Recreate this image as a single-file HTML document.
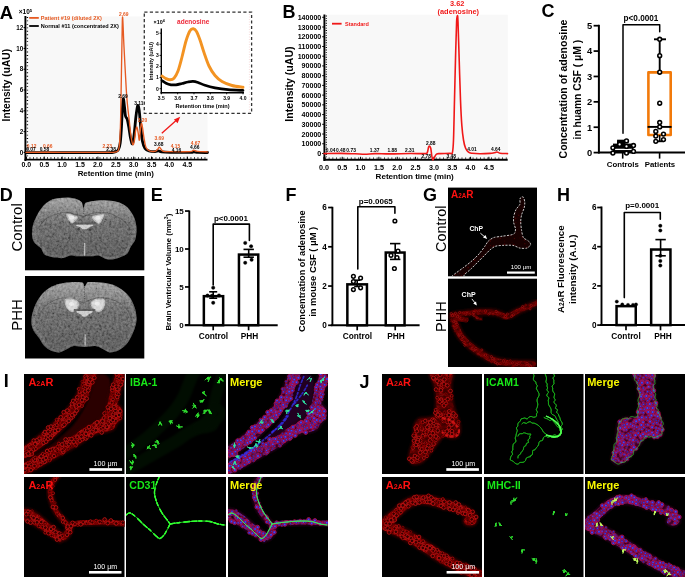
<!DOCTYPE html>
<html><head><meta charset="utf-8"><title>Figure</title>
<style>
html,body{margin:0;padding:0;background:#fff;}
body{width:685px;height:577px;overflow:hidden;}
svg{display:block;font-family:"Liberation Sans", sans-serif;will-change:transform;}
</style></head><body>
<svg width="685" height="577" viewBox="0 0 685 577">
<defs><filter id="soft" x="-5%" y="-5%" width="110%" height="110%"><feGaussianBlur stdDeviation="0.45"/></filter>
<filter id="noise" x="0" y="0" width="100%" height="100%"><feTurbulence type="fractalNoise" baseFrequency="0.42" numOctaves="3" seed="3"/><feColorMatrix type="matrix" values="1.2 0 0 0 -0.1  1.2 0 0 0 -0.1  1.2 0 0 0 -0.1  0 0 0 0 1"/></filter>
<linearGradient id="brainGrad" x1="0" y1="0" x2="0" y2="1"><stop offset="0" stop-color="#b0b0b0" stop-opacity="0.7"/><stop offset="0.22" stop-color="#959595" stop-opacity="0.45"/><stop offset="0.45" stop-color="#707070" stop-opacity="0.05"/><stop offset="0.75" stop-color="#303030" stop-opacity="0.15"/><stop offset="1" stop-color="#303030" stop-opacity="0.25"/></linearGradient>
<pattern id="pR" width="12" height="12" patternUnits="userSpaceOnUse" patternTransform="rotate(20)"><rect width="12" height="12" fill="#5a0000"/><circle cx="5.43" cy="6.72" r="1.46" fill="#3a0000" stroke="#c80a0a" stroke-width="0.75"/><circle cx="5.59" cy="6.09" r="1.29" fill="#3a0000" stroke="#c80a0a" stroke-width="0.75"/><circle cx="2.22" cy="6.14" r="1.31" fill="#3a0000" stroke="#c80a0a" stroke-width="0.75"/><circle cx="14.22" cy="6.14" r="1.31" fill="#3a0000" stroke="#c80a0a" stroke-width="0.75"/><circle cx="9.52" cy="1.13" r="1.15" fill="#3a0000" stroke="#c80a0a" stroke-width="0.75"/><circle cx="9.52" cy="13.13" r="1.15" fill="#3a0000" stroke="#c80a0a" stroke-width="0.75"/><circle cx="1.09" cy="-2.28" r="1.35" fill="#3a0000" stroke="#c80a0a" stroke-width="0.75"/><circle cx="1.09" cy="9.72" r="1.35" fill="#3a0000" stroke="#c80a0a" stroke-width="0.75"/><circle cx="13.09" cy="-2.28" r="1.35" fill="#3a0000" stroke="#c80a0a" stroke-width="0.75"/><circle cx="13.09" cy="9.72" r="1.35" fill="#3a0000" stroke="#c80a0a" stroke-width="0.75"/><circle cx="0.5" cy="-0.21" r="1.48" fill="#3a0000" stroke="#c80a0a" stroke-width="0.75"/><circle cx="0.5" cy="11.79" r="1.48" fill="#3a0000" stroke="#c80a0a" stroke-width="0.75"/><circle cx="12.5" cy="-0.21" r="1.48" fill="#3a0000" stroke="#c80a0a" stroke-width="0.75"/><circle cx="12.5" cy="11.79" r="1.48" fill="#3a0000" stroke="#c80a0a" stroke-width="0.75"/><circle cx="7.85" cy="7.39" r="1.08" fill="#3a0000" stroke="#c80a0a" stroke-width="0.75"/><circle cx="0.18" cy="6.34" r="1.03" fill="#3a0000" stroke="#c80a0a" stroke-width="0.75"/><circle cx="12.18" cy="6.34" r="1.03" fill="#3a0000" stroke="#c80a0a" stroke-width="0.75"/><circle cx="2.28" cy="2.9" r="1.02" fill="#3a0000" stroke="#c80a0a" stroke-width="0.75"/><circle cx="5.57" cy="5.29" r="1.42" fill="#3a0000" stroke="#c80a0a" stroke-width="0.75"/><circle cx="6.23" cy="7.68" r="1.25" fill="#3a0000" stroke="#c80a0a" stroke-width="0.75"/><circle cx="7.95" cy="5.49" r="1.14" fill="#3a0000" stroke="#c80a0a" stroke-width="0.75"/><circle cx="-0.03" cy="-0.05" r="1.42" fill="#3a0000" stroke="#c80a0a" stroke-width="0.75"/><circle cx="-0.03" cy="11.95" r="1.42" fill="#3a0000" stroke="#c80a0a" stroke-width="0.75"/><circle cx="11.97" cy="-0.05" r="1.42" fill="#3a0000" stroke="#c80a0a" stroke-width="0.75"/><circle cx="11.97" cy="11.95" r="1.42" fill="#3a0000" stroke="#c80a0a" stroke-width="0.75"/><circle cx="8.49" cy="3.78" r="1.11" fill="#3a0000" stroke="#c80a0a" stroke-width="0.75"/></pattern>
<pattern id="pR2" width="9" height="9" patternUnits="userSpaceOnUse" patternTransform="rotate(35)"><rect width="9" height="9" fill="#400000"/><circle cx="4.27" cy="5.92" r="0.97" fill="#280000" stroke="#a00606" stroke-width="0.55"/><circle cx="1.28" cy="0.1" r="0.85" fill="#280000" stroke="#a00606" stroke-width="0.55"/><circle cx="1.28" cy="9.1" r="0.85" fill="#280000" stroke="#a00606" stroke-width="0.55"/><circle cx="10.28" cy="0.1" r="0.85" fill="#280000" stroke="#a00606" stroke-width="0.55"/><circle cx="10.28" cy="9.1" r="0.85" fill="#280000" stroke="#a00606" stroke-width="0.55"/><circle cx="2.47" cy="-1.71" r="0.98" fill="#280000" stroke="#a00606" stroke-width="0.55"/><circle cx="2.47" cy="7.29" r="0.98" fill="#280000" stroke="#a00606" stroke-width="0.55"/><circle cx="5.41" cy="5.02" r="0.96" fill="#280000" stroke="#a00606" stroke-width="0.55"/><circle cx="1.31" cy="3.96" r="0.76" fill="#280000" stroke="#a00606" stroke-width="0.55"/><circle cx="10.31" cy="3.96" r="0.76" fill="#280000" stroke="#a00606" stroke-width="0.55"/><circle cx="-0.85" cy="0.53" r="1.03" fill="#280000" stroke="#a00606" stroke-width="0.55"/><circle cx="-0.85" cy="9.53" r="1.03" fill="#280000" stroke="#a00606" stroke-width="0.55"/><circle cx="8.15" cy="0.53" r="1.03" fill="#280000" stroke="#a00606" stroke-width="0.55"/><circle cx="8.15" cy="9.53" r="1.03" fill="#280000" stroke="#a00606" stroke-width="0.55"/><circle cx="0.67" cy="6.18" r="0.83" fill="#280000" stroke="#a00606" stroke-width="0.55"/><circle cx="9.67" cy="6.18" r="0.83" fill="#280000" stroke="#a00606" stroke-width="0.55"/><circle cx="3.64" cy="-1.42" r="0.71" fill="#280000" stroke="#a00606" stroke-width="0.55"/><circle cx="3.64" cy="7.58" r="0.71" fill="#280000" stroke="#a00606" stroke-width="0.55"/><circle cx="0.55" cy="-0.76" r="0.9" fill="#280000" stroke="#a00606" stroke-width="0.55"/><circle cx="0.55" cy="8.24" r="0.9" fill="#280000" stroke="#a00606" stroke-width="0.55"/><circle cx="9.55" cy="-0.76" r="0.9" fill="#280000" stroke="#a00606" stroke-width="0.55"/><circle cx="9.55" cy="8.24" r="0.9" fill="#280000" stroke="#a00606" stroke-width="0.55"/><circle cx="0.82" cy="-0.12" r="1.08" fill="#280000" stroke="#a00606" stroke-width="0.55"/><circle cx="0.82" cy="8.88" r="1.08" fill="#280000" stroke="#a00606" stroke-width="0.55"/><circle cx="9.82" cy="-0.12" r="1.08" fill="#280000" stroke="#a00606" stroke-width="0.55"/><circle cx="9.82" cy="8.88" r="1.08" fill="#280000" stroke="#a00606" stroke-width="0.55"/><circle cx="1.01" cy="3.81" r="0.75" fill="#280000" stroke="#a00606" stroke-width="0.55"/><circle cx="10.01" cy="3.81" r="0.75" fill="#280000" stroke="#a00606" stroke-width="0.55"/><circle cx="2.81" cy="5.59" r="0.77" fill="#280000" stroke="#a00606" stroke-width="0.55"/><circle cx="6.27" cy="0.46" r="0.77" fill="#280000" stroke="#a00606" stroke-width="0.55"/><circle cx="6.27" cy="9.46" r="0.77" fill="#280000" stroke="#a00606" stroke-width="0.55"/><circle cx="-1.66" cy="3.6" r="0.87" fill="#280000" stroke="#a00606" stroke-width="0.55"/><circle cx="7.34" cy="3.6" r="0.87" fill="#280000" stroke="#a00606" stroke-width="0.55"/></pattern>
<pattern id="pM" width="12" height="12" patternUnits="userSpaceOnUse" patternTransform="rotate(20)"><rect width="12" height="12" fill="#3a0028"/><circle cx="3.11" cy="8.22" r="1.44" fill="#401070" stroke="#b8103a" stroke-width="0.7"/><circle cx="3.11" cy="8.22" r="0.79" fill="#3a3aff"/><circle cx="-1.81" cy="2.23" r="1.22" fill="#401070" stroke="#b8103a" stroke-width="0.7"/><circle cx="-1.81" cy="2.23" r="0.67" fill="#3a3aff"/><circle cx="10.19" cy="2.23" r="1.22" fill="#401070" stroke="#b8103a" stroke-width="0.7"/><circle cx="10.19" cy="2.23" r="0.67" fill="#3a3aff"/><circle cx="1.77" cy="2.7" r="1.47" fill="#401070" stroke="#b8103a" stroke-width="0.7"/><circle cx="1.77" cy="2.7" r="0.81" fill="#3a3aff"/><circle cx="13.77" cy="2.7" r="1.47" fill="#401070" stroke="#b8103a" stroke-width="0.7"/><circle cx="13.77" cy="2.7" r="0.81" fill="#3a3aff"/><circle cx="1.56" cy="6.38" r="1.21" fill="#401070" stroke="#b8103a" stroke-width="0.7"/><circle cx="1.56" cy="6.38" r="0.66" fill="#3a3aff"/><circle cx="13.56" cy="6.38" r="1.21" fill="#401070" stroke="#b8103a" stroke-width="0.7"/><circle cx="13.56" cy="6.38" r="0.66" fill="#3a3aff"/><circle cx="3.54" cy="5.18" r="1.52" fill="#401070" stroke="#b8103a" stroke-width="0.7"/><circle cx="3.54" cy="5.18" r="0.84" fill="#3a3aff"/><circle cx="7.3" cy="0.17" r="1.24" fill="#401070" stroke="#b8103a" stroke-width="0.7"/><circle cx="7.3" cy="0.17" r="0.68" fill="#3a3aff"/><circle cx="7.3" cy="12.17" r="1.24" fill="#401070" stroke="#b8103a" stroke-width="0.7"/><circle cx="7.3" cy="12.17" r="0.68" fill="#3a3aff"/><circle cx="1.76" cy="-1.54" r="1.5" fill="#401070" stroke="#b8103a" stroke-width="0.7"/><circle cx="1.76" cy="-1.54" r="0.83" fill="#3a3aff"/><circle cx="1.76" cy="10.46" r="1.5" fill="#401070" stroke="#b8103a" stroke-width="0.7"/><circle cx="1.76" cy="10.46" r="0.83" fill="#3a3aff"/><circle cx="13.76" cy="-1.54" r="1.5" fill="#401070" stroke="#b8103a" stroke-width="0.7"/><circle cx="13.76" cy="-1.54" r="0.83" fill="#3a3aff"/><circle cx="13.76" cy="10.46" r="1.5" fill="#401070" stroke="#b8103a" stroke-width="0.7"/><circle cx="13.76" cy="10.46" r="0.83" fill="#3a3aff"/><circle cx="-2.33" cy="-2.08" r="1.47" fill="#401070" stroke="#b8103a" stroke-width="0.7"/><circle cx="-2.33" cy="-2.08" r="0.81" fill="#3a3aff"/><circle cx="-2.33" cy="9.92" r="1.47" fill="#401070" stroke="#b8103a" stroke-width="0.7"/><circle cx="-2.33" cy="9.92" r="0.81" fill="#3a3aff"/><circle cx="9.67" cy="-2.08" r="1.47" fill="#401070" stroke="#b8103a" stroke-width="0.7"/><circle cx="9.67" cy="-2.08" r="0.81" fill="#3a3aff"/><circle cx="9.67" cy="9.92" r="1.47" fill="#401070" stroke="#b8103a" stroke-width="0.7"/><circle cx="9.67" cy="9.92" r="0.81" fill="#3a3aff"/><circle cx="-0.61" cy="9.53" r="1.23" fill="#401070" stroke="#b8103a" stroke-width="0.7"/><circle cx="-0.61" cy="9.53" r="0.68" fill="#3a3aff"/><circle cx="11.39" cy="9.53" r="1.23" fill="#401070" stroke="#b8103a" stroke-width="0.7"/><circle cx="11.39" cy="9.53" r="0.68" fill="#3a3aff"/><circle cx="-1.8" cy="5.84" r="1.48" fill="#401070" stroke="#b8103a" stroke-width="0.7"/><circle cx="-1.8" cy="5.84" r="0.81" fill="#3a3aff"/><circle cx="10.2" cy="5.84" r="1.48" fill="#401070" stroke="#b8103a" stroke-width="0.7"/><circle cx="10.2" cy="5.84" r="0.81" fill="#3a3aff"/><circle cx="6.77" cy="5.15" r="1.28" fill="#401070" stroke="#b8103a" stroke-width="0.7"/><circle cx="6.77" cy="5.15" r="0.71" fill="#3a3aff"/><circle cx="5.16" cy="3.77" r="1.16" fill="#401070" stroke="#b8103a" stroke-width="0.7"/><circle cx="5.16" cy="3.77" r="0.64" fill="#3a3aff"/><circle cx="-2.16" cy="-2.42" r="1.59" fill="#401070" stroke="#b8103a" stroke-width="0.7"/><circle cx="-2.16" cy="-2.42" r="0.88" fill="#3a3aff"/><circle cx="-2.16" cy="9.58" r="1.59" fill="#401070" stroke="#b8103a" stroke-width="0.7"/><circle cx="-2.16" cy="9.58" r="0.88" fill="#3a3aff"/><circle cx="9.84" cy="-2.42" r="1.59" fill="#401070" stroke="#b8103a" stroke-width="0.7"/><circle cx="9.84" cy="-2.42" r="0.88" fill="#3a3aff"/><circle cx="9.84" cy="9.58" r="1.59" fill="#401070" stroke="#b8103a" stroke-width="0.7"/><circle cx="9.84" cy="9.58" r="0.88" fill="#3a3aff"/></pattern>
<filter id="mottle" x="-5%" y="-5%" width="110%" height="110%"><feTurbulence type="fractalNoise" baseFrequency="0.18" numOctaves="2" seed="7" result="n"/><feColorMatrix in="n" type="matrix" values="0 0 0 0 1  0 0 0 0 1  0 0 0 0 1  1.6 0 0 0 -0.2" result="na"/><feComposite in="SourceGraphic" in2="na" operator="arithmetic" k1="0.9" k2="0.45" k3="0" k4="0"/><feGaussianBlur stdDeviation="0.35"/></filter>
<filter id="blur05" x="-10%" y="-10%" width="120%" height="120%"><feGaussianBlur stdDeviation="0.5"/></filter>
<filter id="blur035" x="-5%" y="-5%" width="110%" height="110%"><feGaussianBlur stdDeviation="0.3"/></filter>
<filter id="blur1" x="-20%" y="-20%" width="140%" height="140%"><feGaussianBlur stdDeviation="1.2"/></filter>
<filter id="glow" x="-20%" y="-20%" width="140%" height="140%"><feGaussianBlur stdDeviation="0.6" result="b"/><feMerge><feMergeNode in="b"/><feMergeNode in="SourceGraphic"/></feMerge></filter>
<g id="cr1"><circle r="1.45" fill="#300000" stroke="#b00c0c" stroke-width="0.8"/></g>
<g id="cr2"><circle r="1.1" fill="#280000" stroke="#960808" stroke-width="0.7"/></g>
<g id="cr3"><circle r="1.8" fill="#340000" stroke="#c01010" stroke-width="0.85"/></g>
<g id="cs1"><circle r="0.9" fill="#3a0000" stroke="#c01010" stroke-width="0.55"/></g>
<g id="cs2"><circle r="0.7" fill="#300000" stroke="#a00c0c" stroke-width="0.5"/></g>
<g id="cs3"><circle r="1.1" fill="#3a0000" stroke="#d01414" stroke-width="0.6"/></g>
<g id="cm1"><circle r="1.55" fill="#341080" stroke="#a80c3c" stroke-width="0.8"/><circle r="0.85" fill="#3c3ce0"/></g>
<g id="cm2"><circle r="1.2" fill="#2a0c70" stroke="#900a38" stroke-width="0.7"/><circle r="0.65" fill="#3434d0"/></g>
<g id="cm3"><circle r="1.9" fill="#3c1490" stroke="#b81044" stroke-width="0.85"/><circle r="1.0" fill="#4646f0"/></g>
<clipPath id="cG1"><rect x="448" y="187.6" width="89" height="88.7"/></clipPath>
<clipPath id="cG2"><rect x="448" y="278.7" width="89" height="88.3"/></clipPath>
<clipPath id="cI00"><rect x="24" y="374" width="100.5" height="100"/></clipPath>
<clipPath id="cI01"><rect x="126" y="374" width="100" height="100"/></clipPath>
<clipPath id="cI02"><rect x="228" y="374" width="100" height="100"/></clipPath>
<clipPath id="cI10"><rect x="24" y="477" width="100.5" height="100"/></clipPath>
<clipPath id="cI11"><rect x="126" y="477" width="100" height="100"/></clipPath>
<clipPath id="cI12"><rect x="228" y="477" width="100" height="100"/></clipPath>
<clipPath id="cJ00"><rect x="382" y="374" width="100" height="100"/></clipPath>
<clipPath id="cJ01"><rect x="484" y="374" width="99.5" height="100"/></clipPath>
<clipPath id="cJ02"><rect x="585" y="374" width="100" height="100"/></clipPath>
<clipPath id="cJ10"><rect x="382" y="477" width="100" height="100"/></clipPath>
<clipPath id="cJ11"><rect x="484" y="477" width="99.5" height="100"/></clipPath>
<clipPath id="cJ12"><rect x="585" y="477" width="100" height="100"/></clipPath>
<clipPath id="bc1"><path d="M83.7 208 C84.28 208.09 84.13 203.85 85.6 202.8 C87.07 201.75 90.98 201.39 93.5 201 C96.02 200.61 99.48 200.19 102.4 200.2 C105.33 200.21 110.06 200.56 113 201.1 C115.94 201.64 119.59 202.59 122 203.8 C124.41 205.02 127.24 207.05 129.1 209.2 C130.96 211.34 133.28 215.17 134.4 218.1 C135.53 221.03 136.47 225.5 136.6 228.7 C136.73 231.89 136.16 236.72 135.3 239.4 C134.45 242.09 132.1 244.45 130.9 246.6 C129.7 248.75 128.91 252.11 127.3 253.7 C125.69 255.29 122.34 256.34 120.2 257.2 C118.06 258.06 115.14 259.13 113 259.4 C110.86 259.67 108.03 259.58 105.9 259 C103.77 258.42 100.93 255.91 98.8 255.5 C96.67 255.09 93.83 256.18 91.7 256.3 C89.57 256.42 86.74 256.3 84.6 256.3 C82.45 256.3 79.55 256.42 77.4 256.3 C75.26 256.18 72.43 255.23 70.3 255.5 C68.17 255.77 65.87 257.85 63.2 258.1 C60.53 258.36 55.3 257.72 52.5 257.2 C49.7 256.68 46.24 255.94 44.5 254.6 C42.76 253.26 42.37 250.04 40.9 248.3 C39.43 246.56 36.04 244.86 34.7 243 C33.37 241.14 32.27 238.57 32 235.9 C31.73 233.23 32.09 228.41 32.9 225.2 C33.71 221.99 35.8 217.44 37.4 214.5 C39 211.56 41.61 207.75 43.6 205.6 C45.59 203.45 48.3 201.32 50.7 200.2 C53.1 199.07 56.93 198.49 59.6 198.1 C62.27 197.71 65.83 197.41 68.5 197.6 C71.17 197.79 75.42 198.71 77.4 199.4 C79.38 200.09 80.76 200.91 81.7 202.2 C82.64 203.49 83.12 207.91 83.7 208Z"/></clipPath>
<clipPath id="bc2"><path d="M84.6 286.5 C85.32 286.5 86.41 283.18 87.2 282.5 C88 281.82 87.89 282 89.9 282 C91.91 282 97.13 282.1 100.6 282.5 C104.06 282.9 109.53 283.44 113 284.7 C116.47 285.96 121.02 288.77 123.7 290.9 C126.39 293.03 129.16 296.09 130.9 298.9 C132.64 301.7 134.45 306.39 135.3 309.6 C136.16 312.81 136.73 317.36 136.6 320.3 C136.47 323.24 135.25 326.66 134.4 329.2 C133.55 331.74 132.1 334.94 130.9 337.2 C129.7 339.46 128.28 342.29 126.4 344.3 C124.53 346.31 120.94 349.39 118.4 350.6 C115.87 351.81 111.9 352.67 109.5 352.4 C107.1 352.13 104.55 349.75 102.4 348.8 C100.26 347.86 97.87 346.37 95.2 346.1 C92.53 345.83 87.79 347 84.6 347 C81.41 347 76.45 345.83 73.9 346.1 C71.35 346.37 69.74 347.86 67.6 348.8 C65.45 349.75 62.13 352.13 59.6 352.4 C57.07 352.67 53.1 351.68 50.7 350.6 C48.3 349.52 45.34 347.07 43.6 345.2 C41.86 343.32 40.57 340.23 39.1 338.1 C37.63 335.97 34.94 333.13 33.8 331 C32.66 328.87 31.77 326.3 31.5 323.9 C31.23 321.5 31.38 317.94 32 315 C32.62 312.06 34.27 307.24 35.6 304.3 C36.94 301.36 38.91 297.81 40.9 295.4 C42.89 292.98 46.09 289.94 48.9 288.2 C51.7 286.46 55.85 284.73 59.6 283.8 C63.35 282.87 70.48 282.19 73.9 282 C77.32 281.81 80.8 281.82 82.4 282.5 C84.01 283.18 83.88 286.5 84.6 286.5Z"/></clipPath></defs>
<rect x="26.5" y="16.5" width="181" height="141" fill="#f8f8f8"/>
<text x="-0.3" y="18.8" font-size="18.4" fill="#000" text-anchor="start" font-weight="bold">A</text>
<text x="18.8" y="13.9" font-size="6.5" fill="#000" text-anchor="start" font-weight="bold">×10<tspan font-size="4.2" dy="-2.2">5</tspan></text>
<line x1="25.4" y1="16" x2="25.4" y2="161" stroke="#000" stroke-width="1.9"/>
<line x1="27.4" y1="17" x2="27.4" y2="158" stroke="#000" stroke-width="1.4" stroke-dasharray="0.9 2.56"/>
<line x1="23.6" y1="152.4" x2="26" y2="152.4" stroke="#000" stroke-width="1.1"/>
<text x="23.2" y="154.65" font-size="6.3" fill="#000" text-anchor="end" font-weight="bold">0</text>
<line x1="23.6" y1="131.6" x2="26" y2="131.6" stroke="#000" stroke-width="1.1"/>
<text x="23.2" y="133.85" font-size="6.3" fill="#000" text-anchor="end" font-weight="bold">2</text>
<line x1="23.6" y1="110.8" x2="26" y2="110.8" stroke="#000" stroke-width="1.1"/>
<text x="23.2" y="113.05" font-size="6.3" fill="#000" text-anchor="end" font-weight="bold">4</text>
<line x1="23.6" y1="90" x2="26" y2="90" stroke="#000" stroke-width="1.1"/>
<text x="23.2" y="92.25" font-size="6.3" fill="#000" text-anchor="end" font-weight="bold">6</text>
<line x1="23.6" y1="69.2" x2="26" y2="69.2" stroke="#000" stroke-width="1.1"/>
<text x="23.2" y="71.45" font-size="6.3" fill="#000" text-anchor="end" font-weight="bold">8</text>
<line x1="23.6" y1="48.4" x2="26" y2="48.4" stroke="#000" stroke-width="1.1"/>
<text x="23.2" y="50.65" font-size="6.3" fill="#000" text-anchor="end" font-weight="bold">10</text>
<line x1="23.6" y1="27.6" x2="26" y2="27.6" stroke="#000" stroke-width="1.1"/>
<text x="23.2" y="29.85" font-size="6.3" fill="#000" text-anchor="end" font-weight="bold">12</text>
<text x="10.2" y="85.2" font-size="10.2" fill="#000" text-anchor="middle" font-weight="bold" transform="rotate(-90 10.2 85.2)">Intensity (uAU)</text>
<line x1="24.5" y1="159.6" x2="207.5" y2="159.6" stroke="#000" stroke-width="1.9"/>
<line x1="26" y1="157.9" x2="207.5" y2="157.9" stroke="#000" stroke-width="1.5" stroke-dasharray="0.9 2.6"/>
<line x1="26.4" y1="156.6" x2="26.4" y2="159" stroke="#000" stroke-width="1"/>
<text x="26.4" y="167.3" font-size="7" fill="#000" text-anchor="middle" font-weight="bold">0.0</text>
<line x1="44.27" y1="156.6" x2="44.27" y2="159" stroke="#000" stroke-width="1"/>
<text x="44.27" y="167.3" font-size="7" fill="#000" text-anchor="middle" font-weight="bold">0.5</text>
<line x1="62.15" y1="156.6" x2="62.15" y2="159" stroke="#000" stroke-width="1"/>
<text x="62.15" y="167.3" font-size="7" fill="#000" text-anchor="middle" font-weight="bold">1.0</text>
<line x1="80.03" y1="156.6" x2="80.03" y2="159" stroke="#000" stroke-width="1"/>
<text x="80.03" y="167.3" font-size="7" fill="#000" text-anchor="middle" font-weight="bold">1.5</text>
<line x1="97.9" y1="156.6" x2="97.9" y2="159" stroke="#000" stroke-width="1"/>
<text x="97.9" y="167.3" font-size="7" fill="#000" text-anchor="middle" font-weight="bold">2.0</text>
<line x1="115.78" y1="156.6" x2="115.78" y2="159" stroke="#000" stroke-width="1"/>
<text x="115.78" y="167.3" font-size="7" fill="#000" text-anchor="middle" font-weight="bold">2.5</text>
<line x1="133.65" y1="156.6" x2="133.65" y2="159" stroke="#000" stroke-width="1"/>
<text x="133.65" y="167.3" font-size="7" fill="#000" text-anchor="middle" font-weight="bold">3.0</text>
<line x1="151.53" y1="156.6" x2="151.53" y2="159" stroke="#000" stroke-width="1"/>
<text x="151.53" y="167.3" font-size="7" fill="#000" text-anchor="middle" font-weight="bold">3.5</text>
<line x1="169.4" y1="156.6" x2="169.4" y2="159" stroke="#000" stroke-width="1"/>
<text x="169.4" y="167.3" font-size="7" fill="#000" text-anchor="middle" font-weight="bold">4.0</text>
<line x1="187.28" y1="156.6" x2="187.28" y2="159" stroke="#000" stroke-width="1"/>
<text x="187.28" y="167.3" font-size="7" fill="#000" text-anchor="middle" font-weight="bold">4.5</text>
<text x="115.8" y="176.3" font-size="7.9" fill="#000" text-anchor="middle" font-weight="bold">Retention time (min)</text>
<line x1="29.2" y1="17.9" x2="38.8" y2="17.9" stroke="#e65a22" stroke-width="1.8"/>
<text x="40.8" y="19.8" font-size="5.55" fill="#e65a22" text-anchor="start" font-weight="bold">Patient #19 (diluted 2X)</text>
<line x1="29.2" y1="26" x2="38.8" y2="26" stroke="#000" stroke-width="1.8"/>
<text x="40.8" y="27.9" font-size="5.55" fill="#000" text-anchor="start" font-weight="bold">Normal #11 (concentrated 2X)</text>
<path d="M26 152.6 C31.67 152.6 47.67 152.58 60 152.6 C72.33 152.62 91.33 152.72 100 152.7 C108.67 152.68 109.33 152.7 112 152.5 C114.67 152.3 114.92 152 116 151.5 C117.08 151 117.8 150.92 118.5 149.5 C119.2 148.08 119.73 146.25 120.2 143 C120.67 139.75 120.95 135.5 121.3 130 C121.65 124.5 121.97 115.2 122.3 110 C122.63 104.8 122.93 99.3 123.3 98.8 C123.67 98.3 124.13 104.13 124.5 107 C124.87 109.87 125.03 113.92 125.5 116 C125.97 118.08 126.75 117.67 127.3 119.5 C127.85 121.33 128.27 123.92 128.8 127 C129.33 130.08 129.88 135.2 130.5 138 C131.12 140.8 131.87 144.63 132.5 143.8 C133.13 142.97 133.72 137.63 134.3 133 C134.88 128.37 135.43 120.57 136 116 C136.57 111.43 137.17 106.52 137.7 105.6 C138.23 104.68 138.68 106.77 139.2 110.5 C139.72 114.23 140.25 122.83 140.8 128 C141.35 133.17 141.8 138.08 142.5 141.5 C143.2 144.92 143.92 146.92 145 148.5 C146.08 150.08 147.33 150.48 149 151 C150.67 151.52 153.43 151.62 155 151.6 C156.57 151.58 157.32 150.87 158.4 150.9 C159.48 150.93 159.57 151.57 161.5 151.8 C163.43 152.03 165.25 152.2 170 152.3 C174.75 152.4 186 152.48 190 152.4 C194 152.32 192.67 151.8 194 151.8 C195.33 151.8 195.75 152.28 198 152.4 C200.25 152.52 205.92 152.48 207.5 152.5" stroke="#000" stroke-width="2.8" fill="none" stroke-linejoin="round" stroke-linecap="round"/>
<path d="M26 152.3 C31.67 152.3 47.67 152.28 60 152.3 C72.33 152.32 91.17 152.4 100 152.4 C108.83 152.4 110.25 152.4 113 152.3 C115.75 152.2 115.58 152.18 116.5 151.8 C117.42 151.42 117.98 151.47 118.5 150 C119.02 148.53 119.25 148 119.6 143 C119.95 138 120.32 130.5 120.6 120 C120.88 109.5 121.07 93.33 121.3 80 C121.53 66.67 121.78 50.5 122 40 C122.22 29.5 122.28 16.17 122.6 17 C122.92 17.83 123.28 32.83 123.9 45 C124.52 57.17 125.68 79.83 126.3 90 C126.92 100.17 127.12 101 127.6 106 C128.08 111 128.68 115.33 129.2 120 C129.72 124.67 130.1 129.9 130.7 134 C131.3 138.1 132.17 143.6 132.8 144.6 C133.43 145.6 134.03 142.27 134.5 140 C134.97 137.73 135.2 133.17 135.6 131 C136 128.83 136.47 126.67 136.9 127 C137.33 127.33 137.8 130.8 138.2 133 C138.6 135.2 138.95 140.53 139.3 140.2 C139.65 139.87 139.95 133.8 140.3 131 C140.65 128.2 141.02 123.9 141.4 123.4 C141.78 122.9 142.17 125.57 142.6 128 C143.03 130.43 143.43 134.75 144 138 C144.57 141.25 145.08 145.37 146 147.5 C146.92 149.63 148 150.17 149.5 150.8 C151 151.43 153.67 151.52 155 151.3 C156.33 151.08 156.77 150.18 157.5 149.5 C158.23 148.82 158.77 147.18 159.4 147.2 C160.03 147.22 160.62 148.92 161.3 149.6 C161.98 150.28 162.05 150.97 163.5 151.3 C164.95 151.63 165.58 151.55 170 151.6 C174.42 151.65 186.08 151.83 190 151.6 C193.92 151.37 192.5 150.27 193.5 150.2 C194.5 150.13 194.92 150.95 196 151.2 C197.08 151.45 198.08 151.6 200 151.7 C201.92 151.8 206.25 151.78 207.5 151.8" stroke="#e65a22" stroke-width="1.35" fill="none" stroke-linejoin="round" stroke-linecap="round"/>
<text x="31.6" y="147.6" font-size="4.9" fill="#e65a22" text-anchor="middle" font-weight="bold">0.12</text>
<text x="47.8" y="147.6" font-size="4.9" fill="#e65a22" text-anchor="middle" font-weight="bold">0.66</text>
<text x="107.3" y="147.6" font-size="4.9" fill="#e65a22" text-anchor="middle" font-weight="bold">2.23</text>
<text x="123.8" y="15.8" font-size="4.9" fill="#e65a22" text-anchor="middle" font-weight="bold">2.69</text>
<text x="142.5" y="122.1" font-size="4.9" fill="#e65a22" text-anchor="middle" font-weight="bold">3.20</text>
<text x="159.3" y="139.9" font-size="4.9" fill="#e65a22" text-anchor="middle" font-weight="bold">3.69</text>
<text x="175.4" y="147.9" font-size="4.9" fill="#e65a22" text-anchor="middle" font-weight="bold">4.15</text>
<text x="195.5" y="145.3" font-size="4.9" fill="#e65a22" text-anchor="middle" font-weight="bold">4.67</text>
<text x="31" y="151.4" font-size="4.9" fill="#000" text-anchor="middle" font-weight="bold">0.07</text>
<text x="44.4" y="151.4" font-size="4.9" fill="#000" text-anchor="middle" font-weight="bold">0.58</text>
<text x="111.1" y="151.4" font-size="4.9" fill="#000" text-anchor="middle" font-weight="bold">2.38</text>
<text x="123" y="97.6" font-size="4.9" fill="#000" text-anchor="middle" font-weight="bold">2.69</text>
<text x="138.8" y="104.9" font-size="4.9" fill="#000" text-anchor="middle" font-weight="bold">3.11</text>
<text x="158.8" y="145.7" font-size="4.9" fill="#000" text-anchor="middle" font-weight="bold">3.68</text>
<text x="176.4" y="151.5" font-size="4.9" fill="#000" text-anchor="middle" font-weight="bold">4.16</text>
<text x="194.8" y="149.3" font-size="4.9" fill="#000" text-anchor="middle" font-weight="bold">4.66</text>
<line x1="161.8" y1="133.2" x2="177.5" y2="119.3" stroke="#f01818" stroke-width="1.3"/>
<path d="M180.2 116.8 L173.9 119.6 L177.6 123.3 Z" fill="#f01818"/>
<rect x="144.3" y="12.2" width="107.3" height="101.2" fill="#fff"/>
<rect x="144.3" y="12.2" width="107.3" height="101.2" fill="none" stroke="#333" stroke-width="1.3" stroke-dasharray="3.2 2.3"/>
<line x1="161.3" y1="28.5" x2="161.3" y2="93.4" stroke="#000" stroke-width="1.4"/>
<line x1="160.6" y1="92.7" x2="244" y2="92.7" stroke="#000" stroke-width="1.4"/>
<line x1="159.6" y1="88.7" x2="161.3" y2="88.7" stroke="#000" stroke-width="0.9"/>
<text x="158.7" y="90.5" font-size="5" fill="#000" text-anchor="end" font-weight="bold">0</text>
<line x1="159.6" y1="77.6" x2="161.3" y2="77.6" stroke="#000" stroke-width="0.9"/>
<text x="158.7" y="79.4" font-size="5" fill="#000" text-anchor="end" font-weight="bold">1</text>
<line x1="159.6" y1="66.5" x2="161.3" y2="66.5" stroke="#000" stroke-width="0.9"/>
<text x="158.7" y="68.3" font-size="5" fill="#000" text-anchor="end" font-weight="bold">2</text>
<line x1="159.6" y1="55.4" x2="161.3" y2="55.4" stroke="#000" stroke-width="0.9"/>
<text x="158.7" y="57.2" font-size="5" fill="#000" text-anchor="end" font-weight="bold">3</text>
<line x1="159.6" y1="44.3" x2="161.3" y2="44.3" stroke="#000" stroke-width="0.9"/>
<text x="158.7" y="46.1" font-size="5" fill="#000" text-anchor="end" font-weight="bold">4</text>
<line x1="159.6" y1="33.2" x2="161.3" y2="33.2" stroke="#000" stroke-width="0.9"/>
<text x="158.7" y="35" font-size="5" fill="#000" text-anchor="end" font-weight="bold">5</text>
<line x1="161.3" y1="92.7" x2="161.3" y2="94.3" stroke="#000" stroke-width="0.9"/>
<text x="161.3" y="99.6" font-size="5" fill="#000" text-anchor="middle" font-weight="bold">3.5</text>
<line x1="177.64" y1="92.7" x2="177.64" y2="94.3" stroke="#000" stroke-width="0.9"/>
<text x="177.64" y="99.6" font-size="5" fill="#000" text-anchor="middle" font-weight="bold">3.6</text>
<line x1="193.98" y1="92.7" x2="193.98" y2="94.3" stroke="#000" stroke-width="0.9"/>
<text x="193.98" y="99.6" font-size="5" fill="#000" text-anchor="middle" font-weight="bold">3.7</text>
<line x1="210.32" y1="92.7" x2="210.32" y2="94.3" stroke="#000" stroke-width="0.9"/>
<text x="210.32" y="99.6" font-size="5" fill="#000" text-anchor="middle" font-weight="bold">3.8</text>
<line x1="226.66" y1="92.7" x2="226.66" y2="94.3" stroke="#000" stroke-width="0.9"/>
<text x="226.66" y="99.6" font-size="5" fill="#000" text-anchor="middle" font-weight="bold">3.9</text>
<line x1="243" y1="92.7" x2="243" y2="94.3" stroke="#000" stroke-width="0.9"/>
<text x="243" y="99.6" font-size="5" fill="#000" text-anchor="middle" font-weight="bold">4.0</text>
<text x="153.6" y="24.2" font-size="5.4" fill="#000" text-anchor="start" font-weight="bold">×10<tspan font-size="3.6" dy="-1.8">4</tspan></text>
<text x="193.2" y="24" font-size="6.5" fill="#ee2a3a" text-anchor="middle" font-weight="bold">adenosine</text>
<text x="152.5" y="61" font-size="5.4" fill="#000" text-anchor="middle" font-weight="bold" transform="rotate(-90 152.5 61)">Intensity (uAU)</text>
<text x="202.5" y="108.2" font-size="5.6" fill="#000" text-anchor="middle" font-weight="bold">Retention time (min)</text>
<path d="M162 80.6 C162.67 81.03 164.5 82.5 166 83.2 C167.5 83.9 169.33 84.53 171 84.8 C172.67 85.07 174.17 85.02 176 84.8 C177.83 84.58 180 83.97 182 83.5 C184 83.03 186.17 82.35 188 82 C189.83 81.65 191.33 81.32 193 81.4 C194.67 81.48 196 81.85 198 82.5 C200 83.15 202.17 84.42 205 85.3 C207.83 86.18 211.17 87.08 215 87.8 C218.83 88.52 223.33 89.17 228 89.6 C232.67 90.03 240.5 90.27 243 90.4" stroke="#000" stroke-width="2.7" fill="none" stroke-linejoin="round" stroke-linecap="round"/>
<path d="M162 76 C162.67 76.43 164.67 77.97 166 78.6 C167.33 79.23 168.67 79.87 170 79.8 C171.33 79.73 172.67 79.67 174 78.2 C175.33 76.73 176.67 74.53 178 71 C179.33 67.47 180.67 62 182 57 C183.33 52 184.67 45.37 186 41 C187.33 36.63 188.78 32.83 190 30.8 C191.22 28.77 192.22 28.68 193.3 28.8 C194.38 28.92 195.38 29.63 196.5 31.5 C197.62 33.37 198.75 36.5 200 40 C201.25 43.5 202.5 48.17 204 52.5 C205.5 56.83 207.17 62.17 209 66 C210.83 69.83 212.83 72.92 215 75.5 C217.17 78.08 219.17 79.83 222 81.5 C224.83 83.17 228.5 84.53 232 85.5 C235.5 86.47 241.17 87 243 87.3" stroke="#f39322" stroke-width="2.9" fill="none" stroke-linejoin="round" stroke-linecap="round"/>
<line x1="249.4" y1="14" x2="249.4" y2="112" stroke="#f3c8c8" stroke-width="0.6" stroke-dasharray="1 1.5"/>
<rect x="325.5" y="14.7" width="182.3" height="143" fill="#f8f8f8"/>
<text x="282.6" y="18" font-size="18" fill="#000" text-anchor="start" font-weight="bold">B</text>
<line x1="324.4" y1="14.5" x2="324.4" y2="161" stroke="#000" stroke-width="1.9"/>
<line x1="326.3" y1="15.5" x2="326.3" y2="158" stroke="#000" stroke-width="1.3" stroke-dasharray="0.9 1.53"/>
<line x1="322.2" y1="153.5" x2="324.5" y2="153.5" stroke="#000" stroke-width="1"/>
<text x="321.3" y="156" font-size="7.1" fill="#000" text-anchor="end" font-weight="bold">0</text>
<line x1="322.2" y1="143.77" x2="324.5" y2="143.77" stroke="#000" stroke-width="1"/>
<text x="321.3" y="146.27" font-size="7.1" fill="#000" text-anchor="end" font-weight="bold">10000</text>
<line x1="322.2" y1="134.04" x2="324.5" y2="134.04" stroke="#000" stroke-width="1"/>
<text x="321.3" y="136.54" font-size="7.1" fill="#000" text-anchor="end" font-weight="bold">20000</text>
<line x1="322.2" y1="124.31" x2="324.5" y2="124.31" stroke="#000" stroke-width="1"/>
<text x="321.3" y="126.81" font-size="7.1" fill="#000" text-anchor="end" font-weight="bold">30000</text>
<line x1="322.2" y1="114.58" x2="324.5" y2="114.58" stroke="#000" stroke-width="1"/>
<text x="321.3" y="117.08" font-size="7.1" fill="#000" text-anchor="end" font-weight="bold">40000</text>
<line x1="322.2" y1="104.85" x2="324.5" y2="104.85" stroke="#000" stroke-width="1"/>
<text x="321.3" y="107.35" font-size="7.1" fill="#000" text-anchor="end" font-weight="bold">50000</text>
<line x1="322.2" y1="95.12" x2="324.5" y2="95.12" stroke="#000" stroke-width="1"/>
<text x="321.3" y="97.62" font-size="7.1" fill="#000" text-anchor="end" font-weight="bold">60000</text>
<line x1="322.2" y1="85.39" x2="324.5" y2="85.39" stroke="#000" stroke-width="1"/>
<text x="321.3" y="87.89" font-size="7.1" fill="#000" text-anchor="end" font-weight="bold">70000</text>
<line x1="322.2" y1="75.66" x2="324.5" y2="75.66" stroke="#000" stroke-width="1"/>
<text x="321.3" y="78.16" font-size="7.1" fill="#000" text-anchor="end" font-weight="bold">80000</text>
<line x1="322.2" y1="65.93" x2="324.5" y2="65.93" stroke="#000" stroke-width="1"/>
<text x="321.3" y="68.43" font-size="7.1" fill="#000" text-anchor="end" font-weight="bold">90000</text>
<line x1="322.2" y1="56.2" x2="324.5" y2="56.2" stroke="#000" stroke-width="1"/>
<text x="321.3" y="58.7" font-size="7.1" fill="#000" text-anchor="end" font-weight="bold">100000</text>
<line x1="322.2" y1="46.47" x2="324.5" y2="46.47" stroke="#000" stroke-width="1"/>
<text x="321.3" y="48.97" font-size="7.1" fill="#000" text-anchor="end" font-weight="bold">110000</text>
<line x1="322.2" y1="36.74" x2="324.5" y2="36.74" stroke="#000" stroke-width="1"/>
<text x="321.3" y="39.24" font-size="7.1" fill="#000" text-anchor="end" font-weight="bold">120000</text>
<line x1="322.2" y1="27.01" x2="324.5" y2="27.01" stroke="#000" stroke-width="1"/>
<text x="321.3" y="29.51" font-size="7.1" fill="#000" text-anchor="end" font-weight="bold">130000</text>
<line x1="322.2" y1="17.28" x2="324.5" y2="17.28" stroke="#000" stroke-width="1"/>
<text x="321.3" y="19.78" font-size="7.1" fill="#000" text-anchor="end" font-weight="bold">140000</text>
<text x="293.1" y="84" font-size="10.6" fill="#000" text-anchor="middle" font-weight="bold" transform="rotate(-90 293.1 84)">Intensity (uAU)</text>
<line x1="323.5" y1="159.8" x2="507.7" y2="159.8" stroke="#000" stroke-width="1.9"/>
<line x1="325" y1="158.1" x2="507.7" y2="158.1" stroke="#000" stroke-width="1.4" stroke-dasharray="0.9 2.79"/>
<line x1="323.9" y1="156.8" x2="323.9" y2="159" stroke="#000" stroke-width="1"/>
<text x="323.9" y="169.5" font-size="7.2" fill="#000" text-anchor="middle" font-weight="bold">0.0</text>
<line x1="342.23" y1="156.8" x2="342.23" y2="159" stroke="#000" stroke-width="1"/>
<text x="342.23" y="169.5" font-size="7.2" fill="#000" text-anchor="middle" font-weight="bold">0.5</text>
<line x1="360.57" y1="156.8" x2="360.57" y2="159" stroke="#000" stroke-width="1"/>
<text x="360.57" y="169.5" font-size="7.2" fill="#000" text-anchor="middle" font-weight="bold">1.0</text>
<line x1="378.9" y1="156.8" x2="378.9" y2="159" stroke="#000" stroke-width="1"/>
<text x="378.9" y="169.5" font-size="7.2" fill="#000" text-anchor="middle" font-weight="bold">1.5</text>
<line x1="397.24" y1="156.8" x2="397.24" y2="159" stroke="#000" stroke-width="1"/>
<text x="397.24" y="169.5" font-size="7.2" fill="#000" text-anchor="middle" font-weight="bold">2.0</text>
<line x1="415.57" y1="156.8" x2="415.57" y2="159" stroke="#000" stroke-width="1"/>
<text x="415.57" y="169.5" font-size="7.2" fill="#000" text-anchor="middle" font-weight="bold">2.5</text>
<line x1="433.91" y1="156.8" x2="433.91" y2="159" stroke="#000" stroke-width="1"/>
<text x="433.91" y="169.5" font-size="7.2" fill="#000" text-anchor="middle" font-weight="bold">3.0</text>
<line x1="452.25" y1="156.8" x2="452.25" y2="159" stroke="#000" stroke-width="1"/>
<text x="452.25" y="169.5" font-size="7.2" fill="#000" text-anchor="middle" font-weight="bold">3.5</text>
<line x1="470.58" y1="156.8" x2="470.58" y2="159" stroke="#000" stroke-width="1"/>
<text x="470.58" y="169.5" font-size="7.2" fill="#000" text-anchor="middle" font-weight="bold">4.0</text>
<line x1="488.91" y1="156.8" x2="488.91" y2="159" stroke="#000" stroke-width="1"/>
<text x="488.91" y="169.5" font-size="7.2" fill="#000" text-anchor="middle" font-weight="bold">4.5</text>
<text x="414.7" y="179.1" font-size="8.1" fill="#000" text-anchor="middle" font-weight="bold">Retention time (min)</text>
<line x1="332" y1="23.7" x2="341.6" y2="23.7" stroke="#f01818" stroke-width="1.8"/>
<text x="345" y="25.7" font-size="5.5" fill="#f01818" text-anchor="start" font-weight="bold">Standard</text>
<text x="457.2" y="6" font-size="7.4" fill="#f01818" text-anchor="middle" font-weight="bold">3.62</text>
<text x="458.3" y="13.9" font-size="7.4" fill="#f01818" text-anchor="middle" font-weight="bold">(adenosine)</text>
<path d="M324 153.6 C326.67 153.57 334.83 153.37 340 153.4 C345.17 153.43 350.83 153.67 355 153.8 C359.17 153.93 361.67 154.23 365 154.2 C368.33 154.17 370.83 153.65 375 153.6 C379.17 153.55 384.17 153.92 390 153.9 C395.83 153.88 404.17 153.55 410 153.5 C415.83 153.45 422.12 153.77 425 153.6 C427.88 153.43 426.7 153.6 427.3 152.5 C427.9 151.4 428.22 148.05 428.6 147 C428.98 145.95 429.23 145.95 429.6 146.2 C429.97 146.45 430.43 146.87 430.8 148.5 C431.17 150.13 431.47 154.12 431.8 156 C432.13 157.88 432.4 159.55 432.8 159.8 C433.2 160.05 433.58 158.43 434.2 157.5 C434.82 156.57 435.53 154.85 436.5 154.2 C437.47 153.55 437.75 153.73 440 153.6 C442.25 153.47 447.93 153.57 450 153.4 C452.07 153.23 451.82 154.83 452.4 152.6 C452.98 150.37 453.15 148.77 453.5 140 C453.85 131.23 454.15 114.17 454.5 100 C454.85 85.83 455.25 68 455.6 55 C455.95 42 456.32 28.58 456.6 22 C456.88 15.42 457.07 15.5 457.3 15.5 C457.53 15.5 457.68 14.58 458 22 C458.32 29.42 458.78 47 459.2 60 C459.62 73 460.07 89.17 460.5 100 C460.93 110.83 461.3 118.33 461.8 125 C462.3 131.67 462.88 136.17 463.5 140 C464.12 143.83 464.67 145.97 465.5 148 C466.33 150.03 467.42 151.32 468.5 152.2 C469.58 153.08 470.08 153.03 472 153.3 C473.92 153.57 477 153.78 480 153.8 C483 153.82 487.67 153.57 490 153.4 C492.33 153.23 492.83 153.03 494 152.8 C495.17 152.57 496 151.93 497 152 C498 152.07 498.25 152.93 500 153.2 C501.75 153.47 506.25 153.53 507.5 153.6" stroke="#f01818" stroke-width="1.6" fill="none" stroke-linejoin="round" stroke-linecap="round"/>
<text x="330.6" y="151.5" font-size="4.9" fill="#000" text-anchor="middle" font-weight="bold">0.04</text>
<text x="340.7" y="151.5" font-size="4.9" fill="#000" text-anchor="middle" font-weight="bold">0.48</text>
<text x="351.1" y="151.5" font-size="4.9" fill="#000" text-anchor="middle" font-weight="bold">0.73</text>
<text x="374.6" y="151.5" font-size="4.9" fill="#000" text-anchor="middle" font-weight="bold">1.37</text>
<text x="392.2" y="151.5" font-size="4.9" fill="#000" text-anchor="middle" font-weight="bold">1.88</text>
<text x="409.8" y="151.5" font-size="4.9" fill="#000" text-anchor="middle" font-weight="bold">2.31</text>
<text x="430.7" y="144.5" font-size="4.9" fill="#000" text-anchor="middle" font-weight="bold">2.88</text>
<text x="426.2" y="158.4" font-size="4.9" fill="#000" text-anchor="middle" font-weight="bold">2.78</text>
<text x="451.2" y="158.4" font-size="4.9" fill="#000" text-anchor="middle" font-weight="bold">3.48</text>
<text x="472" y="151.1" font-size="4.9" fill="#000" text-anchor="middle" font-weight="bold">4.01</text>
<text x="495.7" y="151.1" font-size="4.9" fill="#000" text-anchor="middle" font-weight="bold">4.64</text>
<text x="541.4" y="16.6" font-size="18" fill="#000" text-anchor="start" font-weight="bold">C</text>
<line x1="598.9" y1="24.8" x2="598.9" y2="153.5" stroke="#000" stroke-width="2"/>
<line x1="598.5" y1="152.6" x2="685" y2="152.6" stroke="#000" stroke-width="2"/>
<line x1="593.6" y1="152.6" x2="599" y2="152.6" stroke="#000" stroke-width="1.75"/>
<text x="592.3" y="156" font-size="9.4" fill="#000" text-anchor="end" font-weight="bold">0</text>
<line x1="593.6" y1="127.22" x2="599" y2="127.22" stroke="#000" stroke-width="1.75"/>
<text x="592.3" y="130.62" font-size="9.4" fill="#000" text-anchor="end" font-weight="bold">1</text>
<line x1="593.6" y1="101.84" x2="599" y2="101.84" stroke="#000" stroke-width="1.75"/>
<text x="592.3" y="105.24" font-size="9.4" fill="#000" text-anchor="end" font-weight="bold">2</text>
<line x1="593.6" y1="76.46" x2="599" y2="76.46" stroke="#000" stroke-width="1.75"/>
<text x="592.3" y="79.86" font-size="9.4" fill="#000" text-anchor="end" font-weight="bold">3</text>
<line x1="593.6" y1="51.08" x2="599" y2="51.08" stroke="#000" stroke-width="1.75"/>
<text x="592.3" y="54.48" font-size="9.4" fill="#000" text-anchor="end" font-weight="bold">4</text>
<line x1="593.6" y1="25.7" x2="599" y2="25.7" stroke="#000" stroke-width="1.75"/>
<text x="592.3" y="29.1" font-size="9.4" fill="#000" text-anchor="end" font-weight="bold">5</text>
<text x="566.6" y="89" font-size="10.5" fill="#000" text-anchor="middle" font-weight="bold" transform="rotate(-90 566.6 89)">Concentration of adenosine</text>
<text x="580.6" y="89.6" font-size="10.3" fill="#000" text-anchor="middle" font-weight="bold" transform="rotate(-90 580.6 89.6)">in huamn CSF ( μM )</text>
<line x1="622.7" y1="152.6" x2="622.7" y2="158.6" stroke="#000" stroke-width="1.6"/>
<line x1="659.6" y1="152.6" x2="659.6" y2="158.6" stroke="#000" stroke-width="1.6"/>
<text x="622.8" y="167" font-size="7.8" fill="#000" text-anchor="middle" font-weight="bold">Controls</text>
<text x="660" y="167" font-size="7.8" fill="#000" text-anchor="middle" font-weight="bold">Patients</text>
<path d="M623 133.2 L623 24.8 L659.7 24.8 L659.7 31.8" stroke="#000" stroke-width="1.5" fill="none" stroke-linejoin="round" stroke-linecap="round"/>
<text x="641" y="20.9" font-size="8.2" fill="#000" text-anchor="middle" font-weight="bold">p&lt;0.0001</text>
<rect x="648.4" y="72.4" width="22.3" height="62.6" fill="#fff" stroke="#f27a0a" stroke-width="2.6" stroke-linejoin="round"/>
<line x1="659.7" y1="39.3" x2="659.7" y2="72.4" stroke="#000" stroke-width="1.9"/>
<line x1="654" y1="39.3" x2="666" y2="39.3" stroke="#000" stroke-width="1.9"/>
<line x1="647.6" y1="126.9" x2="671.6" y2="126.9" stroke="#000" stroke-width="1.9"/>
<line x1="655.8" y1="141.3" x2="663.5" y2="141.3" stroke="#000" stroke-width="1.8"/>
<line x1="659.7" y1="135" x2="659.7" y2="141.3" stroke="#000" stroke-width="1.6"/>
<circle cx="659.7" cy="39.3" r="1.9" fill="#fff" stroke="#000" stroke-width="1.55"/>
<circle cx="659.7" cy="55.7" r="1.9" fill="#fff" stroke="#000" stroke-width="1.55"/>
<circle cx="659.7" cy="72.2" r="1.9" fill="#fff" stroke="#000" stroke-width="1.55"/>
<circle cx="659.7" cy="103.2" r="1.9" fill="#fff" stroke="#000" stroke-width="1.55"/>
<circle cx="659.7" cy="122.5" r="1.9" fill="#fff" stroke="#000" stroke-width="1.55"/>
<circle cx="659.7" cy="126.9" r="1.9" fill="#fff" stroke="#000" stroke-width="1.55"/>
<circle cx="655.8" cy="131.4" r="1.9" fill="#fff" stroke="#000" stroke-width="1.55"/>
<circle cx="663.5" cy="134.1" r="1.9" fill="#fff" stroke="#000" stroke-width="1.55"/>
<circle cx="655.8" cy="136.1" r="1.9" fill="#fff" stroke="#000" stroke-width="1.55"/>
<circle cx="663.5" cy="139.6" r="1.9" fill="#fff" stroke="#000" stroke-width="1.55"/>
<circle cx="655.8" cy="141.3" r="1.9" fill="#fff" stroke="#000" stroke-width="1.55"/>
<rect x="613" y="143.6" width="20.5" height="8.4" fill="#000"/>
<rect x="617" y="140.5" width="8.5" height="4" fill="#000"/>
<line x1="617.1" y1="140.7" x2="625" y2="140.7" stroke="#000" stroke-width="2"/>
<line x1="621" y1="140.7" x2="621" y2="144.6" stroke="#000" stroke-width="2"/>
<line x1="615" y1="149.4" x2="632" y2="149.4" stroke="#fff" stroke-width="1.3"/>
<circle cx="626.5" cy="140.9" r="1.9" fill="#fff" stroke="#000" stroke-width="1.55"/>
<circle cx="619.6" cy="144.4" r="1.9" fill="#fff" stroke="#000" stroke-width="1.55"/>
<circle cx="633.5" cy="145.5" r="1.9" fill="#fff" stroke="#000" stroke-width="1.55"/>
<circle cx="612.9" cy="147.8" r="1.9" fill="#fff" stroke="#000" stroke-width="1.55"/>
<circle cx="626.5" cy="146.4" r="1.9" fill="#fff" stroke="#000" stroke-width="1.55"/>
<circle cx="633.5" cy="151.4" r="1.9" fill="#fff" stroke="#000" stroke-width="1.55"/>
<circle cx="612.9" cy="153" r="1.9" fill="#fff" stroke="#000" stroke-width="1.55"/>
<circle cx="626.5" cy="153" r="1.9" fill="#fff" stroke="#000" stroke-width="1.55"/>
<text x="423.1" y="201" font-size="18" fill="#000" text-anchor="start" font-weight="bold">G</text>
<text x="446.3" y="228.8" font-size="14.4" fill="#000" text-anchor="middle" font-weight="normal" transform="rotate(-90 446.3 228.8)">Control</text>
<text x="446.3" y="316.5" font-size="14.6" fill="#000" text-anchor="middle" font-weight="normal" transform="rotate(-90 446.3 316.5)">PHH</text>
<rect x="448" y="187.6" width="89" height="88.7" fill="#000"/>
<rect x="448" y="278.7" width="89" height="88.3" fill="#000"/>
<text x="451" y="198.4" font-size="10" fill="#ff1010" font-weight="bold">A<tspan font-size="6.3">2A</tspan>R</text>
<g clip-path="url(#cG1)">
<path d="M452.5 276.5 C451.33 276.21 452.69 275.53 454.2 274.3 C455.71 273.07 461.35 269.17 463.8 267.3 C466.25 265.43 470.49 262.17 472.6 260.3 C474.71 258.43 477.97 255.17 479.6 253.3 C481.23 251.43 483.64 247.93 484.8 246.3 C485.96 244.67 487.13 242.26 488.3 241.1 C489.47 239.94 491.73 238.25 493.6 237.6 C495.47 236.95 499.97 236.56 502.3 236.2 C504.63 235.84 509.46 235.3 511.1 234.9 C512.74 234.5 514.01 234.01 514.6 233.2 C515.19 232.39 515.62 230.2 515.5 228.8 C515.38 227.4 513.94 224.34 513.7 222.7 C513.46 221.06 513.39 218.26 513.7 216.5 C514.01 214.74 515.17 211.13 516 209.5 C516.83 207.87 519.38 205.7 519.9 204.3 C520.42 202.9 519.67 199.97 519.9 199 C520.13 198.03 521.11 197.21 521.6 197 C522.09 196.79 523.17 196.67 523.6 197.4 C524.03 198.13 524.72 201.11 524.8 202.5 C524.88 203.89 524.63 206.16 524.2 207.8 C523.77 209.44 522.07 212.93 521.6 214.8 C521.13 216.67 520.7 219.71 520.7 221.8 C520.7 223.89 521.24 228.39 521.6 230.5 C521.96 232.61 522.47 236.19 523.4 237.6 C524.33 239.01 527.64 240.17 528.6 241.1 C529.56 242.03 530.83 243.67 530.6 244.6 C530.37 245.53 528.33 247.63 526.9 248.1 C525.47 248.57 521.77 248.46 519.9 248.1 C518.03 247.74 515.25 245.76 512.9 245.4 C510.55 245.04 504.65 245.28 502.3 245.4 C499.95 245.52 496.93 245.71 495.3 246.3 C493.67 246.89 491.5 248.63 490.1 249.8 C488.7 250.97 486.44 253.46 484.8 255.1 C483.16 256.74 479.67 260.23 477.8 262.1 C475.93 263.97 472.55 267.47 470.8 269.1 C469.05 270.73 465.74 273.31 464.7 274.3 C463.66 275.29 464.63 276.21 463 276.5 C461.37 276.79 453.67 276.79 452.5 276.5Z" fill="#160000"/>
<g opacity="0.35">
<circle cx="515.93" cy="222.4" r="0.52" fill="#9a0a0a"/>
<circle cx="490.1" cy="241.19" r="0.71" fill="#9a0a0a"/>
<circle cx="461.43" cy="275.84" r="0.85" fill="#9a0a0a"/>
<circle cx="512.06" cy="242.62" r="0.43" fill="#9a0a0a"/>
<circle cx="522.7" cy="206.99" r="0.53" fill="#9a0a0a"/>
<circle cx="473.42" cy="263.98" r="0.45" fill="#9a0a0a"/>
<circle cx="522.26" cy="237.34" r="0.74" fill="#9a0a0a"/>
<circle cx="520.64" cy="222.2" r="0.86" fill="#9a0a0a"/>
<circle cx="514.49" cy="238.48" r="0.65" fill="#9a0a0a"/>
<circle cx="482.28" cy="256.47" r="0.68" fill="#9a0a0a"/>
<circle cx="524.88" cy="243.7" r="0.68" fill="#9a0a0a"/>
<circle cx="517.85" cy="217.95" r="0.48" fill="#9a0a0a"/>
<circle cx="493.25" cy="246.54" r="0.88" fill="#9a0a0a"/>
<circle cx="526.93" cy="247.29" r="0.81" fill="#9a0a0a"/>
<circle cx="490.53" cy="239.86" r="0.78" fill="#9a0a0a"/>
<circle cx="504.75" cy="241.09" r="0.5" fill="#9a0a0a"/>
<circle cx="514.79" cy="213.27" r="0.58" fill="#9a0a0a"/>
<circle cx="493.7" cy="245.96" r="0.75" fill="#9a0a0a"/>
<circle cx="504.56" cy="244.42" r="0.83" fill="#9a0a0a"/>
<circle cx="490.63" cy="245.49" r="0.61" fill="#9a0a0a"/>
<circle cx="510.05" cy="235.41" r="0.54" fill="#9a0a0a"/>
<circle cx="515.49" cy="218.47" r="0.87" fill="#9a0a0a"/>
<circle cx="474.71" cy="260.23" r="0.88" fill="#9a0a0a"/>
<circle cx="455.53" cy="274.38" r="0.68" fill="#9a0a0a"/>
<circle cx="513.88" cy="244.64" r="0.82" fill="#9a0a0a"/>
<circle cx="459.67" cy="273.38" r="0.63" fill="#9a0a0a"/>
<circle cx="485.02" cy="254.66" r="0.49" fill="#9a0a0a"/>
<circle cx="524.36" cy="240.02" r="0.74" fill="#9a0a0a"/>
<circle cx="500.28" cy="238.28" r="0.79" fill="#9a0a0a"/>
<circle cx="464.26" cy="273.5" r="0.63" fill="#9a0a0a"/>
<circle cx="468.22" cy="267.5" r="0.85" fill="#9a0a0a"/>
<circle cx="518.8" cy="215.2" r="0.72" fill="#9a0a0a"/>
<circle cx="519.47" cy="237.89" r="0.41" fill="#9a0a0a"/>
</g>
<path d="M452.5 276.5 C451.33 276.21 452.69 275.53 454.2 274.3 C455.71 273.07 461.35 269.17 463.8 267.3 C466.25 265.43 470.49 262.17 472.6 260.3 C474.71 258.43 477.97 255.17 479.6 253.3 C481.23 251.43 483.64 247.93 484.8 246.3 C485.96 244.67 487.13 242.26 488.3 241.1 C489.47 239.94 491.73 238.25 493.6 237.6 C495.47 236.95 499.97 236.56 502.3 236.2 C504.63 235.84 509.46 235.3 511.1 234.9 C512.74 234.5 514.01 234.01 514.6 233.2 C515.19 232.39 515.62 230.2 515.5 228.8 C515.38 227.4 513.94 224.34 513.7 222.7 C513.46 221.06 513.39 218.26 513.7 216.5 C514.01 214.74 515.17 211.13 516 209.5 C516.83 207.87 519.38 205.7 519.9 204.3 C520.42 202.9 519.67 199.97 519.9 199 C520.13 198.03 521.11 197.21 521.6 197 C522.09 196.79 523.17 196.67 523.6 197.4 C524.03 198.13 524.72 201.11 524.8 202.5 C524.88 203.89 524.63 206.16 524.2 207.8 C523.77 209.44 522.07 212.93 521.6 214.8 C521.13 216.67 520.7 219.71 520.7 221.8 C520.7 223.89 521.24 228.39 521.6 230.5 C521.96 232.61 522.47 236.19 523.4 237.6 C524.33 239.01 527.64 240.17 528.6 241.1 C529.56 242.03 530.83 243.67 530.6 244.6 C530.37 245.53 528.33 247.63 526.9 248.1 C525.47 248.57 521.77 248.46 519.9 248.1 C518.03 247.74 515.25 245.76 512.9 245.4 C510.55 245.04 504.65 245.28 502.3 245.4 C499.95 245.52 496.93 245.71 495.3 246.3 C493.67 246.89 491.5 248.63 490.1 249.8 C488.7 250.97 486.44 253.46 484.8 255.1 C483.16 256.74 479.67 260.23 477.8 262.1 C475.93 263.97 472.55 267.47 470.8 269.1 C469.05 270.73 465.74 273.31 464.7 274.3 C463.66 275.29 464.63 276.21 463 276.5 C461.37 276.79 453.67 276.79 452.5 276.5Z" fill="none" stroke="#ececec" stroke-width="0.85" stroke-dasharray="2.1 1.3"/>
</g>
<text x="476.2" y="230.9" font-size="6.8" fill="#fff" text-anchor="middle" font-weight="bold">ChP</text>
<line x1="480.4" y1="233.2" x2="485.6" y2="237.6" stroke="#fff" stroke-width="0.9"/>
<path d="M487.2 239 L483.0 237.4 L485.4 234.9 Z" fill="#fff"/>
<rect x="507" y="271.5" width="27.8" height="2.2" fill="#fff"/>
<text x="521" y="269.1" font-size="6.1" fill="#fff" text-anchor="middle" font-weight="normal">100 μm</text>
<g clip-path="url(#cG2)">
<path d="M452.5 316 C453.42 315.75 455.92 314.9 458 314.5 C460.08 314.1 462.67 313.92 465 313.6 C467.33 313.28 469.5 312.87 472 312.6 C474.5 312.33 477.33 312.1 480 312 C482.67 311.9 485.5 311.9 488 312 C490.5 312.1 492.83 312.18 495 312.6 C497.17 313.02 499.17 313.77 501 314.5 C502.83 315.23 504.33 316.92 506 317 C507.67 317.08 509.17 315.92 511 315 C512.83 314.08 514.83 312.58 517 311.5 C519.17 310.42 521.67 309.5 524 308.5 C526.33 307.5 528.67 306.5 531 305.5 C533.33 304.5 536.83 303 538 302.5" fill="none" stroke="#2a0000" stroke-width="7.8" stroke-linecap="round" filter="url(#blur1)"/>
<path d="M453.5 316 C453.75 317.17 454.08 320.17 455 323 C455.92 325.83 457.33 330 459 333 C460.67 336 462.67 338.5 465 341 C467.33 343.5 470.17 345.83 473 348 C475.83 350.17 478.83 352.08 482 354 C485.17 355.92 488.5 358.08 492 359.5 C495.5 360.92 499.17 361.83 503 362.5 C506.83 363.17 511 363.28 515 363.5 C519 363.72 524 363.72 527 363.8 C530 363.88 532 363.97 533 364" fill="none" stroke="#2a0000" stroke-width="9" stroke-linecap="round" filter="url(#blur1)"/>
<path d="M455 318 C455.83 318.17 458.17 318.67 460 319 C461.83 319.33 465 319.83 466 320" fill="none" stroke="#2a0000" stroke-width="8" stroke-linecap="round" filter="url(#blur1)"/>
<path d="M474 313 C474.5 313.83 475.83 317 477 318 C478.17 319 480.33 318.83 481 319" fill="none" stroke="#2a0000" stroke-width="5.2" stroke-linecap="round" filter="url(#blur1)"/>
<g filter="url(#blur05)">
<path d="M452.5 316 C453.42 315.75 455.92 314.9 458 314.5 C460.08 314.1 462.67 313.92 465 313.6 C467.33 313.28 469.5 312.87 472 312.6 C474.5 312.33 477.33 312.1 480 312 C482.67 311.9 485.5 311.9 488 312 C490.5 312.1 492.83 312.18 495 312.6 C497.17 313.02 499.17 313.77 501 314.5 C502.83 315.23 504.33 316.92 506 317 C507.67 317.08 509.17 315.92 511 315 C512.83 314.08 514.83 312.58 517 311.5 C519.17 310.42 521.67 309.5 524 308.5 C526.33 307.5 528.67 306.5 531 305.5 C533.33 304.5 536.83 303 538 302.5" fill="none" stroke="url(#pR2)" stroke-width="4.8" stroke-linecap="round" stroke-linejoin="round"/>
<path d="M453.5 316 C453.75 317.17 454.08 320.17 455 323 C455.92 325.83 457.33 330 459 333 C460.67 336 462.67 338.5 465 341 C467.33 343.5 470.17 345.83 473 348 C475.83 350.17 478.83 352.08 482 354 C485.17 355.92 488.5 358.08 492 359.5 C495.5 360.92 499.17 361.83 503 362.5 C506.83 363.17 511 363.28 515 363.5 C519 363.72 524 363.72 527 363.8 C530 363.88 532 363.97 533 364" fill="none" stroke="url(#pR2)" stroke-width="6" stroke-linecap="round" stroke-linejoin="round"/>
<path d="M455 318 C455.83 318.17 458.17 318.67 460 319 C461.83 319.33 465 319.83 466 320" fill="none" stroke="url(#pR2)" stroke-width="5" stroke-linecap="round" stroke-linejoin="round"/>
<path d="M474 313 C474.5 313.83 475.83 317 477 318 C478.17 319 480.33 318.83 481 319" fill="none" stroke="url(#pR2)" stroke-width="2.2" stroke-linecap="round" stroke-linejoin="round"/>
</g></g>
<g opacity="0.75">
<g clip-path="url(#cG2)" filter="url(#blur035)">
<use href="#cs3" x="451.26" y="313.57"/>
<use href="#cs3" x="455.39" y="313.19"/>
<use href="#cs3" x="457.59" y="316.11"/>
<use href="#cs3" x="459.63" y="312.48"/>
<use href="#cs1" x="463.41" y="312.83"/>
<use href="#cs1" x="465.8" y="314.63"/>
<use href="#cs1" x="467" y="313.19"/>
<use href="#cs1" x="469.68" y="314.26"/>
<use href="#cs1" x="472.7" y="314.54"/>
<use href="#cs1" x="475.01" y="310.52"/>
<use href="#cs1" x="478.01" y="313.57"/>
<use href="#cs2" x="479.89" y="310.39"/>
<use href="#cs2" x="482.22" y="311.94"/>
<use href="#cs3" x="485.45" y="310.98"/>
<use href="#cs1" x="488.6" y="314.37"/>
<use href="#cs3" x="489.9" y="313.07"/>
<use href="#cs1" x="493.03" y="314.16"/>
<use href="#cs3" x="496.12" y="311.36"/>
<use href="#cs2" x="497.61" y="315.3"/>
<use href="#cs2" x="501.47" y="314.66"/>
<use href="#cs1" x="503.87" y="314.32"/>
<use href="#cs3" x="505.5" y="316.63"/>
<use href="#cs3" x="507.33" y="314.04"/>
<use href="#cs3" x="511.63" y="316.32"/>
<use href="#cs3" x="513.34" y="314.83"/>
<use href="#cs2" x="515.12" y="313.19"/>
<use href="#cs1" x="516.68" y="310.21"/>
<use href="#cs2" x="519.29" y="310.19"/>
<use href="#cs2" x="520.53" y="308.47"/>
<use href="#cs3" x="522.66" y="306.47"/>
<use href="#cs1" x="525.66" y="305.05"/>
<use href="#cs3" x="530.1" y="308.77"/>
<use href="#cs3" x="531.23" y="305.34"/>
<use href="#cs2" x="533.19" y="304.41"/>
<use href="#cs2" x="535.82" y="302.38"/>
<use href="#cs2" x="456.16" y="315.92"/>
<use href="#cs3" x="452.51" y="315.7"/>
<use href="#cs2" x="456.12" y="317.28"/>
<use href="#cs2" x="451.28" y="319.44"/>
<use href="#cs3" x="453.84" y="321.17"/>
<use href="#cs2" x="451.18" y="321.17"/>
<use href="#cs2" x="455.87" y="322.96"/>
<use href="#cs3" x="455.87" y="322.26"/>
<use href="#cs3" x="457.22" y="324.58"/>
<use href="#cs1" x="452.82" y="326.07"/>
<use href="#cs2" x="455.17" y="329.48"/>
<use href="#cs1" x="454.22" y="328.46"/>
<use href="#cs1" x="459.85" y="330.03"/>
<use href="#cs2" x="454.96" y="331.21"/>
<use href="#cs2" x="460.62" y="332.41"/>
<use href="#cs1" x="457.86" y="334"/>
<use href="#cs1" x="458.9" y="335.96"/>
<use href="#cs3" x="460.01" y="334.85"/>
<use href="#cs2" x="461.73" y="336.92"/>
<use href="#cs3" x="462.74" y="336.59"/>
<use href="#cs3" x="462.07" y="339.67"/>
<use href="#cs2" x="465.07" y="337.35"/>
<use href="#cs3" x="463.99" y="342.6"/>
<use href="#cs2" x="466.33" y="339.01"/>
<use href="#cs1" x="467.7" y="340.83"/>
<use href="#cs3" x="464.84" y="345.29"/>
<use href="#cs2" x="469.65" y="343.37"/>
<use href="#cs1" x="470.32" y="343.74"/>
<use href="#cs2" x="469.94" y="348.42"/>
<use href="#cs2" x="472.84" y="345"/>
<use href="#cs2" x="474.59" y="346.44"/>
<use href="#cs1" x="472.13" y="348.14"/>
<use href="#cs3" x="475.18" y="349.68"/>
<use href="#cs3" x="475.95" y="348.48"/>
<use href="#cs2" x="477.27" y="352.46"/>
<use href="#cs2" x="477.83" y="351.1"/>
<use href="#cs3" x="481.82" y="349.97"/>
<use href="#cs1" x="477.92" y="354.16"/>
<use href="#cs2" x="482.4" y="353.49"/>
<use href="#cs2" x="481.19" y="356.27"/>
<use href="#cs2" x="483.95" y="353.83"/>
<use href="#cs1" x="483.84" y="356.13"/>
<use href="#cs2" x="485.09" y="357.56"/>
<use href="#cs3" x="485.52" y="355.19"/>
<use href="#cs2" x="486.89" y="358.68"/>
<use href="#cs2" x="487.35" y="357.37"/>
<use href="#cs2" x="488.68" y="359.54"/>
<use href="#cs3" x="491.43" y="356.58"/>
<use href="#cs1" x="491.48" y="361.87"/>
<use href="#cs3" x="492.44" y="358.59"/>
<use href="#cs3" x="494" y="359.93"/>
<use href="#cs1" x="493.9" y="358.89"/>
<use href="#cs3" x="495.53" y="362.52"/>
<use href="#cs2" x="496.49" y="361.96"/>
<use href="#cs3" x="497.34" y="364.02"/>
<use href="#cs1" x="497.77" y="363.31"/>
<use href="#cs3" x="500.03" y="363.77"/>
<use href="#cs2" x="500.74" y="363.39"/>
<use href="#cs3" x="503.5" y="360.86"/>
<use href="#cs1" x="503.71" y="361.89"/>
<use href="#cs1" x="505.92" y="364.38"/>
<use href="#cs2" x="504.85" y="359.38"/>
<use href="#cs2" x="507.35" y="363.09"/>
<use href="#cs1" x="507.18" y="361.37"/>
<use href="#cs1" x="510.26" y="360.52"/>
<use href="#cs2" x="509.88" y="364.06"/>
<use href="#cs1" x="512.94" y="366.47"/>
<use href="#cs3" x="512.29" y="362.85"/>
<use href="#cs2" x="515.45" y="363.37"/>
<use href="#cs2" x="515.58" y="364.27"/>
<use href="#cs1" x="517.58" y="364.41"/>
<use href="#cs3" x="516.83" y="364.27"/>
<use href="#cs1" x="520.41" y="364.29"/>
<use href="#cs2" x="519.55" y="363.02"/>
<use href="#cs2" x="522.87" y="364.52"/>
<use href="#cs2" x="522.9" y="365.4"/>
<use href="#cs2" x="524.86" y="362.32"/>
<use href="#cs2" x="525.36" y="363.41"/>
<use href="#cs2" x="527.04" y="364.15"/>
<use href="#cs3" x="527.03" y="363.65"/>
<use href="#cs3" x="530.36" y="366.02"/>
<use href="#cs3" x="529.19" y="365.09"/>
<use href="#cs2" x="455.27" y="316.38"/>
<use href="#cs3" x="457.64" y="316.87"/>
<use href="#cs1" x="459.71" y="317.73"/>
<use href="#cs2" x="463.56" y="317.83"/>
<use href="#cs3" x="473.91" y="312.46"/>
<use href="#cs1" x="474.06" y="315.74"/>
<use href="#cs3" x="477.11" y="317.84"/>
</g>
</g>
<text x="468.6" y="296.6" font-size="7" fill="#fff" text-anchor="middle" font-weight="bold">ChP</text>
<line x1="471.9" y1="298.9" x2="475.4" y2="303.4" stroke="#fff" stroke-width="0.9"/>
<path d="M476.9 305.5 L473.2 303.6 L476.0 301.6 Z" fill="#fff"/>
<text x="3.85" y="386.9" font-size="18" fill="#000" text-anchor="start" font-weight="bold">I</text>
<rect x="24" y="374" width="100.5" height="100" fill="#000"/>
<rect x="126" y="374" width="100" height="100" fill="#000"/>
<rect x="228" y="374" width="100" height="100" fill="#000"/>
<rect x="24" y="477" width="100.5" height="100" fill="#000"/>
<rect x="126" y="477" width="100" height="100" fill="#000"/>
<rect x="228" y="477" width="100" height="100" fill="#000"/>
<g clip-path="url(#cI00)"><path d="M24 460 C26.33 457.83 33.33 455.67 38 453 C42.67 450.33 47.67 447.17 52 444 C56.33 440.83 60.33 437.33 64 434 C67.67 430.67 71 427.67 74 424 C77 420.33 79.67 416 82 412 C84.33 408 86.33 404 88 400 C89.67 396 90.83 392 92 388 C93.17 384 93 378.33 95 376 C97 373.67 101.5 373.33 104 374 C106.5 374.67 109 377 110 380 C111 383 110.33 388 110 392 C109.67 396 109 400.33 108 404 C107 407.67 106 410.67 104 414 C102 417.33 99.33 421.17 96 424 C92.67 426.83 88.33 428.33 84 431 C79.67 433.67 75 437 70 440 C65 443 59.33 446 54 449 C48.67 452 43 455.17 38 458 C33 460.83 26.33 465.67 24 466 C21.67 466.33 21.67 462.17 24 460Z" fill="#2a0000" filter="url(#blur1)"/></g>
<g clip-path="url(#cI02)"><path d="M228 460 C230.33 457.83 237.33 455.67 242 453 C246.67 450.33 251.67 447.17 256 444 C260.33 440.83 264.33 437.33 268 434 C271.67 430.67 275 427.67 278 424 C281 420.33 283.67 416 286 412 C288.33 408 290.33 404 292 400 C293.67 396 294.83 392 296 388 C297.17 384 297 378.33 299 376 C301 373.67 305.5 373.33 308 374 C310.5 374.67 313 377 314 380 C315 383 314.33 388 314 392 C313.67 396 313 400.33 312 404 C311 407.67 310 410.67 308 414 C306 417.33 303.33 421.17 300 424 C296.67 426.83 292.33 428.33 288 431 C283.67 433.67 279 437 274 440 C269 443 263.33 446 258 449 C252.67 452 247 455.17 242 458 C237 460.83 230.33 465.67 228 466 C225.67 466.33 225.67 462.17 228 460Z" fill="#200020" filter="url(#blur1)"/></g>
<g clip-path="url(#cI00)">
<path d="M22 454 C24 452.67 30 448.83 34 446 C38 443.17 42 440.33 46 437 C50 433.67 54.33 429.5 58 426 C61.67 422.5 65 419.33 68 416 C71 412.67 73.67 409.33 76 406 C78.33 402.67 80.33 399.33 82 396 C83.67 392.67 84.67 389.33 86 386 C87.33 382.67 89 378.33 90 376 C91 373.67 91.67 372.67 92 372" fill="none" stroke="#300000" stroke-width="13.5" stroke-linecap="round" stroke-linejoin="round" filter="url(#blur1)"/>
<path d="M22 470 C24.33 468.83 31.33 465.5 36 463 C40.67 460.5 45.33 457.67 50 455 C54.67 452.33 59.67 449.5 64 447 C68.33 444.5 72.33 442.33 76 440 C79.67 437.67 82.67 435 86 433 C89.33 431 93 429 96 428 C99 427 101.67 427.5 104 427 C106.33 426.5 109 425.33 110 425" fill="none" stroke="#300000" stroke-width="13.5" stroke-linecap="round" stroke-linejoin="round" filter="url(#blur1)"/>
<path d="M96 428 C97.33 427 101.67 424.33 104 422 C106.33 419.67 108.67 416.67 110 414 C111.33 411.33 111.33 409 112 406 C112.67 403 113.17 399.33 114 396 C114.83 392.67 116 389.33 117 386 C118 382.67 119.17 378.33 120 376 C120.83 373.67 121.67 372.67 122 372" fill="none" stroke="#300000" stroke-width="12.5" stroke-linecap="round" stroke-linejoin="round" filter="url(#blur1)"/>
<path d="M110 425 C111 424.17 114.33 421.83 116 420 C117.67 418.17 119.83 416 120 414 C120.17 412 118.33 409.33 117 408 C115.67 406.67 112.83 406.33 112 406" fill="none" stroke="#300000" stroke-width="9" stroke-linecap="round" stroke-linejoin="round" filter="url(#blur1)"/>
<g filter="url(#mottle)">
<path d="M22 454 C24 452.67 30 448.83 34 446 C38 443.17 42 440.33 46 437 C50 433.67 54.33 429.5 58 426 C61.67 422.5 65 419.33 68 416 C71 412.67 73.67 409.33 76 406 C78.33 402.67 80.33 399.33 82 396 C83.67 392.67 84.67 389.33 86 386 C87.33 382.67 89 378.33 90 376 C91 373.67 91.67 372.67 92 372" fill="none" stroke="url(#pR)" stroke-width="10.5" stroke-linecap="round" stroke-linejoin="round"/>
<path d="M22 470 C24.33 468.83 31.33 465.5 36 463 C40.67 460.5 45.33 457.67 50 455 C54.67 452.33 59.67 449.5 64 447 C68.33 444.5 72.33 442.33 76 440 C79.67 437.67 82.67 435 86 433 C89.33 431 93 429 96 428 C99 427 101.67 427.5 104 427 C106.33 426.5 109 425.33 110 425" fill="none" stroke="url(#pR)" stroke-width="10.5" stroke-linecap="round" stroke-linejoin="round"/>
<path d="M96 428 C97.33 427 101.67 424.33 104 422 C106.33 419.67 108.67 416.67 110 414 C111.33 411.33 111.33 409 112 406 C112.67 403 113.17 399.33 114 396 C114.83 392.67 116 389.33 117 386 C118 382.67 119.17 378.33 120 376 C120.83 373.67 121.67 372.67 122 372" fill="none" stroke="url(#pR)" stroke-width="9.5" stroke-linecap="round" stroke-linejoin="round"/>
<path d="M110 425 C111 424.17 114.33 421.83 116 420 C117.67 418.17 119.83 416 120 414 C120.17 412 118.33 409.33 117 408 C115.67 406.67 112.83 406.33 112 406" fill="none" stroke="url(#pR)" stroke-width="6" stroke-linecap="round" stroke-linejoin="round"/>
</g>
</g>
<g clip-path="url(#cI00)" filter="url(#blur035)">
<use href="#cr2" x="20.43" y="451.23"/>
<use href="#cr2" x="20.19" y="450.62"/>
<use href="#cr2" x="23.03" y="455.77"/>
<use href="#cr2" x="22.03" y="452.62"/>
<use href="#cr1" x="23.52" y="450.5"/>
<use href="#cr3" x="25.99" y="455.15"/>
<use href="#cr2" x="22.15" y="448.41"/>
<use href="#cr2" x="25.76" y="454.8"/>
<use href="#cr2" x="26.86" y="451.54"/>
<use href="#cr3" x="30.12" y="454.62"/>
<use href="#cr3" x="28.62" y="454.7"/>
<use href="#cr3" x="28.29" y="453.68"/>
<use href="#cr3" x="31.96" y="454.08"/>
<use href="#cr3" x="31.39" y="451.77"/>
<use href="#cr2" x="31.96" y="454.04"/>
<use href="#cr2" x="28.97" y="449.57"/>
<use href="#cr3" x="30.58" y="446.93"/>
<use href="#cr3" x="33.59" y="449.35"/>
<use href="#cr2" x="32.09" y="447.71"/>
<use href="#cr2" x="31.22" y="446.42"/>
<use href="#cr2" x="36.05" y="447.86"/>
<use href="#cr1" x="34.4" y="446.8"/>
<use href="#cr1" x="35.77" y="448.85"/>
<use href="#cr2" x="33.15" y="445.75"/>
<use href="#cr3" x="35.77" y="443.93"/>
<use href="#cr3" x="33.74" y="440.56"/>
<use href="#cr1" x="35.89" y="444.75"/>
<use href="#cr3" x="35.22" y="444.17"/>
<use href="#cr2" x="39.85" y="442.72"/>
<use href="#cr3" x="37.46" y="441.75"/>
<use href="#cr3" x="37.9" y="441.47"/>
<use href="#cr3" x="36.9" y="440.27"/>
<use href="#cr3" x="43.58" y="442.7"/>
<use href="#cr2" x="39.08" y="436.92"/>
<use href="#cr2" x="39" y="438.7"/>
<use href="#cr1" x="39.35" y="438.45"/>
<use href="#cr3" x="44.82" y="439.79"/>
<use href="#cr2" x="42.44" y="436.54"/>
<use href="#cr2" x="43.09" y="437.1"/>
<use href="#cr3" x="46.14" y="441.69"/>
<use href="#cr2" x="46.28" y="436.03"/>
<use href="#cr3" x="43.84" y="433.72"/>
<use href="#cr3" x="45.93" y="437.58"/>
<use href="#cr3" x="48.14" y="438.86"/>
<use href="#cr3" x="44.95" y="432.02"/>
<use href="#cr1" x="48.22" y="435.86"/>
<use href="#cr2" x="50.35" y="438.65"/>
<use href="#cr3" x="50.64" y="437.85"/>
<use href="#cr1" x="47.46" y="432.02"/>
<use href="#cr2" x="50.19" y="434.68"/>
<use href="#cr3" x="48.26" y="431.55"/>
<use href="#cr1" x="50.13" y="433.81"/>
<use href="#cr1" x="50.19" y="429.12"/>
<use href="#cr3" x="52.65" y="431.26"/>
<use href="#cr2" x="51.72" y="432.09"/>
<use href="#cr3" x="48.1" y="427.49"/>
<use href="#cr3" x="55.75" y="431.4"/>
<use href="#cr3" x="50.94" y="426.62"/>
<use href="#cr1" x="54.67" y="429.98"/>
<use href="#cr3" x="54.94" y="430.88"/>
<use href="#cr2" x="54.38" y="425.77"/>
<use href="#cr3" x="54.81" y="426.48"/>
<use href="#cr3" x="58.33" y="429.98"/>
<use href="#cr1" x="55.73" y="427.49"/>
<use href="#cr1" x="57.9" y="424.55"/>
<use href="#cr2" x="57" y="425.27"/>
<use href="#cr2" x="54.94" y="422.96"/>
<use href="#cr1" x="56.67" y="425.05"/>
<use href="#cr2" x="59.33" y="424.15"/>
<use href="#cr1" x="56.65" y="419.73"/>
<use href="#cr3" x="62.89" y="425.92"/>
<use href="#cr1" x="58.8" y="422.88"/>
<use href="#cr2" x="60.02" y="419.36"/>
<use href="#cr3" x="64.34" y="424.78"/>
<use href="#cr3" x="60.13" y="419.53"/>
<use href="#cr2" x="59.89" y="421.1"/>
<use href="#cr2" x="65.39" y="421.51"/>
<use href="#cr2" x="61.42" y="417.51"/>
<use href="#cr3" x="60.66" y="417.3"/>
<use href="#cr1" x="66.68" y="422.5"/>
<use href="#cr1" x="66" y="417.9"/>
<use href="#cr1" x="67.72" y="420.78"/>
<use href="#cr2" x="67.36" y="419.83"/>
<use href="#cr3" x="68.73" y="420.96"/>
<use href="#cr3" x="70.91" y="418.32"/>
<use href="#cr1" x="69.41" y="416.08"/>
<use href="#cr3" x="63.66" y="412.17"/>
<use href="#cr1" x="71.38" y="417.65"/>
<use href="#cr1" x="68.75" y="412.12"/>
<use href="#cr3" x="67.17" y="410.61"/>
<use href="#cr1" x="73.16" y="416.89"/>
<use href="#cr3" x="72.35" y="414.98"/>
<use href="#cr1" x="74.91" y="412.6"/>
<use href="#cr2" x="69.72" y="407.9"/>
<use href="#cr3" x="74.83" y="413.38"/>
<use href="#cr1" x="75.19" y="413.54"/>
<use href="#cr3" x="72.41" y="406.46"/>
<use href="#cr2" x="72.37" y="407.13"/>
<use href="#cr3" x="76.61" y="410.59"/>
<use href="#cr2" x="73.45" y="407.94"/>
<use href="#cr3" x="76.34" y="406.62"/>
<use href="#cr3" x="71.98" y="403.53"/>
<use href="#cr2" x="72.24" y="404.5"/>
<use href="#cr2" x="76.05" y="405.69"/>
<use href="#cr3" x="73.11" y="400.84"/>
<use href="#cr1" x="81.97" y="405.99"/>
<use href="#cr1" x="75.14" y="402.05"/>
<use href="#cr3" x="79.16" y="404.83"/>
<use href="#cr1" x="82.4" y="403.49"/>
<use href="#cr2" x="83.22" y="403.51"/>
<use href="#cr2" x="76.36" y="399.77"/>
<use href="#cr1" x="76.87" y="400"/>
<use href="#cr1" x="82.69" y="399.74"/>
<use href="#cr1" x="84.81" y="400.76"/>
<use href="#cr3" x="77.28" y="397.35"/>
<use href="#cr3" x="82.1" y="400.18"/>
<use href="#cr3" x="83.15" y="397.09"/>
<use href="#cr2" x="83.51" y="397.67"/>
<use href="#cr1" x="82.88" y="397.16"/>
<use href="#cr3" x="86.76" y="398.58"/>
<use href="#cr2" x="84.87" y="394.96"/>
<use href="#cr2" x="87.94" y="395.05"/>
<use href="#cr1" x="82.59" y="393.24"/>
<use href="#cr1" x="79.45" y="391.87"/>
<use href="#cr3" x="85.21" y="391.43"/>
<use href="#cr1" x="78.67" y="388.97"/>
<use href="#cr2" x="80.18" y="388.76"/>
<use href="#cr2" x="80.8" y="389.92"/>
<use href="#cr2" x="83.57" y="388.3"/>
<use href="#cr3" x="88.33" y="390.39"/>
<use href="#cr1" x="83.48" y="387.34"/>
<use href="#cr1" x="85.5" y="388.43"/>
<use href="#cr1" x="89.18" y="387.69"/>
<use href="#cr3" x="87.19" y="386.59"/>
<use href="#cr2" x="82.46" y="384.7"/>
<use href="#cr2" x="85.67" y="386.17"/>
<use href="#cr2" x="82.04" y="381.47"/>
<use href="#cr3" x="87.13" y="384.02"/>
<use href="#cr1" x="87.16" y="383.27"/>
<use href="#cr3" x="88.35" y="383.94"/>
<use href="#cr2" x="92.25" y="382.51"/>
<use href="#cr3" x="89.01" y="382.09"/>
<use href="#cr3" x="92.44" y="382.37"/>
<use href="#cr3" x="89.16" y="381.7"/>
<use href="#cr3" x="87.8" y="377.92"/>
<use href="#cr3" x="90.2" y="379.47"/>
<use href="#cr3" x="85.57" y="376.41"/>
<use href="#cr1" x="86.19" y="378.04"/>
<use href="#cr1" x="91.96" y="377.08"/>
<use href="#cr2" x="93.02" y="377.42"/>
<use href="#cr3" x="94.35" y="377.8"/>
<use href="#cr2" x="89.86" y="376.74"/>
<use href="#cr1" x="20.47" y="466.53"/>
<use href="#cr3" x="23.03" y="472.07"/>
<use href="#cr1" x="21.19" y="469.8"/>
<use href="#cr3" x="22.74" y="472.09"/>
<use href="#cr2" x="23.46" y="466.58"/>
<use href="#cr3" x="22.57" y="467.19"/>
<use href="#cr1" x="25.03" y="470.42"/>
<use href="#cr3" x="23.02" y="466.06"/>
<use href="#cr3" x="25.76" y="465.08"/>
<use href="#cr3" x="26.17" y="466.34"/>
<use href="#cr3" x="25.42" y="466.81"/>
<use href="#cr3" x="25.72" y="465.83"/>
<use href="#cr1" x="29.23" y="466.28"/>
<use href="#cr1" x="29.84" y="469.38"/>
<use href="#cr3" x="30.87" y="470.12"/>
<use href="#cr1" x="28.06" y="463.13"/>
<use href="#cr2" x="29.06" y="462.28"/>
<use href="#cr1" x="30.28" y="462.93"/>
<use href="#cr2" x="32.05" y="466.76"/>
<use href="#cr1" x="31.18" y="464.38"/>
<use href="#cr1" x="31.73" y="460.61"/>
<use href="#cr3" x="34.52" y="465.93"/>
<use href="#cr2" x="36.03" y="468.27"/>
<use href="#cr2" x="32.18" y="459.93"/>
<use href="#cr1" x="34.53" y="460.97"/>
<use href="#cr2" x="34.28" y="460.67"/>
<use href="#cr3" x="34.84" y="460.1"/>
<use href="#cr1" x="33.52" y="458.78"/>
<use href="#cr2" x="40.45" y="464.09"/>
<use href="#cr1" x="39.81" y="464.35"/>
<use href="#cr1" x="40.73" y="464.57"/>
<use href="#cr1" x="35.24" y="457.51"/>
<use href="#cr3" x="40.61" y="460.25"/>
<use href="#cr1" x="43.09" y="462.69"/>
<use href="#cr1" x="40.2" y="461.25"/>
<use href="#cr1" x="39.82" y="459.72"/>
<use href="#cr3" x="44.57" y="461.78"/>
<use href="#cr2" x="42.45" y="458.15"/>
<use href="#cr3" x="43.33" y="459.59"/>
<use href="#cr3" x="41.19" y="456.36"/>
<use href="#cr2" x="44.75" y="457.63"/>
<use href="#cr3" x="45.87" y="458.07"/>
<use href="#cr1" x="42.72" y="453.92"/>
<use href="#cr1" x="44.8" y="454.84"/>
<use href="#cr1" x="50.08" y="458.85"/>
<use href="#cr1" x="49.84" y="460.09"/>
<use href="#cr2" x="49.46" y="460.8"/>
<use href="#cr2" x="49.16" y="458.25"/>
<use href="#cr2" x="47.56" y="450.01"/>
<use href="#cr3" x="47.1" y="451.04"/>
<use href="#cr2" x="49.13" y="452.44"/>
<use href="#cr2" x="52.17" y="457.48"/>
<use href="#cr2" x="54.12" y="456.31"/>
<use href="#cr2" x="52.21" y="454.38"/>
<use href="#cr3" x="50.52" y="449.98"/>
<use href="#cr3" x="54.01" y="455.99"/>
<use href="#cr3" x="52.99" y="448.84"/>
<use href="#cr1" x="52.67" y="449.24"/>
<use href="#cr2" x="53.6" y="450.81"/>
<use href="#cr2" x="56.55" y="454.91"/>
<use href="#cr3" x="55.69" y="449.75"/>
<use href="#cr3" x="57.05" y="450.45"/>
<use href="#cr2" x="55.82" y="448.72"/>
<use href="#cr2" x="57.55" y="451.5"/>
<use href="#cr1" x="61.66" y="453.22"/>
<use href="#cr2" x="57.47" y="446.46"/>
<use href="#cr2" x="61.14" y="452.65"/>
<use href="#cr2" x="62.36" y="453.93"/>
<use href="#cr1" x="62.25" y="448.06"/>
<use href="#cr1" x="58.81" y="443.59"/>
<use href="#cr3" x="63.28" y="451.9"/>
<use href="#cr3" x="62.79" y="450.19"/>
<use href="#cr3" x="62.13" y="444.49"/>
<use href="#cr1" x="64.6" y="448.21"/>
<use href="#cr1" x="64.24" y="448.88"/>
<use href="#cr2" x="65.12" y="447.8"/>
<use href="#cr1" x="64.44" y="443.05"/>
<use href="#cr1" x="66.29" y="444.99"/>
<use href="#cr2" x="68.34" y="448.81"/>
<use href="#cr2" x="65.12" y="444.81"/>
<use href="#cr3" x="68.85" y="444.18"/>
<use href="#cr2" x="70.5" y="446.15"/>
<use href="#cr3" x="66.93" y="440.04"/>
<use href="#cr3" x="65.58" y="439.4"/>
<use href="#cr3" x="70.67" y="441.36"/>
<use href="#cr3" x="69.91" y="441.53"/>
<use href="#cr2" x="70.92" y="441.66"/>
<use href="#cr1" x="69.16" y="438.88"/>
<use href="#cr3" x="71.51" y="439.04"/>
<use href="#cr3" x="73.74" y="441.84"/>
<use href="#cr1" x="75.96" y="445.62"/>
<use href="#cr2" x="75.25" y="444.48"/>
<use href="#cr2" x="77.38" y="441.6"/>
<use href="#cr2" x="75.12" y="439.39"/>
<use href="#cr2" x="74.67" y="437.48"/>
<use href="#cr2" x="78.3" y="442.74"/>
<use href="#cr3" x="77.06" y="436.55"/>
<use href="#cr1" x="76.87" y="436.97"/>
<use href="#cr3" x="79.78" y="440.86"/>
<use href="#cr1" x="77.35" y="437.14"/>
<use href="#cr2" x="78.61" y="433.78"/>
<use href="#cr1" x="82.01" y="439.1"/>
<use href="#cr1" x="82.36" y="439.56"/>
<use href="#cr3" x="81.35" y="436.68"/>
<use href="#cr2" x="85.69" y="438.87"/>
<use href="#cr3" x="85.9" y="438.42"/>
<use href="#cr1" x="82.14" y="433.32"/>
<use href="#cr2" x="85.51" y="436.55"/>
<use href="#cr2" x="84.15" y="429.76"/>
<use href="#cr1" x="87.29" y="437.37"/>
<use href="#cr1" x="84.53" y="430.03"/>
<use href="#cr3" x="85.96" y="433.82"/>
<use href="#cr3" x="87.5" y="430.4"/>
<use href="#cr2" x="90.9" y="435.83"/>
<use href="#cr2" x="87.05" y="428.39"/>
<use href="#cr3" x="91.25" y="435.38"/>
<use href="#cr1" x="91.27" y="432.32"/>
<use href="#cr2" x="89.36" y="428.28"/>
<use href="#cr3" x="88.96" y="427.05"/>
<use href="#cr3" x="92.2" y="431.48"/>
<use href="#cr2" x="94.26" y="428.97"/>
<use href="#cr2" x="94.04" y="430.63"/>
<use href="#cr1" x="93.55" y="429.66"/>
<use href="#cr1" x="94.75" y="431.42"/>
<use href="#cr3" x="95.15" y="423.7"/>
<use href="#cr3" x="97.12" y="430.26"/>
<use href="#cr1" x="95.72" y="427.34"/>
<use href="#cr3" x="95.82" y="430.28"/>
<use href="#cr3" x="97.56" y="422.36"/>
<use href="#cr2" x="98.38" y="425.15"/>
<use href="#cr3" x="98.88" y="426.39"/>
<use href="#cr3" x="98.69" y="424.4"/>
<use href="#cr3" x="101.71" y="432.55"/>
<use href="#cr1" x="100.57" y="425.83"/>
<use href="#cr1" x="101.44" y="425.03"/>
<use href="#cr2" x="100.48" y="426.54"/>
<use href="#cr1" x="103.02" y="424.46"/>
<use href="#cr3" x="103.28" y="422.59"/>
<use href="#cr2" x="104.05" y="428.67"/>
<use href="#cr1" x="102.99" y="422.83"/>
<use href="#cr1" x="107" y="424.76"/>
<use href="#cr3" x="107.95" y="426.91"/>
<use href="#cr2" x="107.62" y="426.72"/>
<use href="#cr3" x="106.95" y="426.99"/>
<use href="#cr1" x="94.29" y="426.66"/>
<use href="#cr3" x="93.69" y="425.43"/>
<use href="#cr2" x="93.33" y="425.06"/>
<use href="#cr2" x="98.36" y="425.16"/>
<use href="#cr3" x="96.97" y="422.51"/>
<use href="#cr1" x="100.98" y="428.91"/>
<use href="#cr1" x="101.92" y="424.32"/>
<use href="#cr1" x="103.12" y="427.75"/>
<use href="#cr2" x="101.72" y="424.31"/>
<use href="#cr2" x="106.41" y="424.77"/>
<use href="#cr1" x="106.38" y="424.66"/>
<use href="#cr3" x="102.52" y="421.17"/>
<use href="#cr3" x="109.5" y="421.13"/>
<use href="#cr1" x="103.6" y="417.95"/>
<use href="#cr2" x="106.14" y="419.26"/>
<use href="#cr2" x="106.09" y="415.24"/>
<use href="#cr3" x="104.56" y="413.38"/>
<use href="#cr3" x="110" y="418.32"/>
<use href="#cr2" x="106.69" y="412.94"/>
<use href="#cr2" x="112.72" y="415.4"/>
<use href="#cr3" x="113.3" y="414.29"/>
<use href="#cr1" x="108.37" y="410.51"/>
<use href="#cr2" x="106.4" y="410.78"/>
<use href="#cr1" x="113.92" y="412.46"/>
<use href="#cr2" x="112.28" y="408.71"/>
<use href="#cr3" x="111.11" y="408.75"/>
<use href="#cr3" x="107.8" y="407.23"/>
<use href="#cr2" x="109.17" y="405.37"/>
<use href="#cr2" x="113.79" y="406.61"/>
<use href="#cr1" x="115.51" y="407.27"/>
<use href="#cr2" x="111.27" y="402.07"/>
<use href="#cr2" x="114.58" y="402.9"/>
<use href="#cr1" x="111.69" y="402.68"/>
<use href="#cr2" x="112.54" y="398.6"/>
<use href="#cr2" x="117.85" y="399.57"/>
<use href="#cr1" x="113.02" y="399.42"/>
<use href="#cr2" x="113.43" y="395.89"/>
<use href="#cr1" x="117.25" y="397.18"/>
<use href="#cr3" x="117.3" y="397.05"/>
<use href="#cr3" x="117.08" y="393.62"/>
<use href="#cr2" x="112.96" y="393.69"/>
<use href="#cr1" x="118.72" y="394.36"/>
<use href="#cr1" x="111.7" y="389.94"/>
<use href="#cr2" x="112.68" y="390.14"/>
<use href="#cr1" x="112.36" y="390.3"/>
<use href="#cr3" x="118.38" y="389.29"/>
<use href="#cr3" x="112.24" y="387.29"/>
<use href="#cr3" x="117.38" y="388.99"/>
<use href="#cr1" x="119.14" y="386.89"/>
<use href="#cr3" x="113.21" y="384.64"/>
<use href="#cr3" x="116.38" y="386.55"/>
<use href="#cr3" x="121.16" y="384.61"/>
<use href="#cr3" x="120.59" y="384.65"/>
<use href="#cr2" x="116.26" y="383.7"/>
<use href="#cr1" x="122.01" y="381.82"/>
<use href="#cr2" x="121.25" y="382.14"/>
<use href="#cr2" x="122.01" y="381.77"/>
<use href="#cr1" x="117.19" y="377.34"/>
<use href="#cr3" x="122.99" y="379.07"/>
<use href="#cr1" x="119.11" y="378.49"/>
<use href="#cr1" x="120.75" y="376.16"/>
<use href="#cr3" x="117.15" y="373.67"/>
<use href="#cr3" x="116.63" y="373.93"/>
<use href="#cr3" x="108.76" y="423.61"/>
<use href="#cr2" x="107.95" y="422.85"/>
<use href="#cr3" x="111.21" y="421.8"/>
<use href="#cr2" x="112.86" y="425.23"/>
<use href="#cr2" x="113.64" y="421.65"/>
<use href="#cr3" x="112.82" y="419.99"/>
<use href="#cr2" x="116.65" y="420.72"/>
<use href="#cr1" x="115.87" y="420.84"/>
<use href="#cr1" x="120.29" y="418.25"/>
<use href="#cr3" x="115.96" y="415.85"/>
<use href="#cr3" x="118.44" y="414.18"/>
<use href="#cr3" x="119.17" y="415.03"/>
<use href="#cr1" x="116.88" y="411.59"/>
<use href="#cr3" x="120.16" y="411.19"/>
<use href="#cr2" x="116.7" y="408.86"/>
<use href="#cr3" x="115.44" y="410.85"/>
<use href="#cr3" x="115.07" y="407.73"/>
<use href="#cr1" x="113.96" y="406.8"/>
</g>
<g clip-path="url(#cI01)" opacity="0.12">
<path d="M124 454 C126 452.67 132 448.83 136 446 C140 443.17 144 440.33 148 437 C152 433.67 156.33 429.5 160 426 C163.67 422.5 167 419.33 170 416 C173 412.67 175.67 409.33 178 406 C180.33 402.67 182.33 399.33 184 396 C185.67 392.67 186.67 389.33 188 386 C189.33 382.67 191 378.33 192 376 C193 373.67 193.67 372.67 194 372" fill="none" stroke="#0a6a0a" stroke-width="12.5" stroke-linecap="round" filter="url(#blur1)"/>
<path d="M124 470 C126.33 468.83 133.33 465.5 138 463 C142.67 460.5 147.33 457.67 152 455 C156.67 452.33 161.67 449.5 166 447 C170.33 444.5 174.33 442.33 178 440 C181.67 437.67 184.67 435 188 433 C191.33 431 195 429 198 428 C201 427 203.67 427.5 206 427 C208.33 426.5 211 425.33 212 425" fill="none" stroke="#0a6a0a" stroke-width="12.5" stroke-linecap="round" filter="url(#blur1)"/>
<path d="M198 428 C199.33 427 203.67 424.33 206 422 C208.33 419.67 210.67 416.67 212 414 C213.33 411.33 213.33 409 214 406 C214.67 403 215.17 399.33 216 396 C216.83 392.67 218 389.33 219 386 C220 382.67 221.17 378.33 222 376 C222.83 373.67 223.67 372.67 224 372" fill="none" stroke="#0a6a0a" stroke-width="11.5" stroke-linecap="round" filter="url(#blur1)"/>
<path d="M212 425 C213 424.17 216.33 421.83 218 420 C219.67 418.17 221.83 416 222 414 C222.17 412 220.33 409.33 219 408 C217.67 406.67 214.83 406.33 214 406" fill="none" stroke="#0a6a0a" stroke-width="8" stroke-linecap="round" filter="url(#blur1)"/>
</g>
<g clip-path="url(#cI01)" filter="url(#glow)" opacity="1">
<path d="M209.52 378.37 C209.31 378.89 208.46 380.96 208.25 381.48" fill="none" stroke="#2fe02f" stroke-width="0.9" stroke-linecap="round" stroke-linejoin="round"/>
<path d="M207.89 377.11 C207.46 377.57 205.72 379.42 205.28 379.88" fill="none" stroke="#2fe02f" stroke-width="0.9" stroke-linecap="round" stroke-linejoin="round"/>
<path d="M210.74 377.16 C210.23 377.26 208.18 377.62 207.67 377.72" fill="none" stroke="#2fe02f" stroke-width="0.9" stroke-linecap="round" stroke-linejoin="round"/>
<path d="M219.03 380.57 C219.06 380.92 219.2 382.32 219.23 382.68" fill="none" stroke="#2fe02f" stroke-width="0.9" stroke-linecap="round" stroke-linejoin="round"/>
<path d="M217.32 382.61 C217.66 382.62 219.02 382.68 219.36 382.69" fill="none" stroke="#2fe02f" stroke-width="0.9" stroke-linecap="round" stroke-linejoin="round"/>
<path d="M220.6 379.68 C220.36 379.89 219.42 380.74 219.19 380.95" fill="none" stroke="#2fe02f" stroke-width="0.9" stroke-linecap="round" stroke-linejoin="round"/>
<path d="M219.83 379.27 C219.72 379.55 219.29 380.68 219.18 380.96" fill="none" stroke="#2fe02f" stroke-width="0.9" stroke-linecap="round" stroke-linejoin="round"/>
<path d="M221.64 379.49 C221.91 379.7 222.98 380.53 223.25 380.74" fill="none" stroke="#2fe02f" stroke-width="0.9" stroke-linecap="round" stroke-linejoin="round"/>
<path d="M219.92 377.99 C220.32 378.51 221.92 380.56 222.32 381.07" fill="none" stroke="#2fe02f" stroke-width="0.9" stroke-linecap="round" stroke-linejoin="round"/>
<path d="M203.03 393.24 C203.54 393.63 205.6 395.17 206.11 395.56" fill="none" stroke="#2fe02f" stroke-width="0.9" stroke-linecap="round" stroke-linejoin="round"/>
<path d="M204.65 391.63 C204.29 391.75 202.88 392.24 202.52 392.37" fill="none" stroke="#2fe02f" stroke-width="0.9" stroke-linecap="round" stroke-linejoin="round"/>
<path d="M202.66 392.94 C202.91 393.06 203.9 393.55 204.15 393.68" fill="none" stroke="#2fe02f" stroke-width="0.9" stroke-linecap="round" stroke-linejoin="round"/>
<path d="M199.92 400.91 C200.45 400.92 202.58 400.94 203.11 400.95" fill="none" stroke="#2fe02f" stroke-width="0.9" stroke-linecap="round" stroke-linejoin="round"/>
<path d="M202.58 400.71 C202.21 400.96 200.69 401.93 200.31 402.17" fill="none" stroke="#2fe02f" stroke-width="0.9" stroke-linecap="round" stroke-linejoin="round"/>
<path d="M203.92 399.41 C203.75 399.63 203.1 400.51 202.93 400.73" fill="none" stroke="#2fe02f" stroke-width="0.9" stroke-linecap="round" stroke-linejoin="round"/>
<path d="M195.33 405.59 C194.91 406.01 193.2 407.72 192.78 408.14" fill="none" stroke="#2fe02f" stroke-width="0.9" stroke-linecap="round" stroke-linejoin="round"/>
<path d="M193.43 403.3 C193.63 403.74 194.43 405.54 194.63 405.99" fill="none" stroke="#2fe02f" stroke-width="0.9" stroke-linecap="round" stroke-linejoin="round"/>
<path d="M192.95 405.72 C193.5 406.07 195.68 407.46 196.23 407.81" fill="none" stroke="#2fe02f" stroke-width="0.9" stroke-linecap="round" stroke-linejoin="round"/>
<path d="M207.41 410.14 C206.79 410.28 204.28 410.85 203.65 410.99" fill="none" stroke="#2fe02f" stroke-width="0.9" stroke-linecap="round" stroke-linejoin="round"/>
<path d="M204.96 410.03 C204.91 410.6 204.74 412.89 204.69 413.46" fill="none" stroke="#2fe02f" stroke-width="0.9" stroke-linecap="round" stroke-linejoin="round"/>
<path d="M206.08 411.25 C205.59 411.61 203.63 413.06 203.14 413.42" fill="none" stroke="#2fe02f" stroke-width="0.9" stroke-linecap="round" stroke-linejoin="round"/>
<path d="M209.2 412.92 C209.58 413.03 211.08 413.48 211.46 413.59" fill="none" stroke="#2fe02f" stroke-width="0.9" stroke-linecap="round" stroke-linejoin="round"/>
<path d="M209.22 409.77 C209.52 410.32 210.75 412.55 211.05 413.11" fill="none" stroke="#2fe02f" stroke-width="0.9" stroke-linecap="round" stroke-linejoin="round"/>
<path d="M208.21 410.13 C208.38 410.4 209.09 411.49 209.26 411.76" fill="none" stroke="#2fe02f" stroke-width="0.9" stroke-linecap="round" stroke-linejoin="round"/>
<path d="M198.1 412.99 C197.73 413.54 196.24 415.75 195.87 416.3" fill="none" stroke="#2fe02f" stroke-width="0.9" stroke-linecap="round" stroke-linejoin="round"/>
<path d="M199.13 415.15 C198.66 415.17 196.77 415.25 196.3 415.27" fill="none" stroke="#2fe02f" stroke-width="0.9" stroke-linecap="round" stroke-linejoin="round"/>
<path d="M198.39 414.06 C198.21 414.63 197.52 416.9 197.35 417.47" fill="none" stroke="#2fe02f" stroke-width="0.9" stroke-linecap="round" stroke-linejoin="round"/>
<path d="M182.73 410.65 C183.35 410.76 185.84 411.2 186.46 411.31" fill="none" stroke="#2fe02f" stroke-width="0.9" stroke-linecap="round" stroke-linejoin="round"/>
<path d="M187.49 411.91 C187.23 412.05 186.16 412.65 185.9 412.79" fill="none" stroke="#2fe02f" stroke-width="0.9" stroke-linecap="round" stroke-linejoin="round"/>
<path d="M185.51 409.21 C185.28 409.74 184.36 411.86 184.13 412.4" fill="none" stroke="#2fe02f" stroke-width="0.9" stroke-linecap="round" stroke-linejoin="round"/>
<path d="M176.77 426.04 C177.31 426.32 179.46 427.4 180 427.68" fill="none" stroke="#2fe02f" stroke-width="0.9" stroke-linecap="round" stroke-linejoin="round"/>
<path d="M182.24 426.86 C181.64 426.86 179.22 426.86 178.61 426.86" fill="none" stroke="#2fe02f" stroke-width="0.9" stroke-linecap="round" stroke-linejoin="round"/>
<path d="M178.88 424.71 C178.9 425.27 178.98 427.48 179 428.03" fill="none" stroke="#2fe02f" stroke-width="0.9" stroke-linecap="round" stroke-linejoin="round"/>
<path d="M170.05 422.07 C170.15 422.37 170.52 423.56 170.61 423.86" fill="none" stroke="#2fe02f" stroke-width="0.9" stroke-linecap="round" stroke-linejoin="round"/>
<path d="M172.22 420.82 C171.71 420.89 169.68 421.14 169.18 421.21" fill="none" stroke="#2fe02f" stroke-width="0.9" stroke-linecap="round" stroke-linejoin="round"/>
<path d="M170.5 422.3 C170.85 422.4 172.24 422.8 172.59 422.9" fill="none" stroke="#2fe02f" stroke-width="0.9" stroke-linecap="round" stroke-linejoin="round"/>
<path d="M160.09 422.01 C160.34 422.54 161.31 424.63 161.56 425.15" fill="none" stroke="#2fe02f" stroke-width="0.9" stroke-linecap="round" stroke-linejoin="round"/>
<path d="M160.43 422.13 C160.15 422.63 159.03 424.6 158.75 425.09" fill="none" stroke="#2fe02f" stroke-width="0.9" stroke-linecap="round" stroke-linejoin="round"/>
<path d="M159.95 422.52 C160.23 422.87 161.38 424.27 161.67 424.62" fill="none" stroke="#2fe02f" stroke-width="0.9" stroke-linecap="round" stroke-linejoin="round"/>
<path d="M156.68 440.2 C157.07 440.71 158.63 442.77 159.01 443.28" fill="none" stroke="#2fe02f" stroke-width="0.9" stroke-linecap="round" stroke-linejoin="round"/>
<path d="M155.22 441.96 C155.7 441.98 157.61 442.05 158.08 442.07" fill="none" stroke="#2fe02f" stroke-width="0.9" stroke-linecap="round" stroke-linejoin="round"/>
<path d="M157.64 440.63 C157.71 441.22 157.98 443.57 158.05 444.15" fill="none" stroke="#2fe02f" stroke-width="0.9" stroke-linecap="round" stroke-linejoin="round"/>
<path d="M154.5 444.9 C154.74 445.36 155.69 447.21 155.93 447.67" fill="none" stroke="#2fe02f" stroke-width="0.9" stroke-linecap="round" stroke-linejoin="round"/>
<path d="M154.79 444.26 C155.06 444.79 156.16 446.94 156.43 447.47" fill="none" stroke="#2fe02f" stroke-width="0.9" stroke-linecap="round" stroke-linejoin="round"/>
<path d="M156.49 445.24 C155.85 445.29 153.26 445.49 152.61 445.53" fill="none" stroke="#2fe02f" stroke-width="0.9" stroke-linecap="round" stroke-linejoin="round"/>
<path d="M147.56 447.04 C148.07 447.33 150.15 448.53 150.67 448.83" fill="none" stroke="#2fe02f" stroke-width="0.9" stroke-linecap="round" stroke-linejoin="round"/>
<path d="M149.42 445.66 C149.11 446.11 147.87 447.92 147.56 448.38" fill="none" stroke="#2fe02f" stroke-width="0.9" stroke-linecap="round" stroke-linejoin="round"/>
<path d="M149.44 446.82 C149.06 447.14 147.54 448.39 147.16 448.7" fill="none" stroke="#2fe02f" stroke-width="0.9" stroke-linecap="round" stroke-linejoin="round"/>
<path d="M133.66 444.37 C133.44 444.9 132.58 447.02 132.36 447.55" fill="none" stroke="#2fe02f" stroke-width="0.9" stroke-linecap="round" stroke-linejoin="round"/>
<path d="M131.48 445.67 C131.79 445.7 133.05 445.81 133.37 445.83" fill="none" stroke="#2fe02f" stroke-width="0.9" stroke-linecap="round" stroke-linejoin="round"/>
<path d="M131.75 442.9 C132.16 443.24 133.82 444.61 134.23 444.95" fill="none" stroke="#2fe02f" stroke-width="0.9" stroke-linecap="round" stroke-linejoin="round"/>
<path d="M133.97 454.57 C134 454.91 134.12 456.29 134.15 456.63" fill="none" stroke="#2fe02f" stroke-width="0.9" stroke-linecap="round" stroke-linejoin="round"/>
<path d="M133.95 454.49 C134.13 454.76 134.83 455.85 135.01 456.13" fill="none" stroke="#2fe02f" stroke-width="0.9" stroke-linecap="round" stroke-linejoin="round"/>
<path d="M135.6 455.75 C135.65 456.16 135.82 457.78 135.87 458.19" fill="none" stroke="#2fe02f" stroke-width="0.9" stroke-linecap="round" stroke-linejoin="round"/>
<path d="M129.72 460.94 C130.18 461.36 132.02 463.07 132.48 463.49" fill="none" stroke="#2fe02f" stroke-width="0.9" stroke-linecap="round" stroke-linejoin="round"/>
<path d="M130.64 462.53 C130.91 462.85 131.98 464.14 132.25 464.46" fill="none" stroke="#2fe02f" stroke-width="0.9" stroke-linecap="round" stroke-linejoin="round"/>
<path d="M132.63 460.55 C132.74 460.8 133.15 461.77 133.25 462.02" fill="none" stroke="#2fe02f" stroke-width="0.9" stroke-linecap="round" stroke-linejoin="round"/>
<path d="M131.11 467.41 C131.05 467.8 130.83 469.35 130.78 469.74" fill="none" stroke="#2fe02f" stroke-width="0.9" stroke-linecap="round" stroke-linejoin="round"/>
<path d="M132.71 466.94 C132.35 467.17 130.92 468.09 130.57 468.31" fill="none" stroke="#2fe02f" stroke-width="0.9" stroke-linecap="round" stroke-linejoin="round"/>
<path d="M130.62 466.54 C130.74 466.82 131.23 467.96 131.36 468.24" fill="none" stroke="#2fe02f" stroke-width="0.9" stroke-linecap="round" stroke-linejoin="round"/>
</g>
<g clip-path="url(#cI01)" filter="url(#glow)">
<circle cx="208" cy="378.6" r="1.08" fill="#2fe02f"/>
<circle cx="219" cy="381.4" r="1.08" fill="#2fe02f"/>
<circle cx="221" cy="379" r="0.9" fill="#2fe02f"/>
<circle cx="204" cy="393" r="0.78" fill="#2fe02f"/>
<circle cx="202" cy="401.5" r="1.05" fill="#2fe02f"/>
<circle cx="195.5" cy="406" r="0.6" fill="#2fe02f"/>
<circle cx="206" cy="411" r="0.65" fill="#2fe02f"/>
<circle cx="210" cy="412" r="0.88" fill="#2fe02f"/>
<circle cx="198" cy="416" r="0.91" fill="#2fe02f"/>
<circle cx="186" cy="411" r="0.67" fill="#2fe02f"/>
<circle cx="179" cy="427" r="0.91" fill="#2fe02f"/>
<circle cx="170.7" cy="421.5" r="1.05" fill="#2fe02f"/>
<circle cx="160" cy="423" r="0.79" fill="#2fe02f"/>
<circle cx="157.4" cy="441.5" r="0.82" fill="#2fe02f"/>
<circle cx="154.5" cy="445.3" r="0.71" fill="#2fe02f"/>
<circle cx="147.8" cy="448" r="0.75" fill="#2fe02f"/>
<circle cx="132.6" cy="445.3" r="1.09" fill="#2fe02f"/>
<circle cx="135.4" cy="456.7" r="0.79" fill="#2fe02f"/>
<circle cx="132.6" cy="462.5" r="1.08" fill="#2fe02f"/>
<circle cx="130.7" cy="467.2" r="1.06" fill="#2fe02f"/>
</g>
<g clip-path="url(#cI02)">
<path d="M226 454 C228 452.67 234 448.83 238 446 C242 443.17 246 440.33 250 437 C254 433.67 258.33 429.5 262 426 C265.67 422.5 269 419.33 272 416 C275 412.67 277.67 409.33 280 406 C282.33 402.67 284.33 399.33 286 396 C287.67 392.67 288.67 389.33 290 386 C291.33 382.67 293 378.33 294 376 C295 373.67 295.67 372.67 296 372" fill="none" stroke="#200018" stroke-width="13.5" stroke-linecap="round" stroke-linejoin="round" filter="url(#blur1)"/>
<path d="M226 470 C228.33 468.83 235.33 465.5 240 463 C244.67 460.5 249.33 457.67 254 455 C258.67 452.33 263.67 449.5 268 447 C272.33 444.5 276.33 442.33 280 440 C283.67 437.67 286.67 435 290 433 C293.33 431 297 429 300 428 C303 427 305.67 427.5 308 427 C310.33 426.5 313 425.33 314 425" fill="none" stroke="#200018" stroke-width="13.5" stroke-linecap="round" stroke-linejoin="round" filter="url(#blur1)"/>
<path d="M300 428 C301.33 427 305.67 424.33 308 422 C310.33 419.67 312.67 416.67 314 414 C315.33 411.33 315.33 409 316 406 C316.67 403 317.17 399.33 318 396 C318.83 392.67 320 389.33 321 386 C322 382.67 323.17 378.33 324 376 C324.83 373.67 325.67 372.67 326 372" fill="none" stroke="#200018" stroke-width="12.5" stroke-linecap="round" stroke-linejoin="round" filter="url(#blur1)"/>
<path d="M314 425 C315 424.17 318.33 421.83 320 420 C321.67 418.17 323.83 416 324 414 C324.17 412 322.33 409.33 321 408 C319.67 406.67 316.83 406.33 316 406" fill="none" stroke="#200018" stroke-width="9" stroke-linecap="round" stroke-linejoin="round" filter="url(#blur1)"/>
<g filter="url(#mottle)">
<path d="M226 454 C228 452.67 234 448.83 238 446 C242 443.17 246 440.33 250 437 C254 433.67 258.33 429.5 262 426 C265.67 422.5 269 419.33 272 416 C275 412.67 277.67 409.33 280 406 C282.33 402.67 284.33 399.33 286 396 C287.67 392.67 288.67 389.33 290 386 C291.33 382.67 293 378.33 294 376 C295 373.67 295.67 372.67 296 372" fill="none" stroke="url(#pM)" stroke-width="10.5" stroke-linecap="round" stroke-linejoin="round"/>
<path d="M226 470 C228.33 468.83 235.33 465.5 240 463 C244.67 460.5 249.33 457.67 254 455 C258.67 452.33 263.67 449.5 268 447 C272.33 444.5 276.33 442.33 280 440 C283.67 437.67 286.67 435 290 433 C293.33 431 297 429 300 428 C303 427 305.67 427.5 308 427 C310.33 426.5 313 425.33 314 425" fill="none" stroke="url(#pM)" stroke-width="10.5" stroke-linecap="round" stroke-linejoin="round"/>
<path d="M300 428 C301.33 427 305.67 424.33 308 422 C310.33 419.67 312.67 416.67 314 414 C315.33 411.33 315.33 409 316 406 C316.67 403 317.17 399.33 318 396 C318.83 392.67 320 389.33 321 386 C322 382.67 323.17 378.33 324 376 C324.83 373.67 325.67 372.67 326 372" fill="none" stroke="url(#pM)" stroke-width="9.5" stroke-linecap="round" stroke-linejoin="round"/>
<path d="M314 425 C315 424.17 318.33 421.83 320 420 C321.67 418.17 323.83 416 324 414 C324.17 412 322.33 409.33 321 408 C319.67 406.67 316.83 406.33 316 406" fill="none" stroke="url(#pM)" stroke-width="6" stroke-linecap="round" stroke-linejoin="round"/>
</g>
</g>
<g clip-path="url(#cI02)" filter="url(#blur035)">
<use href="#cm2" x="224.43" y="451.23"/>
<use href="#cm2" x="224.19" y="450.62"/>
<use href="#cm2" x="227.03" y="455.77"/>
<use href="#cm2" x="226.03" y="452.62"/>
<use href="#cm1" x="227.52" y="450.5"/>
<use href="#cm3" x="229.99" y="455.15"/>
<use href="#cm2" x="226.15" y="448.41"/>
<use href="#cm2" x="229.76" y="454.8"/>
<use href="#cm2" x="230.86" y="451.54"/>
<use href="#cm3" x="234.12" y="454.62"/>
<use href="#cm3" x="232.62" y="454.7"/>
<use href="#cm3" x="232.29" y="453.68"/>
<use href="#cm3" x="235.96" y="454.08"/>
<use href="#cm3" x="235.39" y="451.77"/>
<use href="#cm2" x="235.96" y="454.04"/>
<use href="#cm2" x="232.97" y="449.57"/>
<use href="#cm3" x="234.58" y="446.93"/>
<use href="#cm3" x="237.59" y="449.35"/>
<use href="#cm2" x="236.09" y="447.71"/>
<use href="#cm2" x="235.22" y="446.42"/>
<use href="#cm2" x="240.05" y="447.86"/>
<use href="#cm1" x="238.4" y="446.8"/>
<use href="#cm1" x="239.77" y="448.85"/>
<use href="#cm2" x="237.15" y="445.75"/>
<use href="#cm3" x="239.77" y="443.93"/>
<use href="#cm3" x="237.74" y="440.56"/>
<use href="#cm1" x="239.89" y="444.75"/>
<use href="#cm3" x="239.22" y="444.17"/>
<use href="#cm2" x="243.85" y="442.72"/>
<use href="#cm3" x="241.46" y="441.75"/>
<use href="#cm3" x="241.9" y="441.47"/>
<use href="#cm3" x="240.9" y="440.27"/>
<use href="#cm3" x="247.58" y="442.7"/>
<use href="#cm2" x="243.08" y="436.92"/>
<use href="#cm2" x="243" y="438.7"/>
<use href="#cm1" x="243.35" y="438.45"/>
<use href="#cm3" x="248.82" y="439.79"/>
<use href="#cm2" x="246.44" y="436.54"/>
<use href="#cm2" x="247.09" y="437.1"/>
<use href="#cm3" x="250.14" y="441.69"/>
<use href="#cm2" x="250.28" y="436.03"/>
<use href="#cm3" x="247.84" y="433.72"/>
<use href="#cm3" x="249.93" y="437.58"/>
<use href="#cm3" x="252.14" y="438.86"/>
<use href="#cm3" x="248.95" y="432.02"/>
<use href="#cm1" x="252.22" y="435.86"/>
<use href="#cm2" x="254.35" y="438.65"/>
<use href="#cm3" x="254.64" y="437.85"/>
<use href="#cm1" x="251.46" y="432.02"/>
<use href="#cm2" x="254.19" y="434.68"/>
<use href="#cm3" x="252.26" y="431.55"/>
<use href="#cm1" x="254.13" y="433.81"/>
<use href="#cm1" x="254.19" y="429.12"/>
<use href="#cm3" x="256.65" y="431.26"/>
<use href="#cm2" x="255.72" y="432.09"/>
<use href="#cm3" x="252.1" y="427.49"/>
<use href="#cm3" x="259.75" y="431.4"/>
<use href="#cm3" x="254.94" y="426.62"/>
<use href="#cm1" x="258.67" y="429.98"/>
<use href="#cm3" x="258.94" y="430.88"/>
<use href="#cm2" x="258.38" y="425.77"/>
<use href="#cm3" x="258.81" y="426.48"/>
<use href="#cm3" x="262.33" y="429.98"/>
<use href="#cm1" x="259.73" y="427.49"/>
<use href="#cm1" x="261.9" y="424.55"/>
<use href="#cm2" x="261" y="425.27"/>
<use href="#cm2" x="258.94" y="422.96"/>
<use href="#cm1" x="260.67" y="425.05"/>
<use href="#cm2" x="263.33" y="424.15"/>
<use href="#cm1" x="260.65" y="419.73"/>
<use href="#cm3" x="266.89" y="425.92"/>
<use href="#cm1" x="262.8" y="422.88"/>
<use href="#cm2" x="264.02" y="419.36"/>
<use href="#cm3" x="268.34" y="424.78"/>
<use href="#cm3" x="264.13" y="419.53"/>
<use href="#cm2" x="263.89" y="421.1"/>
<use href="#cm2" x="269.39" y="421.51"/>
<use href="#cm2" x="265.42" y="417.51"/>
<use href="#cm3" x="264.66" y="417.3"/>
<use href="#cm1" x="270.68" y="422.5"/>
<use href="#cm1" x="270" y="417.9"/>
<use href="#cm1" x="271.72" y="420.78"/>
<use href="#cm2" x="271.36" y="419.83"/>
<use href="#cm3" x="272.73" y="420.96"/>
<use href="#cm3" x="274.91" y="418.32"/>
<use href="#cm1" x="273.41" y="416.08"/>
<use href="#cm3" x="267.66" y="412.17"/>
<use href="#cm1" x="275.38" y="417.65"/>
<use href="#cm1" x="272.75" y="412.12"/>
<use href="#cm3" x="271.17" y="410.61"/>
<use href="#cm1" x="277.16" y="416.89"/>
<use href="#cm3" x="276.35" y="414.98"/>
<use href="#cm1" x="278.91" y="412.6"/>
<use href="#cm2" x="273.72" y="407.9"/>
<use href="#cm3" x="278.83" y="413.38"/>
<use href="#cm1" x="279.19" y="413.54"/>
<use href="#cm3" x="276.41" y="406.46"/>
<use href="#cm2" x="276.37" y="407.13"/>
<use href="#cm3" x="280.61" y="410.59"/>
<use href="#cm2" x="277.45" y="407.94"/>
<use href="#cm3" x="280.34" y="406.62"/>
<use href="#cm3" x="275.98" y="403.53"/>
<use href="#cm2" x="276.24" y="404.5"/>
<use href="#cm2" x="280.05" y="405.69"/>
<use href="#cm3" x="277.11" y="400.84"/>
<use href="#cm1" x="285.97" y="405.99"/>
<use href="#cm1" x="279.14" y="402.05"/>
<use href="#cm3" x="283.16" y="404.83"/>
<use href="#cm1" x="286.4" y="403.49"/>
<use href="#cm2" x="287.22" y="403.51"/>
<use href="#cm2" x="280.36" y="399.77"/>
<use href="#cm1" x="280.87" y="400"/>
<use href="#cm1" x="286.69" y="399.74"/>
<use href="#cm1" x="288.81" y="400.76"/>
<use href="#cm3" x="281.28" y="397.35"/>
<use href="#cm3" x="286.1" y="400.18"/>
<use href="#cm3" x="287.15" y="397.09"/>
<use href="#cm2" x="287.51" y="397.67"/>
<use href="#cm1" x="286.88" y="397.16"/>
<use href="#cm3" x="290.76" y="398.58"/>
<use href="#cm2" x="288.87" y="394.96"/>
<use href="#cm2" x="291.94" y="395.05"/>
<use href="#cm1" x="286.59" y="393.24"/>
<use href="#cm1" x="283.45" y="391.87"/>
<use href="#cm3" x="289.21" y="391.43"/>
<use href="#cm1" x="282.67" y="388.97"/>
<use href="#cm2" x="284.18" y="388.76"/>
<use href="#cm2" x="284.8" y="389.92"/>
<use href="#cm2" x="287.57" y="388.3"/>
<use href="#cm3" x="292.33" y="390.39"/>
<use href="#cm1" x="287.48" y="387.34"/>
<use href="#cm1" x="289.5" y="388.43"/>
<use href="#cm1" x="293.18" y="387.69"/>
<use href="#cm3" x="291.19" y="386.59"/>
<use href="#cm2" x="286.46" y="384.7"/>
<use href="#cm2" x="289.67" y="386.17"/>
<use href="#cm2" x="286.04" y="381.47"/>
<use href="#cm3" x="291.13" y="384.02"/>
<use href="#cm1" x="291.16" y="383.27"/>
<use href="#cm3" x="292.35" y="383.94"/>
<use href="#cm2" x="296.25" y="382.51"/>
<use href="#cm3" x="293.01" y="382.09"/>
<use href="#cm3" x="296.44" y="382.37"/>
<use href="#cm3" x="293.16" y="381.7"/>
<use href="#cm3" x="291.8" y="377.92"/>
<use href="#cm3" x="294.2" y="379.47"/>
<use href="#cm3" x="289.57" y="376.41"/>
<use href="#cm1" x="290.19" y="378.04"/>
<use href="#cm1" x="295.96" y="377.08"/>
<use href="#cm2" x="297.02" y="377.42"/>
<use href="#cm3" x="298.35" y="377.8"/>
<use href="#cm2" x="293.86" y="376.74"/>
<use href="#cm1" x="224.47" y="466.53"/>
<use href="#cm3" x="227.03" y="472.07"/>
<use href="#cm1" x="225.19" y="469.8"/>
<use href="#cm3" x="226.74" y="472.09"/>
<use href="#cm2" x="227.46" y="466.58"/>
<use href="#cm3" x="226.57" y="467.19"/>
<use href="#cm1" x="229.03" y="470.42"/>
<use href="#cm3" x="227.02" y="466.06"/>
<use href="#cm3" x="229.76" y="465.08"/>
<use href="#cm3" x="230.17" y="466.34"/>
<use href="#cm3" x="229.42" y="466.81"/>
<use href="#cm3" x="229.72" y="465.83"/>
<use href="#cm1" x="233.23" y="466.28"/>
<use href="#cm1" x="233.84" y="469.38"/>
<use href="#cm3" x="234.87" y="470.12"/>
<use href="#cm1" x="232.06" y="463.13"/>
<use href="#cm2" x="233.06" y="462.28"/>
<use href="#cm1" x="234.28" y="462.93"/>
<use href="#cm2" x="236.05" y="466.76"/>
<use href="#cm1" x="235.18" y="464.38"/>
<use href="#cm1" x="235.73" y="460.61"/>
<use href="#cm3" x="238.52" y="465.93"/>
<use href="#cm2" x="240.03" y="468.27"/>
<use href="#cm2" x="236.18" y="459.93"/>
<use href="#cm1" x="238.53" y="460.97"/>
<use href="#cm2" x="238.28" y="460.67"/>
<use href="#cm3" x="238.84" y="460.1"/>
<use href="#cm1" x="237.52" y="458.78"/>
<use href="#cm2" x="244.45" y="464.09"/>
<use href="#cm1" x="243.81" y="464.35"/>
<use href="#cm1" x="244.73" y="464.57"/>
<use href="#cm1" x="239.24" y="457.51"/>
<use href="#cm3" x="244.61" y="460.25"/>
<use href="#cm1" x="247.09" y="462.69"/>
<use href="#cm1" x="244.2" y="461.25"/>
<use href="#cm1" x="243.82" y="459.72"/>
<use href="#cm3" x="248.57" y="461.78"/>
<use href="#cm2" x="246.45" y="458.15"/>
<use href="#cm3" x="247.33" y="459.59"/>
<use href="#cm3" x="245.19" y="456.36"/>
<use href="#cm2" x="248.75" y="457.63"/>
<use href="#cm3" x="249.87" y="458.07"/>
<use href="#cm1" x="246.72" y="453.92"/>
<use href="#cm1" x="248.8" y="454.84"/>
<use href="#cm1" x="254.08" y="458.85"/>
<use href="#cm1" x="253.84" y="460.09"/>
<use href="#cm2" x="253.46" y="460.8"/>
<use href="#cm2" x="253.16" y="458.25"/>
<use href="#cm2" x="251.56" y="450.01"/>
<use href="#cm3" x="251.1" y="451.04"/>
<use href="#cm2" x="253.13" y="452.44"/>
<use href="#cm2" x="256.17" y="457.48"/>
<use href="#cm2" x="258.12" y="456.31"/>
<use href="#cm2" x="256.21" y="454.38"/>
<use href="#cm3" x="254.52" y="449.98"/>
<use href="#cm3" x="258.01" y="455.99"/>
<use href="#cm3" x="256.99" y="448.84"/>
<use href="#cm1" x="256.67" y="449.24"/>
<use href="#cm2" x="257.6" y="450.81"/>
<use href="#cm2" x="260.55" y="454.91"/>
<use href="#cm3" x="259.69" y="449.75"/>
<use href="#cm3" x="261.05" y="450.45"/>
<use href="#cm2" x="259.82" y="448.72"/>
<use href="#cm2" x="261.55" y="451.5"/>
<use href="#cm1" x="265.66" y="453.22"/>
<use href="#cm2" x="261.47" y="446.46"/>
<use href="#cm2" x="265.14" y="452.65"/>
<use href="#cm2" x="266.36" y="453.93"/>
<use href="#cm1" x="266.25" y="448.06"/>
<use href="#cm1" x="262.81" y="443.59"/>
<use href="#cm3" x="267.28" y="451.9"/>
<use href="#cm3" x="266.79" y="450.19"/>
<use href="#cm3" x="266.13" y="444.49"/>
<use href="#cm1" x="268.6" y="448.21"/>
<use href="#cm1" x="268.24" y="448.88"/>
<use href="#cm2" x="269.12" y="447.8"/>
<use href="#cm1" x="268.44" y="443.05"/>
<use href="#cm1" x="270.29" y="444.99"/>
<use href="#cm2" x="272.34" y="448.81"/>
<use href="#cm2" x="269.12" y="444.81"/>
<use href="#cm3" x="272.85" y="444.18"/>
<use href="#cm2" x="274.5" y="446.15"/>
<use href="#cm3" x="270.93" y="440.04"/>
<use href="#cm3" x="269.58" y="439.4"/>
<use href="#cm3" x="274.67" y="441.36"/>
<use href="#cm3" x="273.91" y="441.53"/>
<use href="#cm2" x="274.92" y="441.66"/>
<use href="#cm1" x="273.16" y="438.88"/>
<use href="#cm3" x="275.51" y="439.04"/>
<use href="#cm3" x="277.74" y="441.84"/>
<use href="#cm1" x="279.96" y="445.62"/>
<use href="#cm2" x="279.25" y="444.48"/>
<use href="#cm2" x="281.38" y="441.6"/>
<use href="#cm2" x="279.12" y="439.39"/>
<use href="#cm2" x="278.67" y="437.48"/>
<use href="#cm2" x="282.3" y="442.74"/>
<use href="#cm3" x="281.06" y="436.55"/>
<use href="#cm1" x="280.87" y="436.97"/>
<use href="#cm3" x="283.78" y="440.86"/>
<use href="#cm1" x="281.35" y="437.14"/>
<use href="#cm2" x="282.61" y="433.78"/>
<use href="#cm1" x="286.01" y="439.1"/>
<use href="#cm1" x="286.36" y="439.56"/>
<use href="#cm3" x="285.35" y="436.68"/>
<use href="#cm2" x="289.69" y="438.87"/>
<use href="#cm3" x="289.9" y="438.42"/>
<use href="#cm1" x="286.14" y="433.32"/>
<use href="#cm2" x="289.51" y="436.55"/>
<use href="#cm2" x="288.15" y="429.76"/>
<use href="#cm1" x="291.29" y="437.37"/>
<use href="#cm1" x="288.53" y="430.03"/>
<use href="#cm3" x="289.96" y="433.82"/>
<use href="#cm3" x="291.5" y="430.4"/>
<use href="#cm2" x="294.9" y="435.83"/>
<use href="#cm2" x="291.05" y="428.39"/>
<use href="#cm3" x="295.25" y="435.38"/>
<use href="#cm1" x="295.27" y="432.32"/>
<use href="#cm2" x="293.36" y="428.28"/>
<use href="#cm3" x="292.96" y="427.05"/>
<use href="#cm3" x="296.2" y="431.48"/>
<use href="#cm2" x="298.26" y="428.97"/>
<use href="#cm2" x="298.04" y="430.63"/>
<use href="#cm1" x="297.55" y="429.66"/>
<use href="#cm1" x="298.75" y="431.42"/>
<use href="#cm3" x="299.15" y="423.7"/>
<use href="#cm3" x="301.12" y="430.26"/>
<use href="#cm1" x="299.72" y="427.34"/>
<use href="#cm3" x="299.82" y="430.28"/>
<use href="#cm3" x="301.56" y="422.36"/>
<use href="#cm2" x="302.38" y="425.15"/>
<use href="#cm3" x="302.88" y="426.39"/>
<use href="#cm3" x="302.69" y="424.4"/>
<use href="#cm3" x="305.71" y="432.55"/>
<use href="#cm1" x="304.57" y="425.83"/>
<use href="#cm1" x="305.44" y="425.03"/>
<use href="#cm2" x="304.48" y="426.54"/>
<use href="#cm1" x="307.02" y="424.46"/>
<use href="#cm3" x="307.28" y="422.59"/>
<use href="#cm2" x="308.05" y="428.67"/>
<use href="#cm1" x="306.99" y="422.83"/>
<use href="#cm1" x="311" y="424.76"/>
<use href="#cm3" x="311.95" y="426.91"/>
<use href="#cm2" x="311.62" y="426.72"/>
<use href="#cm3" x="310.95" y="426.99"/>
<use href="#cm1" x="298.29" y="426.66"/>
<use href="#cm3" x="297.69" y="425.43"/>
<use href="#cm2" x="297.33" y="425.06"/>
<use href="#cm2" x="302.36" y="425.16"/>
<use href="#cm3" x="300.97" y="422.51"/>
<use href="#cm1" x="304.98" y="428.91"/>
<use href="#cm1" x="305.92" y="424.32"/>
<use href="#cm1" x="307.12" y="427.75"/>
<use href="#cm2" x="305.72" y="424.31"/>
<use href="#cm2" x="310.41" y="424.77"/>
<use href="#cm1" x="310.38" y="424.66"/>
<use href="#cm3" x="306.52" y="421.17"/>
<use href="#cm3" x="313.5" y="421.13"/>
<use href="#cm1" x="307.6" y="417.95"/>
<use href="#cm2" x="310.14" y="419.26"/>
<use href="#cm2" x="310.09" y="415.24"/>
<use href="#cm3" x="308.56" y="413.38"/>
<use href="#cm3" x="314" y="418.32"/>
<use href="#cm2" x="310.69" y="412.94"/>
<use href="#cm2" x="316.72" y="415.4"/>
<use href="#cm3" x="317.3" y="414.29"/>
<use href="#cm1" x="312.37" y="410.51"/>
<use href="#cm2" x="310.4" y="410.78"/>
<use href="#cm1" x="317.92" y="412.46"/>
<use href="#cm2" x="316.28" y="408.71"/>
<use href="#cm3" x="315.11" y="408.75"/>
<use href="#cm3" x="311.8" y="407.23"/>
<use href="#cm2" x="313.17" y="405.37"/>
<use href="#cm2" x="317.79" y="406.61"/>
<use href="#cm1" x="319.51" y="407.27"/>
<use href="#cm2" x="315.27" y="402.07"/>
<use href="#cm2" x="318.58" y="402.9"/>
<use href="#cm1" x="315.69" y="402.68"/>
<use href="#cm2" x="316.54" y="398.6"/>
<use href="#cm2" x="321.85" y="399.57"/>
<use href="#cm1" x="317.02" y="399.42"/>
<use href="#cm2" x="317.43" y="395.89"/>
<use href="#cm1" x="321.25" y="397.18"/>
<use href="#cm3" x="321.3" y="397.05"/>
<use href="#cm3" x="321.08" y="393.62"/>
<use href="#cm2" x="316.96" y="393.69"/>
<use href="#cm1" x="322.72" y="394.36"/>
<use href="#cm1" x="315.7" y="389.94"/>
<use href="#cm2" x="316.68" y="390.14"/>
<use href="#cm1" x="316.36" y="390.3"/>
<use href="#cm3" x="322.38" y="389.29"/>
<use href="#cm3" x="316.24" y="387.29"/>
<use href="#cm3" x="321.38" y="388.99"/>
<use href="#cm1" x="323.14" y="386.89"/>
<use href="#cm3" x="317.21" y="384.64"/>
<use href="#cm3" x="320.38" y="386.55"/>
<use href="#cm3" x="325.16" y="384.61"/>
<use href="#cm3" x="324.59" y="384.65"/>
<use href="#cm2" x="320.26" y="383.7"/>
<use href="#cm1" x="326.01" y="381.82"/>
<use href="#cm2" x="325.25" y="382.14"/>
<use href="#cm2" x="326.01" y="381.77"/>
<use href="#cm1" x="321.19" y="377.34"/>
<use href="#cm3" x="326.99" y="379.07"/>
<use href="#cm1" x="323.11" y="378.49"/>
<use href="#cm1" x="324.75" y="376.16"/>
<use href="#cm3" x="321.15" y="373.67"/>
<use href="#cm3" x="320.63" y="373.93"/>
<use href="#cm3" x="312.76" y="423.61"/>
<use href="#cm2" x="311.95" y="422.85"/>
<use href="#cm3" x="315.21" y="421.8"/>
<use href="#cm2" x="316.86" y="425.23"/>
<use href="#cm2" x="317.64" y="421.65"/>
<use href="#cm3" x="316.82" y="419.99"/>
<use href="#cm2" x="320.65" y="420.72"/>
<use href="#cm1" x="319.87" y="420.84"/>
<use href="#cm1" x="324.29" y="418.25"/>
<use href="#cm3" x="319.96" y="415.85"/>
<use href="#cm3" x="322.44" y="414.18"/>
<use href="#cm3" x="323.17" y="415.03"/>
<use href="#cm1" x="320.88" y="411.59"/>
<use href="#cm3" x="324.16" y="411.19"/>
<use href="#cm2" x="320.7" y="408.86"/>
<use href="#cm3" x="319.44" y="410.85"/>
<use href="#cm3" x="319.07" y="407.73"/>
<use href="#cm1" x="317.96" y="406.8"/>
</g>
<g clip-path="url(#cI02)" filter="url(#blur05)">
<path d="M230 462 C232 460.83 238 457.5 242 455 C246 452.5 250 449.83 254 447 C258 444.17 262.33 441 266 438 C269.67 435 273 432 276 429 C279 426 281.67 423.17 284 420 C286.33 416.83 288 413.67 290 410 C292 406.33 294.33 402 296 398 C297.67 394 298.67 389.67 300 386 C301.33 382.33 303.33 377.67 304 376" fill="none" stroke="#3030f0" stroke-width="1.7" stroke-dasharray="2.5 2 1.5 2.5" stroke-linecap="round" opacity="0.75"/>
<path d="M236 460 C238 458.67 244 454.83 248 452 C252 449.17 258 444.5 260 443" fill="none" stroke="#3030f0" stroke-width="1.7" stroke-dasharray="2.5 2 1.5 2.5" stroke-linecap="round" opacity="0.75"/>
<path d="M272 432 C273.67 430.67 279.33 426.67 282 424 C284.67 421.33 287 417.33 288 416" fill="none" stroke="#3030f0" stroke-width="1.7" stroke-dasharray="2.5 2 1.5 2.5" stroke-linecap="round" opacity="0.75"/>
<path d="M294 404 C295.33 402.33 299.67 397.33 302 394 C304.33 390.67 307 385.67 308 384" fill="none" stroke="#3030f0" stroke-width="1.7" stroke-dasharray="2.5 2 1.5 2.5" stroke-linecap="round" opacity="0.75"/>
</g>
<g clip-path="url(#cI02)" filter="url(#glow)" opacity="1">
<path d="M311.52 378.37 C311.31 378.89 310.46 380.96 310.25 381.48" fill="none" stroke="#30e0a0" stroke-width="0.9" stroke-linecap="round" stroke-linejoin="round"/>
<path d="M309.89 377.11 C309.46 377.57 307.72 379.42 307.28 379.88" fill="none" stroke="#30e0a0" stroke-width="0.9" stroke-linecap="round" stroke-linejoin="round"/>
<path d="M323.74 379.96 C323.23 380.06 321.18 380.42 320.67 380.52" fill="none" stroke="#30e0a0" stroke-width="0.9" stroke-linecap="round" stroke-linejoin="round"/>
<path d="M321.03 380.57 C321.06 380.92 321.2 382.32 321.23 382.68" fill="none" stroke="#30e0a0" stroke-width="0.9" stroke-linecap="round" stroke-linejoin="round"/>
<path d="M321.32 380.21 C321.66 380.22 323.02 380.28 323.36 380.29" fill="none" stroke="#30e0a0" stroke-width="0.9" stroke-linecap="round" stroke-linejoin="round"/>
<path d="M324.6 377.28 C324.36 377.49 323.42 378.34 323.19 378.55" fill="none" stroke="#30e0a0" stroke-width="0.9" stroke-linecap="round" stroke-linejoin="round"/>
<path d="M304.83 393.27 C304.72 393.55 304.29 394.68 304.18 394.96" fill="none" stroke="#30e0a0" stroke-width="0.9" stroke-linecap="round" stroke-linejoin="round"/>
<path d="M306.64 393.49 C306.91 393.7 307.98 394.53 308.25 394.74" fill="none" stroke="#30e0a0" stroke-width="0.9" stroke-linecap="round" stroke-linejoin="round"/>
<path d="M302.92 400.49 C303.32 401.01 304.92 403.06 305.32 403.57" fill="none" stroke="#30e0a0" stroke-width="0.9" stroke-linecap="round" stroke-linejoin="round"/>
<path d="M303.03 401.74 C303.54 402.13 305.6 403.67 306.11 404.06" fill="none" stroke="#30e0a0" stroke-width="0.9" stroke-linecap="round" stroke-linejoin="round"/>
<path d="M298.15 404.63 C297.79 404.75 296.38 405.24 296.02 405.37" fill="none" stroke="#30e0a0" stroke-width="0.9" stroke-linecap="round" stroke-linejoin="round"/>
<path d="M296.16 405.94 C296.41 406.06 297.4 406.55 297.65 406.68" fill="none" stroke="#30e0a0" stroke-width="0.9" stroke-linecap="round" stroke-linejoin="round"/>
<path d="M305.92 410.41 C306.45 410.42 308.58 410.44 309.11 410.45" fill="none" stroke="#30e0a0" stroke-width="0.9" stroke-linecap="round" stroke-linejoin="round"/>
<path d="M308.58 410.21 C308.21 410.46 306.69 411.43 306.31 411.67" fill="none" stroke="#30e0a0" stroke-width="0.9" stroke-linecap="round" stroke-linejoin="round"/>
<path d="M313.92 409.91 C313.75 410.13 313.1 411.01 312.93 411.23" fill="none" stroke="#30e0a0" stroke-width="0.9" stroke-linecap="round" stroke-linejoin="round"/>
<path d="M311.83 411.59 C311.41 412.01 309.7 413.72 309.28 414.14" fill="none" stroke="#30e0a0" stroke-width="0.9" stroke-linecap="round" stroke-linejoin="round"/>
<path d="M297.93 413.3 C298.13 413.74 298.93 415.54 299.13 415.99" fill="none" stroke="#30e0a0" stroke-width="0.9" stroke-linecap="round" stroke-linejoin="round"/>
<path d="M297.45 415.72 C298 416.07 300.18 417.46 300.73 417.81" fill="none" stroke="#30e0a0" stroke-width="0.9" stroke-linecap="round" stroke-linejoin="round"/>
<path d="M289.41 410.14 C288.79 410.28 286.28 410.85 285.65 410.99" fill="none" stroke="#30e0a0" stroke-width="0.9" stroke-linecap="round" stroke-linejoin="round"/>
<path d="M286.96 410.03 C286.91 410.6 286.74 412.89 286.69 413.46" fill="none" stroke="#30e0a0" stroke-width="0.9" stroke-linecap="round" stroke-linejoin="round"/>
<path d="M281.08 427.25 C280.59 427.61 278.63 429.06 278.14 429.42" fill="none" stroke="#30e0a0" stroke-width="0.9" stroke-linecap="round" stroke-linejoin="round"/>
<path d="M280.2 427.92 C280.58 428.03 282.08 428.48 282.46 428.59" fill="none" stroke="#30e0a0" stroke-width="0.9" stroke-linecap="round" stroke-linejoin="round"/>
<path d="M271.92 419.27 C272.22 419.82 273.45 422.05 273.75 422.61" fill="none" stroke="#30e0a0" stroke-width="0.9" stroke-linecap="round" stroke-linejoin="round"/>
<path d="M270.91 419.63 C271.08 419.9 271.79 420.99 271.96 421.26" fill="none" stroke="#30e0a0" stroke-width="0.9" stroke-linecap="round" stroke-linejoin="round"/>
<path d="M262.1 419.99 C261.73 420.54 260.24 422.75 259.87 423.3" fill="none" stroke="#30e0a0" stroke-width="0.9" stroke-linecap="round" stroke-linejoin="round"/>
<path d="M263.13 422.15 C262.66 422.17 260.77 422.25 260.3 422.27" fill="none" stroke="#30e0a0" stroke-width="0.9" stroke-linecap="round" stroke-linejoin="round"/>
<path d="M259.79 439.56 C259.61 440.13 258.92 442.4 258.75 442.97" fill="none" stroke="#30e0a0" stroke-width="0.9" stroke-linecap="round" stroke-linejoin="round"/>
<path d="M256.13 441.15 C256.75 441.26 259.24 441.7 259.86 441.81" fill="none" stroke="#30e0a0" stroke-width="0.9" stroke-linecap="round" stroke-linejoin="round"/>
<path d="M257.99 446.21 C257.73 446.35 256.66 446.95 256.4 447.09" fill="none" stroke="#30e0a0" stroke-width="0.9" stroke-linecap="round" stroke-linejoin="round"/>
<path d="M256.01 443.51 C255.78 444.04 254.86 446.16 254.63 446.7" fill="none" stroke="#30e0a0" stroke-width="0.9" stroke-linecap="round" stroke-linejoin="round"/>
<path d="M247.57 447.04 C248.11 447.32 250.26 448.4 250.8 448.68" fill="none" stroke="#30e0a0" stroke-width="0.9" stroke-linecap="round" stroke-linejoin="round"/>
<path d="M253.04 447.86 C252.44 447.86 250.02 447.86 249.41 447.86" fill="none" stroke="#30e0a0" stroke-width="0.9" stroke-linecap="round" stroke-linejoin="round"/>
<path d="M234.48 443.01 C234.5 443.57 234.58 445.78 234.6 446.33" fill="none" stroke="#30e0a0" stroke-width="0.9" stroke-linecap="round" stroke-linejoin="round"/>
<path d="M233.95 445.87 C234.05 446.17 234.42 447.36 234.51 447.66" fill="none" stroke="#30e0a0" stroke-width="0.9" stroke-linecap="round" stroke-linejoin="round"/>
<path d="M238.92 456.02 C238.41 456.09 236.38 456.34 235.88 456.41" fill="none" stroke="#30e0a0" stroke-width="0.9" stroke-linecap="round" stroke-linejoin="round"/>
<path d="M237.2 457.5 C237.55 457.6 238.94 458 239.29 458.1" fill="none" stroke="#30e0a0" stroke-width="0.9" stroke-linecap="round" stroke-linejoin="round"/>
<path d="M234.69 461.51 C234.94 462.04 235.91 464.13 236.16 464.65" fill="none" stroke="#30e0a0" stroke-width="0.9" stroke-linecap="round" stroke-linejoin="round"/>
<path d="M235.03 461.63 C234.75 462.13 233.63 464.1 233.35 464.59" fill="none" stroke="#30e0a0" stroke-width="0.9" stroke-linecap="round" stroke-linejoin="round"/>
<path d="M232.65 466.72 C232.93 467.07 234.08 468.47 234.37 468.82" fill="none" stroke="#30e0a0" stroke-width="0.9" stroke-linecap="round" stroke-linejoin="round"/>
<path d="M231.98 465.9 C232.37 466.41 233.93 468.47 234.31 468.98" fill="none" stroke="#30e0a0" stroke-width="0.9" stroke-linecap="round" stroke-linejoin="round"/>
</g>
<g clip-path="url(#cI02)" filter="url(#glow)">
<circle cx="310" cy="378.6" r="0.61" fill="#30e0a0"/>
<circle cx="321" cy="381.4" r="0.87" fill="#30e0a0"/>
<circle cx="323" cy="379" r="0.73" fill="#30e0a0"/>
<circle cx="306" cy="393" r="0.94" fill="#30e0a0"/>
<circle cx="304" cy="401.5" r="0.83" fill="#30e0a0"/>
<circle cx="297.5" cy="406" r="1.01" fill="#30e0a0"/>
<circle cx="308" cy="411" r="0.92" fill="#30e0a0"/>
<circle cx="312" cy="412" r="1" fill="#30e0a0"/>
<circle cx="300" cy="416" r="0.77" fill="#30e0a0"/>
<circle cx="288" cy="411" r="0.92" fill="#30e0a0"/>
<circle cx="281" cy="427" r="0.97" fill="#30e0a0"/>
<circle cx="272.7" cy="421.5" r="1.01" fill="#30e0a0"/>
<circle cx="262" cy="423" r="0.78" fill="#30e0a0"/>
<circle cx="259.4" cy="441.5" r="1.02" fill="#30e0a0"/>
<circle cx="256.5" cy="445.3" r="1.03" fill="#30e0a0"/>
<circle cx="249.8" cy="448" r="0.94" fill="#30e0a0"/>
<circle cx="234.6" cy="445.3" r="1.09" fill="#30e0a0"/>
<circle cx="237.4" cy="456.7" r="1.08" fill="#30e0a0"/>
<circle cx="234.6" cy="462.5" r="0.86" fill="#30e0a0"/>
<circle cx="232.7" cy="467.2" r="0.86" fill="#30e0a0"/>
</g>
<text x="28.4" y="385.5" font-size="11" fill="#ff1010" font-weight="bold">A<tspan font-size="7.1">2A</tspan>R</text>
<text x="130" y="385.6" font-size="10.5" fill="#18e818" text-anchor="start" font-weight="bold">IBA-1</text>
<text x="230.1" y="385.7" font-size="11" fill="#f8f800" text-anchor="start" font-weight="bold">Merge</text>
<rect x="89.4" y="468.15" width="32.7" height="2.7" fill="#fff"/>
<text x="105.5" y="465.8" font-size="7.1" fill="#fff" text-anchor="middle" font-weight="normal">100 μm</text>
<g clip-path="url(#cI10)">
<path d="M22 512 C23.33 512.17 27.33 512 30 513 C32.67 514 35.33 516 38 518 C40.67 520 43.33 522.83 46 525 C48.67 527.17 51.67 529.17 54 531 C56.33 532.83 58.33 535 60 536 C61.67 537 62.67 537.67 64 537 C65.33 536.33 67 533.83 68 532 C69 530.17 69.67 527 70 526" fill="none" stroke="#300000" stroke-width="9" stroke-linecap="round" stroke-linejoin="round" filter="url(#blur1)"/>
<path d="M68 526 C69.67 525.5 74.33 523.58 78 523 C81.67 522.42 86 522.67 90 522.5 C94 522.33 98 522 102 522 C106 522 110 522.17 114 522.5 C118 522.83 124 523.75 126 524" fill="none" stroke="#300000" stroke-width="8" stroke-linecap="round" stroke-linejoin="round" filter="url(#blur1)"/>
<path d="M58 475 C57 476.33 53.33 480.33 52 483 C50.67 485.67 50 488 50 491 C50 494 51 497.67 52 501 C53 504.33 54.33 508 56 511 C57.67 514 60 516.67 62 519 C64 521.33 67 524 68 525" fill="none" stroke="#300000" stroke-width="7.5" stroke-linecap="round" stroke-linejoin="round" filter="url(#blur1)"/>
<path d="M24 518 C25.67 518.83 30.67 521.17 34 523 C37.33 524.83 41 527 44 529 C47 531 49.33 533.17 52 535 C54.67 536.83 58.67 539.17 60 540" fill="none" stroke="#300000" stroke-width="6.5" stroke-linecap="round" stroke-linejoin="round" filter="url(#blur1)"/>
<g filter="url(#mottle)">
<path d="M22 512 C23.33 512.17 27.33 512 30 513 C32.67 514 35.33 516 38 518 C40.67 520 43.33 522.83 46 525 C48.67 527.17 51.67 529.17 54 531 C56.33 532.83 58.33 535 60 536 C61.67 537 62.67 537.67 64 537 C65.33 536.33 67 533.83 68 532 C69 530.17 69.67 527 70 526" fill="none" stroke="url(#pR)" stroke-width="6" stroke-linecap="round" stroke-linejoin="round"/>
<path d="M68 526 C69.67 525.5 74.33 523.58 78 523 C81.67 522.42 86 522.67 90 522.5 C94 522.33 98 522 102 522 C106 522 110 522.17 114 522.5 C118 522.83 124 523.75 126 524" fill="none" stroke="url(#pR)" stroke-width="5" stroke-linecap="round" stroke-linejoin="round"/>
<path d="M58 475 C57 476.33 53.33 480.33 52 483 C50.67 485.67 50 488 50 491 C50 494 51 497.67 52 501 C53 504.33 54.33 508 56 511 C57.67 514 60 516.67 62 519 C64 521.33 67 524 68 525" fill="none" stroke="url(#pR)" stroke-width="4.5" stroke-linecap="round" stroke-linejoin="round"/>
<path d="M24 518 C25.67 518.83 30.67 521.17 34 523 C37.33 524.83 41 527 44 529 C47 531 49.33 533.17 52 535 C54.67 536.83 58.67 539.17 60 540" fill="none" stroke="url(#pR)" stroke-width="3.5" stroke-linecap="round" stroke-linejoin="round"/>
</g>
</g>
<g clip-path="url(#cI10)" filter="url(#blur035)">
<use href="#cr2" x="22.83" y="510.25"/>
<use href="#cr2" x="22.7" y="509.68"/>
<use href="#cr2" x="23.8" y="513.3"/>
<use href="#cr2" x="25.14" y="511.14"/>
<use href="#cr1" x="27.99" y="511.42"/>
<use href="#cr3" x="26.28" y="514.3"/>
<use href="#cr2" x="32.17" y="510.8"/>
<use href="#cr2" x="29.33" y="514.57"/>
<use href="#cr2" x="32.25" y="515.22"/>
<use href="#cr3" x="31.91" y="516.83"/>
<use href="#cr3" x="33.35" y="518.69"/>
<use href="#cr3" x="33.58" y="517.9"/>
<use href="#cr3" x="36.13" y="520.88"/>
<use href="#cr3" x="36.97" y="519.18"/>
<use href="#cr2" x="38.13" y="522.59"/>
<use href="#cr2" x="38.9" y="519.74"/>
<use href="#cr3" x="41.82" y="521.19"/>
<use href="#cr3" x="41.29" y="522.08"/>
<use href="#cr2" x="44.41" y="523.32"/>
<use href="#cr2" x="44.88" y="522.62"/>
<use href="#cr2" x="46.04" y="526.13"/>
<use href="#cr1" x="44.94" y="525.27"/>
<use href="#cr1" x="47.76" y="528.87"/>
<use href="#cr2" x="48.76" y="527.1"/>
<use href="#cr3" x="51.11" y="528.88"/>
<use href="#cr3" x="53.57" y="527.14"/>
<use href="#cr1" x="53.36" y="531.5"/>
<use href="#cr3" x="53.57" y="531.25"/>
<use href="#cr2" x="56.5" y="532.78"/>
<use href="#cr3" x="55.53" y="532.34"/>
<use href="#cr3" x="58.81" y="534.04"/>
<use href="#cr3" x="59.38" y="533.42"/>
<use href="#cr3" x="60.07" y="537.34"/>
<use href="#cr2" x="61.21" y="533.42"/>
<use href="#cr2" x="62.2" y="536.26"/>
<use href="#cr1" x="62.49" y="535.82"/>
<use href="#cr3" x="66.97" y="534.76"/>
<use href="#cr2" x="65.12" y="533.07"/>
<use href="#cr2" x="67.58" y="531.32"/>
<use href="#cr3" x="70.29" y="532.29"/>
<use href="#cr2" x="69.37" y="528.43"/>
<use href="#cr3" x="67.34" y="527.79"/>
<use href="#cr3" x="67.89" y="526.56"/>
<use href="#cr3" x="70.95" y="526.23"/>
<use href="#cr3" x="72.61" y="522.74"/>
<use href="#cr1" x="74.98" y="524.05"/>
<use href="#cr2" x="77.77" y="525.45"/>
<use href="#cr3" x="80.76" y="524.41"/>
<use href="#cr1" x="83.16" y="522.12"/>
<use href="#cr2" x="86.57" y="523.72"/>
<use href="#cr3" x="90.52" y="521.62"/>
<use href="#cr1" x="92.29" y="522.51"/>
<use href="#cr1" x="96.22" y="520.67"/>
<use href="#cr3" x="99.7" y="521.91"/>
<use href="#cr2" x="101.72" y="522.59"/>
<use href="#cr3" x="104.62" y="519.44"/>
<use href="#cr3" x="107.68" y="523.2"/>
<use href="#cr3" x="110.89" y="520.43"/>
<use href="#cr1" x="114.41" y="522.72"/>
<use href="#cr3" x="116.2" y="523.47"/>
<use href="#cr2" x="120.59" y="521.99"/>
<use href="#cr3" x="122.83" y="522.64"/>
<use href="#cr3" x="57.34" y="474.23"/>
<use href="#cr1" x="55.18" y="476.79"/>
<use href="#cr1" x="55.22" y="480.09"/>
<use href="#cr2" x="52.88" y="483.62"/>
<use href="#cr2" x="53.26" y="486.23"/>
<use href="#cr1" x="50.93" y="488.54"/>
<use href="#cr2" x="49.83" y="491.42"/>
<use href="#cr1" x="53.09" y="493.25"/>
<use href="#cr3" x="50.36" y="497.46"/>
<use href="#cr1" x="51.71" y="500.34"/>
<use href="#cr2" x="54.98" y="502.83"/>
<use href="#cr3" x="52.79" y="507.02"/>
<use href="#cr3" x="55.99" y="507.45"/>
<use href="#cr2" x="55.9" y="510.97"/>
<use href="#cr2" x="56.9" y="514.1"/>
<use href="#cr2" x="62.23" y="515.91"/>
<use href="#cr3" x="62.78" y="517.95"/>
<use href="#cr1" x="62.78" y="521.94"/>
<use href="#cr1" x="65.56" y="522.73"/>
<use href="#cr1" x="22.84" y="519.41"/>
<use href="#cr2" x="26.49" y="520.43"/>
<use href="#cr3" x="27.54" y="521.46"/>
<use href="#cr3" x="30.57" y="522.72"/>
<use href="#cr1" x="34.29" y="522.68"/>
<use href="#cr3" x="36.95" y="522.38"/>
<use href="#cr1" x="38.7" y="526.34"/>
<use href="#cr1" x="42.34" y="526.86"/>
<use href="#cr3" x="45.28" y="527.61"/>
<use href="#cr1" x="45.2" y="532.7"/>
<use href="#cr3" x="48.37" y="533.27"/>
<use href="#cr1" x="51.54" y="535.4"/>
<use href="#cr2" x="55.99" y="534.85"/>
<use href="#cr3" x="56.94" y="539.56"/>
</g>
<g clip-path="url(#cI11)" filter="url(#glow)" opacity="1">
<path d="M126 515 C126.67 514.67 128.33 512.67 130 513 C131.67 513.33 133.83 515.17 136 517 C138.17 518.83 140.67 521.83 143 524 C145.33 526.17 147.83 528 150 530 C152.17 532 154.33 534.58 156 536 C157.67 537.42 158.67 538.67 160 538.5 C161.33 538.33 162.83 536.42 164 535 C165.17 533.58 166 531.83 167 530 C168 528.17 169.5 525 170 524" fill="none" stroke="#1aa01a" stroke-width="1" stroke-linecap="round" stroke-linejoin="round"/>
<path d="M170 524 C171.67 523.75 176.67 522.92 180 522.5 C183.33 522.08 186.67 521.75 190 521.5 C193.33 521.25 196.67 521 200 521 C203.33 521 207 521 210 521.5 C213 522 215.5 523.42 218 524 C220.5 524.58 223.83 524.83 225 525" fill="none" stroke="#1aa01a" stroke-width="1" stroke-linecap="round" stroke-linejoin="round"/>
<path d="M160 475 C159.33 476.67 156.92 482 156 485 C155.08 488 154.33 490 154.5 493 C154.67 496 155.75 499.67 157 503 C158.25 506.33 160.17 510 162 513 C163.83 516 166.67 519.17 168 521 C169.33 522.83 169.67 523.5 170 524" fill="none" stroke="#1aa01a" stroke-width="1" stroke-linecap="round" stroke-linejoin="round"/>
</g>
<g clip-path="url(#cI11)" filter="url(#glow)">
<path d="M126 515 C126.67 514.67 128.33 512.67 130 513 C131.67 513.33 133.83 515.17 136 517 C138.17 518.83 140.67 521.83 143 524 C145.33 526.17 147.83 528 150 530 C152.17 532 154.33 534.58 156 536 C157.67 537.42 158.67 538.67 160 538.5 C161.33 538.33 162.83 536.42 164 535 C165.17 533.58 166 531.83 167 530 C168 528.17 169.5 525 170 524" fill="none" stroke="#30ff30" stroke-width="1.3" stroke-dasharray="5 2 3 4 6 2" stroke-linecap="round"/>
<path d="M170 524 C171.67 523.75 176.67 522.92 180 522.5 C183.33 522.08 186.67 521.75 190 521.5 C193.33 521.25 196.67 521 200 521 C203.33 521 207 521 210 521.5 C213 522 215.5 523.42 218 524 C220.5 524.58 223.83 524.83 225 525" fill="none" stroke="#30ff30" stroke-width="1.3" stroke-dasharray="5 2 3 4 6 2" stroke-linecap="round"/>
<path d="M160 475 C159.33 476.67 156.92 482 156 485 C155.08 488 154.33 490 154.5 493 C154.67 496 155.75 499.67 157 503 C158.25 506.33 160.17 510 162 513 C163.83 516 166.67 519.17 168 521 C169.33 522.83 169.67 523.5 170 524" fill="none" stroke="#30ff30" stroke-width="1.3" stroke-dasharray="5 2 3 4 6 2" stroke-linecap="round"/>
</g>
<g clip-path="url(#cI12)">
<path d="M226 512 C227.33 512.17 231.33 512 234 513 C236.67 514 239.33 516 242 518 C244.67 520 247.33 522.83 250 525 C252.67 527.17 255.67 529.17 258 531 C260.33 532.83 262.33 535 264 536 C265.67 537 266.67 537.67 268 537 C269.33 536.33 271 533.83 272 532 C273 530.17 273.67 527 274 526" fill="none" stroke="#200018" stroke-width="9" stroke-linecap="round" stroke-linejoin="round" filter="url(#blur1)"/>
<path d="M272 526 C273.67 525.5 278.33 523.58 282 523 C285.67 522.42 290 522.67 294 522.5 C298 522.33 302 522 306 522 C310 522 314 522.17 318 522.5 C322 522.83 328 523.75 330 524" fill="none" stroke="#200018" stroke-width="8" stroke-linecap="round" stroke-linejoin="round" filter="url(#blur1)"/>
<path d="M262 475 C261 476.33 257.33 480.33 256 483 C254.67 485.67 254 488 254 491 C254 494 255 497.67 256 501 C257 504.33 258.33 508 260 511 C261.67 514 264 516.67 266 519 C268 521.33 271 524 272 525" fill="none" stroke="#200018" stroke-width="7.5" stroke-linecap="round" stroke-linejoin="round" filter="url(#blur1)"/>
<path d="M228 518 C229.67 518.83 234.67 521.17 238 523 C241.33 524.83 245 527 248 529 C251 531 253.33 533.17 256 535 C258.67 536.83 262.67 539.17 264 540" fill="none" stroke="#200018" stroke-width="6.5" stroke-linecap="round" stroke-linejoin="round" filter="url(#blur1)"/>
<g filter="url(#mottle)">
<path d="M226 512 C227.33 512.17 231.33 512 234 513 C236.67 514 239.33 516 242 518 C244.67 520 247.33 522.83 250 525 C252.67 527.17 255.67 529.17 258 531 C260.33 532.83 262.33 535 264 536 C265.67 537 266.67 537.67 268 537 C269.33 536.33 271 533.83 272 532 C273 530.17 273.67 527 274 526" fill="none" stroke="url(#pM)" stroke-width="6" stroke-linecap="round" stroke-linejoin="round"/>
<path d="M272 526 C273.67 525.5 278.33 523.58 282 523 C285.67 522.42 290 522.67 294 522.5 C298 522.33 302 522 306 522 C310 522 314 522.17 318 522.5 C322 522.83 328 523.75 330 524" fill="none" stroke="url(#pM)" stroke-width="5" stroke-linecap="round" stroke-linejoin="round"/>
<path d="M262 475 C261 476.33 257.33 480.33 256 483 C254.67 485.67 254 488 254 491 C254 494 255 497.67 256 501 C257 504.33 258.33 508 260 511 C261.67 514 264 516.67 266 519 C268 521.33 271 524 272 525" fill="none" stroke="url(#pM)" stroke-width="4.5" stroke-linecap="round" stroke-linejoin="round"/>
<path d="M228 518 C229.67 518.83 234.67 521.17 238 523 C241.33 524.83 245 527 248 529 C251 531 253.33 533.17 256 535 C258.67 536.83 262.67 539.17 264 540" fill="none" stroke="url(#pM)" stroke-width="3.5" stroke-linecap="round" stroke-linejoin="round"/>
</g>
</g>
<g clip-path="url(#cI12)" filter="url(#blur035)">
<use href="#cm2" x="226.83" y="510.25"/>
<use href="#cm2" x="226.7" y="509.68"/>
<use href="#cm2" x="227.8" y="513.3"/>
<use href="#cm2" x="229.14" y="511.14"/>
<use href="#cm1" x="231.99" y="511.42"/>
<use href="#cm3" x="230.28" y="514.3"/>
<use href="#cm2" x="236.17" y="510.8"/>
<use href="#cm2" x="233.33" y="514.57"/>
<use href="#cm2" x="236.25" y="515.22"/>
<use href="#cm3" x="235.91" y="516.83"/>
<use href="#cm3" x="237.35" y="518.69"/>
<use href="#cm3" x="237.58" y="517.9"/>
<use href="#cm3" x="240.13" y="520.88"/>
<use href="#cm3" x="240.97" y="519.18"/>
<use href="#cm2" x="242.13" y="522.59"/>
<use href="#cm2" x="242.9" y="519.74"/>
<use href="#cm3" x="245.82" y="521.19"/>
<use href="#cm3" x="245.29" y="522.08"/>
<use href="#cm2" x="248.41" y="523.32"/>
<use href="#cm2" x="248.88" y="522.62"/>
<use href="#cm2" x="250.04" y="526.13"/>
<use href="#cm1" x="248.94" y="525.27"/>
<use href="#cm1" x="251.76" y="528.87"/>
<use href="#cm2" x="252.76" y="527.1"/>
<use href="#cm3" x="255.11" y="528.88"/>
<use href="#cm3" x="257.57" y="527.14"/>
<use href="#cm1" x="257.36" y="531.5"/>
<use href="#cm3" x="257.57" y="531.25"/>
<use href="#cm2" x="260.5" y="532.78"/>
<use href="#cm3" x="259.53" y="532.34"/>
<use href="#cm3" x="262.81" y="534.04"/>
<use href="#cm3" x="263.38" y="533.42"/>
<use href="#cm3" x="264.07" y="537.34"/>
<use href="#cm2" x="265.21" y="533.42"/>
<use href="#cm2" x="266.2" y="536.26"/>
<use href="#cm1" x="266.49" y="535.82"/>
<use href="#cm3" x="270.97" y="534.76"/>
<use href="#cm2" x="269.12" y="533.07"/>
<use href="#cm2" x="271.58" y="531.32"/>
<use href="#cm3" x="274.29" y="532.29"/>
<use href="#cm2" x="273.37" y="528.43"/>
<use href="#cm3" x="271.34" y="527.79"/>
<use href="#cm3" x="271.89" y="526.56"/>
<use href="#cm3" x="274.95" y="526.23"/>
<use href="#cm3" x="276.61" y="522.74"/>
<use href="#cm1" x="278.98" y="524.05"/>
<use href="#cm2" x="281.77" y="525.45"/>
<use href="#cm3" x="284.76" y="524.41"/>
<use href="#cm1" x="287.16" y="522.12"/>
<use href="#cm2" x="290.57" y="523.72"/>
<use href="#cm3" x="294.52" y="521.62"/>
<use href="#cm1" x="296.29" y="522.51"/>
<use href="#cm1" x="300.22" y="520.67"/>
<use href="#cm3" x="303.7" y="521.91"/>
<use href="#cm2" x="305.72" y="522.59"/>
<use href="#cm3" x="308.62" y="519.44"/>
<use href="#cm3" x="311.68" y="523.2"/>
<use href="#cm3" x="314.89" y="520.43"/>
<use href="#cm1" x="318.41" y="522.72"/>
<use href="#cm3" x="320.2" y="523.47"/>
<use href="#cm2" x="324.59" y="521.99"/>
<use href="#cm3" x="326.83" y="522.64"/>
<use href="#cm3" x="261.34" y="474.23"/>
<use href="#cm1" x="259.18" y="476.79"/>
<use href="#cm1" x="259.22" y="480.09"/>
<use href="#cm2" x="256.88" y="483.62"/>
<use href="#cm2" x="257.26" y="486.23"/>
<use href="#cm1" x="254.93" y="488.54"/>
<use href="#cm2" x="253.83" y="491.42"/>
<use href="#cm1" x="257.09" y="493.25"/>
<use href="#cm3" x="254.36" y="497.46"/>
<use href="#cm1" x="255.71" y="500.34"/>
<use href="#cm2" x="258.98" y="502.83"/>
<use href="#cm3" x="256.79" y="507.02"/>
<use href="#cm3" x="259.99" y="507.45"/>
<use href="#cm2" x="259.9" y="510.97"/>
<use href="#cm2" x="260.9" y="514.1"/>
<use href="#cm2" x="266.23" y="515.91"/>
<use href="#cm3" x="266.78" y="517.95"/>
<use href="#cm1" x="266.78" y="521.94"/>
<use href="#cm1" x="269.56" y="522.73"/>
<use href="#cm1" x="226.84" y="519.41"/>
<use href="#cm2" x="230.49" y="520.43"/>
<use href="#cm3" x="231.54" y="521.46"/>
<use href="#cm3" x="234.57" y="522.72"/>
<use href="#cm1" x="238.29" y="522.68"/>
<use href="#cm3" x="240.95" y="522.38"/>
<use href="#cm1" x="242.7" y="526.34"/>
<use href="#cm1" x="246.34" y="526.86"/>
<use href="#cm3" x="249.28" y="527.61"/>
<use href="#cm1" x="249.2" y="532.7"/>
<use href="#cm3" x="252.37" y="533.27"/>
<use href="#cm1" x="255.54" y="535.4"/>
<use href="#cm2" x="259.99" y="534.85"/>
<use href="#cm3" x="260.94" y="539.56"/>
</g>
<g clip-path="url(#cI12)" filter="url(#glow)" opacity="1">
<path d="M228 515 C228.67 514.67 230.33 512.67 232 513 C233.67 513.33 235.83 515.17 238 517 C240.17 518.83 242.67 521.83 245 524 C247.33 526.17 249.83 528 252 530 C254.17 532 256.33 534.58 258 536 C259.67 537.42 260.67 538.67 262 538.5 C263.33 538.33 264.83 536.42 266 535 C267.17 533.58 268 531.83 269 530 C270 528.17 271.5 525 272 524" fill="none" stroke="#40e060" stroke-width="1" stroke-linecap="round" stroke-linejoin="round"/>
<path d="M272 524 C273.67 523.75 278.67 522.92 282 522.5 C285.33 522.08 288.67 521.75 292 521.5 C295.33 521.25 298.67 521 302 521 C305.33 521 309 521 312 521.5 C315 522 317.5 523.42 320 524 C322.5 524.58 325.83 524.83 327 525" fill="none" stroke="#40e060" stroke-width="1" stroke-linecap="round" stroke-linejoin="round"/>
<path d="M262 475 C261.33 476.67 258.92 482 258 485 C257.08 488 256.33 490 256.5 493 C256.67 496 257.75 499.67 259 503 C260.25 506.33 262.17 510 264 513 C265.83 516 268.67 519.17 270 521 C271.33 522.83 271.67 523.5 272 524" fill="none" stroke="#40e060" stroke-width="1" stroke-linecap="round" stroke-linejoin="round"/>
</g>
<text x="28.4" y="488.6" font-size="11" fill="#ff1010" font-weight="bold">A<tspan font-size="7.1">2A</tspan>R</text>
<text x="129.3" y="488.7" font-size="10.6" fill="#18e818" text-anchor="start" font-weight="bold">CD31</text>
<text x="230.1" y="488.8" font-size="11" fill="#f8f800" text-anchor="start" font-weight="bold">Merge</text>
<rect x="89" y="571" width="32.5" height="2.6" fill="#fff"/>
<text x="105.3" y="568.6" font-size="7.1" fill="#fff" text-anchor="middle" font-weight="normal">100 μm</text>
<text x="359.5" y="387.7" font-size="18" fill="#000" text-anchor="start" font-weight="bold">J</text>
<rect x="382" y="374" width="100" height="100" fill="#000"/>
<rect x="484" y="374" width="99.5" height="100" fill="#000"/>
<rect x="585" y="374" width="100" height="100" fill="#000"/>
<rect x="382" y="477" width="100" height="100" fill="#000"/>
<rect x="484" y="477" width="99.5" height="100" fill="#000"/>
<rect x="585" y="477" width="100" height="100" fill="#000"/>
<g clip-path="url(#cJ00)">
<path d="M430 372 C432.4 370.4 449.2 370.4 452 372 C454.8 373.6 451 380.53 451 384 C451 387.47 451.6 394.8 452 398 C452.4 401.2 453.33 405.6 454 408 C454.67 410.4 456.33 414.13 457 416 C457.67 417.87 458.6 420.27 459 422 C459.4 423.73 460.13 427.13 460 429 C459.87 430.87 459.07 434.8 458 436 C456.93 437.2 453.87 438 452 438 C450.13 438 445.6 435.73 444 436 C442.4 436.27 441.33 438.4 440 440 C438.67 441.6 435.6 445.87 434 448 C432.4 450.13 429.6 454.13 428 456 C426.4 457.87 423.87 460.93 422 462 C420.13 463.07 415.73 464.27 414 464 C412.27 463.73 409.53 461.6 409 460 C408.47 458.4 409.47 454.4 410 452 C410.53 449.6 412.47 444.67 413 442 C413.53 439.33 413.73 434.4 414 432 C414.27 429.6 414.33 425.73 415 424 C415.67 422.27 417.4 419.8 419 419 C420.6 418.2 425 418.4 427 418 C429 417.6 432.8 417.6 434 416 C435.2 414.4 435.73 408.93 436 406 C436.27 403.07 436.27 396.93 436 394 C435.73 391.07 434.8 386.93 434 384 C433.2 381.07 427.6 373.6 430 372Z" fill="#300000" stroke="#300000" stroke-width="3" filter="url(#blur1)"/>
<g filter="url(#mottle)">
<path d="M430 372 C432.4 370.4 449.2 370.4 452 372 C454.8 373.6 451 380.53 451 384 C451 387.47 451.6 394.8 452 398 C452.4 401.2 453.33 405.6 454 408 C454.67 410.4 456.33 414.13 457 416 C457.67 417.87 458.6 420.27 459 422 C459.4 423.73 460.13 427.13 460 429 C459.87 430.87 459.07 434.8 458 436 C456.93 437.2 453.87 438 452 438 C450.13 438 445.6 435.73 444 436 C442.4 436.27 441.33 438.4 440 440 C438.67 441.6 435.6 445.87 434 448 C432.4 450.13 429.6 454.13 428 456 C426.4 457.87 423.87 460.93 422 462 C420.13 463.07 415.73 464.27 414 464 C412.27 463.73 409.53 461.6 409 460 C408.47 458.4 409.47 454.4 410 452 C410.53 449.6 412.47 444.67 413 442 C413.53 439.33 413.73 434.4 414 432 C414.27 429.6 414.33 425.73 415 424 C415.67 422.27 417.4 419.8 419 419 C420.6 418.2 425 418.4 427 418 C429 417.6 432.8 417.6 434 416 C435.2 414.4 435.73 408.93 436 406 C436.27 403.07 436.27 396.93 436 394 C435.73 391.07 434.8 386.93 434 384 C433.2 381.07 427.6 373.6 430 372Z" fill="url(#pR2)" opacity="0.8"/>
</g>
</g>
<g clip-path="url(#cJ00)" filter="url(#blur035)">
<use href="#cr2" x="421.14" y="422.07"/>
<use href="#cr3" x="455.71" y="415.61"/>
<use href="#cr1" x="451.71" y="395.86"/>
<use href="#cr3" x="418.78" y="437.98"/>
<use href="#cr3" x="451.66" y="415.82"/>
<use href="#cr2" x="416.73" y="457.18"/>
<use href="#cr1" x="446.8" y="433.77"/>
<use href="#cr1" x="417.13" y="460.09"/>
<use href="#cr3" x="453.14" y="415.49"/>
<use href="#cr3" x="449.19" y="411.28"/>
<use href="#cr1" x="449.85" y="412.91"/>
<use href="#cr3" x="440.96" y="399.69"/>
<use href="#cr3" x="451.51" y="424.81"/>
<use href="#cr2" x="438.84" y="425.75"/>
<use href="#cr2" x="443.23" y="387.01"/>
<use href="#cr1" x="438.02" y="437.67"/>
<use href="#cr2" x="433.58" y="430.77"/>
<use href="#cr2" x="413.51" y="445.65"/>
<use href="#cr1" x="415.06" y="427.66"/>
<use href="#cr3" x="428.27" y="425.95"/>
<use href="#cr1" x="439.59" y="374.89"/>
<use href="#cr2" x="422.43" y="435.46"/>
<use href="#cr3" x="432.48" y="419.85"/>
<use href="#cr1" x="453.21" y="434.65"/>
<use href="#cr2" x="445.74" y="393.86"/>
<use href="#cr3" x="439.05" y="384.26"/>
<use href="#cr3" x="440.99" y="414.9"/>
<use href="#cr2" x="455.78" y="428.02"/>
<use href="#cr1" x="446.64" y="374.04"/>
<use href="#cr2" x="427.83" y="429.77"/>
<use href="#cr2" x="439.23" y="401.44"/>
<use href="#cr3" x="418.45" y="441.75"/>
<use href="#cr1" x="422.47" y="444.43"/>
<use href="#cr3" x="448.39" y="374.48"/>
<use href="#cr3" x="443.87" y="384.09"/>
<use href="#cr1" x="420.35" y="445.95"/>
<use href="#cr3" x="425.72" y="434.38"/>
<use href="#cr2" x="444.6" y="381.37"/>
<use href="#cr1" x="457.41" y="434.09"/>
<use href="#cr1" x="431.36" y="450.71"/>
<use href="#cr2" x="420.12" y="424.29"/>
<use href="#cr3" x="436.01" y="389.55"/>
<use href="#cr3" x="450.17" y="431.06"/>
<use href="#cr2" x="423.89" y="445.04"/>
<use href="#cr2" x="432.7" y="430.34"/>
<use href="#cr3" x="409.24" y="458.78"/>
<use href="#cr3" x="420.33" y="440.59"/>
<use href="#cr1" x="449.95" y="419.13"/>
<use href="#cr3" x="438.42" y="373.21"/>
<use href="#cr3" x="436.39" y="376.9"/>
<use href="#cr1" x="458.57" y="421.77"/>
<use href="#cr1" x="417.74" y="444.83"/>
<use href="#cr3" x="451" y="372.69"/>
<use href="#cr2" x="438.12" y="408.83"/>
<use href="#cr3" x="421.66" y="428.86"/>
<use href="#cr1" x="448.6" y="372.17"/>
<use href="#cr1" x="448.54" y="376.25"/>
<use href="#cr3" x="412.49" y="461.67"/>
<use href="#cr3" x="426.92" y="431.52"/>
<use href="#cr2" x="437.9" y="375.95"/>
<use href="#cr3" x="428.39" y="445.71"/>
<use href="#cr2" x="458.41" y="423.43"/>
<use href="#cr3" x="415.19" y="435.53"/>
<use href="#cr3" x="449.42" y="433.42"/>
<use href="#cr3" x="425.24" y="420.94"/>
<use href="#cr1" x="445.55" y="415.57"/>
<use href="#cr1" x="448.49" y="376.08"/>
<use href="#cr2" x="437.78" y="432.65"/>
<use href="#cr3" x="452.04" y="433.97"/>
<use href="#cr1" x="457.57" y="425.28"/>
<use href="#cr1" x="435.08" y="437.79"/>
<use href="#cr3" x="437.28" y="381.19"/>
<use href="#cr2" x="421.75" y="428.67"/>
<use href="#cr2" x="421.9" y="427.15"/>
<use href="#cr3" x="437.99" y="425.34"/>
<use href="#cr2" x="443.96" y="386.37"/>
<use href="#cr3" x="413.89" y="440.83"/>
<use href="#cr3" x="435.38" y="412.76"/>
<use href="#cr3" x="447.35" y="385.48"/>
<use href="#cr2" x="424.09" y="436.89"/>
<use href="#cr2" x="439.36" y="425.78"/>
<use href="#cr1" x="422.67" y="445.98"/>
<use href="#cr1" x="425.42" y="443.23"/>
<use href="#cr3" x="430.34" y="436.17"/>
<use href="#cr3" x="439.55" y="415.06"/>
<use href="#cr3" x="437.41" y="416.28"/>
<use href="#cr3" x="412.69" y="459.18"/>
<use href="#cr2" x="421.96" y="453.9"/>
<use href="#cr3" x="416.01" y="429.22"/>
<use href="#cr2" x="422.01" y="451.59"/>
<use href="#cr2" x="449.74" y="382.85"/>
<use href="#cr2" x="451.53" y="398.84"/>
<use href="#cr2" x="432.07" y="439.54"/>
<use href="#cr2" x="419.71" y="425.83"/>
<use href="#cr1" x="428.94" y="422.08"/>
<use href="#cr3" x="435.91" y="436.46"/>
<use href="#cr3" x="424.07" y="434.18"/>
<use href="#cr2" x="414.47" y="458.89"/>
<use href="#cr1" x="443.31" y="421.33"/>
<use href="#cr1" x="443.01" y="418.8"/>
<use href="#cr3" x="445.62" y="434.43"/>
<use href="#cr3" x="446.86" y="431.42"/>
<use href="#cr3" x="441.18" y="388.48"/>
<use href="#cr2" x="441.89" y="431.76"/>
<use href="#cr2" x="437.3" y="431.57"/>
<use href="#cr3" x="433.6" y="443.96"/>
<use href="#cr3" x="447.48" y="421.97"/>
<use href="#cr3" x="422.83" y="435.98"/>
<use href="#cr1" x="429.57" y="421.82"/>
<use href="#cr1" x="427" y="449.91"/>
<use href="#cr3" x="416.73" y="426.29"/>
<use href="#cr3" x="414.75" y="443.67"/>
<use href="#cr3" x="414.72" y="436.23"/>
<use href="#cr3" x="430.25" y="440.39"/>
<use href="#cr2" x="415.55" y="427.93"/>
<use href="#cr1" x="449.71" y="422.11"/>
<use href="#cr2" x="437.99" y="390.59"/>
<use href="#cr2" x="451.96" y="412.92"/>
<use href="#cr3" x="437.18" y="425.64"/>
<use href="#cr3" x="434.39" y="420.68"/>
<use href="#cr2" x="424.27" y="451.12"/>
<use href="#cr3" x="441.34" y="381.89"/>
<use href="#cr3" x="440.88" y="390.3"/>
<use href="#cr3" x="419.81" y="446.77"/>
<use href="#cr1" x="423.45" y="432.49"/>
<use href="#cr3" x="415.91" y="444.9"/>
<use href="#cr2" x="440.54" y="418.55"/>
<use href="#cr3" x="425.48" y="452.09"/>
<use href="#cr3" x="444.36" y="379.41"/>
<use href="#cr1" x="448.54" y="375.12"/>
<use href="#cr1" x="446.73" y="403.61"/>
<use href="#cr2" x="431.29" y="441.63"/>
<use href="#cr2" x="425.11" y="444.39"/>
<use href="#cr2" x="444.66" y="421.44"/>
<use href="#cr2" x="444.26" y="412.33"/>
<use href="#cr1" x="436" y="426.88"/>
<use href="#cr1" x="452.63" y="421.11"/>
<use href="#cr2" x="444.88" y="376.7"/>
<use href="#cr3" x="414.92" y="455.97"/>
<use href="#cr2" x="423.03" y="444.48"/>
<use href="#cr1" x="433.92" y="423.62"/>
<use href="#cr2" x="450.55" y="429.88"/>
<use href="#cr3" x="440.5" y="381.64"/>
<use href="#cr2" x="419.24" y="461.59"/>
<use href="#cr2" x="426.93" y="432.59"/>
<use href="#cr2" x="424.54" y="427.84"/>
<use href="#cr3" x="417.91" y="440.06"/>
<use href="#cr2" x="449.89" y="412.34"/>
<use href="#cr2" x="448.75" y="416.22"/>
<use href="#cr3" x="450.87" y="418.65"/>
<use href="#cr2" x="455.67" y="436.12"/>
<use href="#cr3" x="413.69" y="435.65"/>
<use href="#cr3" x="452.03" y="431.1"/>
<use href="#cr3" x="453.49" y="413.39"/>
<use href="#cr1" x="431.97" y="447.62"/>
<use href="#cr3" x="416.79" y="431.3"/>
<use href="#cr3" x="452.39" y="419.43"/>
<use href="#cr3" x="448.84" y="427.6"/>
<use href="#cr3" x="448.89" y="415.01"/>
<use href="#cr1" x="413.04" y="447.95"/>
<use href="#cr2" x="414.17" y="458.77"/>
<use href="#cr3" x="420.36" y="448.31"/>
<use href="#cr2" x="443.09" y="436.35"/>
<use href="#cr1" x="439.76" y="412.99"/>
<use href="#cr2" x="423.89" y="458.95"/>
<use href="#cr3" x="450.55" y="390.95"/>
<use href="#cr1" x="441.78" y="403.42"/>
<use href="#cr3" x="433.71" y="378.58"/>
<use href="#cr3" x="444" y="405.55"/>
<use href="#cr1" x="421.74" y="449.09"/>
<use href="#cr3" x="417.43" y="457.65"/>
<use href="#cr3" x="420.16" y="452.55"/>
<use href="#cr1" x="436.32" y="410.52"/>
<use href="#cr2" x="433.69" y="443.16"/>
<use href="#cr1" x="432.94" y="426.06"/>
<use href="#cr1" x="423.89" y="457.95"/>
<use href="#cr2" x="434.08" y="375.46"/>
<use href="#cr2" x="447.9" y="436.44"/>
<use href="#cr2" x="435.82" y="421.87"/>
<use href="#cr3" x="427.32" y="448.44"/>
<use href="#cr1" x="421.37" y="446.21"/>
<use href="#cr2" x="427.5" y="422.84"/>
<use href="#cr2" x="421.61" y="445.8"/>
<use href="#cr1" x="445.87" y="403.24"/>
<use href="#cr3" x="430.91" y="429.73"/>
<use href="#cr3" x="417.45" y="442.05"/>
<use href="#cr1" x="437.14" y="397.72"/>
<use href="#cr2" x="412.08" y="447.1"/>
<use href="#cr3" x="432.84" y="433.22"/>
<use href="#cr1" x="441.24" y="399.02"/>
<use href="#cr2" x="436.9" y="409.55"/>
<use href="#cr1" x="436.02" y="425.1"/>
<use href="#cr1" x="435.62" y="409.89"/>
<use href="#cr3" x="440.24" y="374.81"/>
<use href="#cr1" x="439.48" y="382.68"/>
<use href="#cr2" x="423.27" y="437.26"/>
<use href="#cr2" x="414.23" y="433.52"/>
<use href="#cr2" x="426.64" y="432.16"/>
<use href="#cr1" x="435.84" y="440.36"/>
<use href="#cr1" x="422.66" y="422.24"/>
<use href="#cr2" x="444.98" y="435.48"/>
<use href="#cr1" x="443.4" y="431.52"/>
<use href="#cr3" x="440.96" y="400.61"/>
<use href="#cr3" x="411.49" y="460.39"/>
<use href="#cr2" x="419.93" y="443.65"/>
<use href="#cr1" x="426.97" y="456.18"/>
<use href="#cr3" x="433.4" y="377.91"/>
<use href="#cr1" x="444.87" y="400.82"/>
<use href="#cr2" x="446.71" y="420.84"/>
<use href="#cr3" x="438.01" y="414.69"/>
<use href="#cr3" x="447.59" y="399.19"/>
<use href="#cr2" x="443.96" y="420.32"/>
<use href="#cr3" x="439.62" y="401.73"/>
<use href="#cr3" x="437.75" y="430.58"/>
<use href="#cr3" x="427.28" y="427.3"/>
<use href="#cr2" x="451.6" y="398.39"/>
<use href="#cr2" x="434.54" y="439.36"/>
<use href="#cr2" x="446.17" y="394.87"/>
<use href="#cr1" x="433.37" y="420.89"/>
<use href="#cr1" x="431.52" y="428.84"/>
<use href="#cr3" x="430.29" y="422.59"/>
<use href="#cr2" x="448.65" y="377.46"/>
</g>
<g clip-path="url(#cJ00)" filter="url(#blur05)" opacity="0.8">
<path d="M442 418 C443.33 418.33 447.67 418.83 450 420 C452.33 421.17 454.5 423.17 456 425 C457.5 426.83 459 429.17 459 431 C459 432.83 457.83 435.17 456 436 C454.17 436.83 450.33 436.67 448 436 C445.67 435.33 443 432.67 442 432" fill="none" stroke="#e01818" stroke-width="2.2" stroke-dasharray="4 1.5 3 2"/>
</g>
<g clip-path="url(#cJ01)" filter="url(#glow)" opacity="0.85">
<path d="M532 371.26 C532.33 371.46 533.33 372.25 534 372.42 C534.67 372.59 535.33 372.37 536 372.3 C536.67 372.22 537.33 372.11 538 371.95 C538.67 371.8 539.33 371.26 540 371.38 C540.67 371.49 541.33 372.43 542 372.64 C542.67 372.86 543.33 372.78 544 372.68 C544.67 372.57 545.33 372.14 546 372.03 C546.67 371.92 547.33 372.11 548 372.01 C548.67 371.91 549.33 371.6 550 371.42 C550.67 371.24 551.29 370.81 552 370.91 C552.71 371.01 554.01 371.51 554.28 372.02 C554.56 372.54 553.59 373.31 553.65 373.98 C553.7 374.66 554.74 375.42 554.61 376.08 C554.48 376.74 552.97 377.28 552.86 377.95 C552.74 378.61 553.77 379.37 553.92 380.05 C554.07 380.73 553.74 381.4 553.75 382.05 C553.77 382.7 554.29 383.26 554 383.93 C553.72 384.6 552.26 385.39 552.05 386.08 C551.84 386.76 552.67 387.37 552.76 388.04 C552.85 388.7 552.51 389.4 552.61 390.06 C552.7 390.72 552.96 391.37 553.32 392.02 C553.67 392.66 554.58 393.27 554.74 393.93 C554.89 394.59 554.35 395.29 554.23 395.97 C554.11 396.65 553.84 397.36 554.01 398 C554.17 398.64 555.26 399.13 555.23 399.83 C555.2 400.53 553.78 401.51 553.82 402.2 C553.87 402.88 555.06 403.33 555.48 403.94 C555.9 404.55 556.37 405.13 556.34 405.85 C556.32 406.57 555.15 407.6 555.35 408.25 C555.54 408.89 557.31 409.03 557.52 409.71 C557.73 410.39 556.48 411.62 556.62 412.33 C556.76 413.04 557.97 413.35 558.35 413.96 C558.73 414.58 558.62 415.38 558.89 416.04 C559.17 416.69 559.75 417.23 559.99 417.89 C560.24 418.55 560.08 419.32 560.37 419.99 C560.65 420.66 561.35 421.2 561.68 421.9 C562.01 422.6 562.48 423.38 562.34 424.19 C562.21 425 560.83 425.95 560.87 426.78 C560.91 427.61 562.58 428.43 562.56 429.16 C562.54 429.89 560.95 430.38 560.74 431.16 C560.53 431.94 561.46 433.2 561.28 433.84 C561.11 434.49 560.27 434.69 559.67 435.02 C559.08 435.36 558.37 435.55 557.73 435.84 C557.08 436.14 556.42 436.54 555.82 436.8 C555.23 437.07 554.77 437.35 554.14 437.44 C553.51 437.53 552.71 437.48 552.04 437.33 C551.37 437.17 550.83 436.51 550.12 436.51 C549.42 436.51 548.48 437.38 547.8 437.31 C547.12 437.23 546.75 436.01 546.04 436.04 C545.32 436.07 544.08 436.76 543.49 437.49 C542.91 438.22 543.1 439.8 542.53 440.39 C541.95 440.99 540.66 440.66 540.06 441.04 C539.45 441.42 539.17 442.04 538.92 442.69 C538.67 443.33 538.81 444.27 538.56 444.92 C538.31 445.57 537.85 446.05 537.44 446.58 C537.02 447.1 536.49 447.54 536.09 448.06 C535.68 448.59 535.56 449.34 535 449.75 C534.44 450.16 533.13 450.01 532.73 450.55 C532.33 451.08 532.72 452.2 532.6 452.95 C532.48 453.7 532.47 454.52 532.03 455.02 C531.6 455.53 530.34 455.84 530 456" fill="none" stroke="#20d020" stroke-width="0.8" stroke-linecap="round" stroke-linejoin="round"/>
<path d="M530.63 456.63 C530.22 456.72 528.89 456.89 528.16 457.16 C527.43 457.43 526.68 457.68 526.23 458.23 C525.79 458.79 525.88 459.88 525.51 460.51 C525.13 461.14 524.59 461.7 524 462.02 C523.42 462.33 522.66 462.32 521.97 462.39 C521.28 462.47 520.51 462.19 519.87 462.47 C519.23 462.75 518.77 463.87 518.15 464.09 C517.53 464.32 516.77 464.07 516.15 463.81 C515.53 463.56 514.96 463.02 514.41 462.57 C513.86 462.12 513.52 461.57 512.84 461.12 C512.15 460.68 510.69 460.45 510.3 459.91 C509.92 459.38 510.39 458.57 510.53 457.91 C510.67 457.25 510.81 456.59 511.17 455.96 C511.53 455.33 512.6 454.79 512.68 454.12 C512.77 453.44 511.66 452.58 511.68 451.9 C511.7 451.23 512.62 450.73 512.8 450.06 C512.99 449.39 512.77 448.6 512.79 447.88 C512.82 447.16 512.85 446.44 512.96 445.75 C513.08 445.06 513.03 444.34 513.48 443.73 C513.94 443.11 515.3 442.68 515.69 442.07 C516.07 441.46 515.9 440.74 515.81 440.06 C515.71 439.38 515.09 438.64 515.13 437.97 C515.16 437.3 515.82 436.7 516 436.04 C516.18 435.38 516.04 434.69 516.19 434.04 C516.33 433.38 516.69 432.76 516.87 432.11 C517.05 431.46 517.35 430.81 517.25 430.13 C517.15 429.44 516.2 428.64 516.3 427.97 C516.39 427.31 517.57 426.69 517.82 426.13 C518.07 425.58 517.68 425.25 517.79 424.63 C517.9 424.02 518.07 423.03 518.49 422.46 C518.91 421.88 519.91 421.77 520.32 421.19 C520.74 420.61 520.56 419.43 521 418.98 C521.44 418.53 522.31 418.65 522.97 418.48 C523.62 418.31 524.24 417.85 524.93 417.95 C525.62 418.05 526.46 419.18 527.1 419.07 C527.75 418.96 528.13 417.73 528.8 417.29 C529.46 416.84 530.23 416.42 531.07 416.42 C531.92 416.43 532.93 417.36 533.85 417.31 C534.77 417.26 536.17 416.67 536.59 416.12 C537.01 415.56 536.21 414.65 536.36 413.99 C536.52 413.33 537.55 412.84 537.53 412.15 C537.51 411.45 536.31 410.52 536.23 409.81 C536.16 409.1 536.86 408.53 537.08 407.9 C537.3 407.26 537.41 406.65 537.54 406 C537.66 405.35 537.87 404.67 537.82 404 C537.78 403.33 537.4 402.67 537.28 402 C537.15 401.33 536.99 400.67 537.05 400 C537.11 399.33 537.34 398.67 537.64 398 C537.95 397.33 538.64 396.7 538.88 396 C539.11 395.3 539.17 394.48 539.04 393.79 C538.92 393.11 538.45 392.52 538.13 391.89 C537.82 391.26 537.47 390.64 537.15 390.01 C536.84 389.38 536.23 388.81 536.27 388.11 C536.3 387.41 537.43 386.49 537.39 385.8 C537.35 385.11 536.32 384.64 536.05 383.98 C535.79 383.32 536.21 382.45 535.81 381.84 C535.42 381.23 534.08 380.93 533.68 380.33 C533.28 379.72 533.34 378.96 533.4 378.2 C533.46 377.44 534.06 376.5 534.04 375.76 C534.02 375.03 533.62 374.42 533.28 373.79 C532.94 373.17 532.21 372.3 532 372" fill="none" stroke="#20d020" stroke-width="0.8" stroke-linecap="round" stroke-linejoin="round"/>
<path d="M545.16 374.07 C545.29 374.39 545.72 375.37 545.94 376.02 C546.17 376.67 546.43 377.32 546.5 377.99 C546.56 378.65 546.42 379.34 546.32 380.01 C546.22 380.69 545.75 381.41 545.9 382.06 C546.06 382.72 547.08 383.31 547.25 383.96 C547.42 384.62 546.86 385.34 546.92 386.01 C546.99 386.67 547.69 387.29 547.66 387.96 C547.63 388.63 546.59 389.39 546.75 390.05 C546.9 390.71 548.49 391.25 548.57 391.91 C548.66 392.57 547.55 393.34 547.26 394.03 C546.97 394.73 546.54 395.46 546.84 396.08 C547.13 396.71 548.8 397.13 549.03 397.79 C549.25 398.45 548.29 399.33 548.2 400.04 C548.11 400.75 548.45 401.38 548.49 402.06 C548.53 402.75 548.29 403.49 548.44 404.15 C548.6 404.81 549.08 405.43 549.42 406.04 C549.76 406.64 550.18 407.12 550.48 407.76 C550.77 408.41 551.08 409.13 551.19 409.91 C551.29 410.69 550.93 411.7 551.1 412.45 C551.27 413.2 551.6 413.87 552.2 414.4 C552.81 414.93 554.12 415.11 554.72 415.64 C555.32 416.17 555.45 416.94 555.8 417.6 C556.14 418.26 556.44 418.95 556.8 419.6 C557.16 420.26 557.73 420.8 557.93 421.53 C558.13 422.27 557.99 423.59 558 424" fill="none" stroke="#20d020" stroke-width="0.8" stroke-linecap="round" stroke-linejoin="round"/>
<path d="M521.96 423.89 C522.26 423.67 523.03 422.66 523.75 422.58 C524.47 422.51 525.56 423.48 526.26 423.43 C526.95 423.39 527.26 422.62 527.92 422.33 C528.57 422.04 529.52 421.58 530.2 421.7 C530.88 421.83 531.33 422.85 531.98 423.08 C532.63 423.32 533.42 422.97 534.09 423.12 C534.77 423.28 535.37 423.67 536.01 423.99 C536.65 424.31 537.35 424.65 537.94 425.06 C538.52 425.48 539.01 425.99 539.52 426.48 C540.03 426.97 540.55 427.45 540.99 428.01 C541.44 428.56 541.74 429.09 542.19 429.81 C542.64 430.53 543.04 431.63 543.67 432.33 C544.31 433.02 545.61 433.72 546 434" fill="none" stroke="#20d020" stroke-width="0.8" stroke-linecap="round" stroke-linejoin="round"/>
<path d="M518.06 436.09 C518.29 435.72 518.75 434.23 519.45 433.84 C520.15 433.44 521.54 433.9 522.26 433.72 C522.97 433.54 523.15 432.86 523.74 432.78 C524.33 432.7 525.13 433.05 525.81 433.24 C526.49 433.43 526.92 433.77 527.8 433.94 C528.67 434.11 530.75 433.92 531.05 434.26 C531.35 434.61 529.76 435.36 529.58 436.02 C529.39 436.68 530.21 437.59 529.93 438.23 C529.66 438.87 528.16 439.16 527.94 439.86 C527.71 440.56 528.82 441.85 528.57 442.43 C528.32 443.01 526.85 442.8 526.43 443.32 C526.01 443.84 526.43 444.99 526.03 445.53 C525.64 446.06 524.47 446.02 524.05 446.54 C523.64 447.06 523.72 447.99 523.53 448.65 C523.34 449.3 523.29 449.87 522.9 450.45 C522.52 451.03 521.64 451.49 521.22 452.11 C520.8 452.73 520.88 453.6 520.38 454.19 C519.87 454.77 518.61 454.97 518.21 455.61 C517.82 456.24 518.04 457.6 518 458" fill="none" stroke="#20d020" stroke-width="0.8" stroke-linecap="round" stroke-linejoin="round"/>
<path d="M544.11 417.56 C544.42 417.72 545.35 418.25 546 418.51 C546.64 418.76 547.35 418.78 547.97 419.11 C548.6 419.43 548.99 420.41 549.76 420.46 C550.54 420.5 552.03 419.18 552.62 419.38 C553.22 419.58 552.95 421.05 553.34 421.66 C553.74 422.26 554.52 422.48 554.99 423.01 C555.45 423.55 555.79 424.29 556.14 424.86 C556.48 425.44 556.54 425.97 557.08 426.46 C557.62 426.95 558.95 427.19 559.37 427.81 C559.79 428.44 559.34 429.5 559.61 430.2 C559.87 430.89 560.99 431.35 560.95 431.97 C560.92 432.59 559.89 433.09 559.39 433.92 C558.9 434.75 558.57 436.73 558 436.96 C557.43 437.19 556.67 435.64 556 435.31 C555.33 434.97 554.67 434.78 554 434.95 C553.33 435.12 552.67 436.14 552 436.32 C551.33 436.49 550.33 436.05 550 436" fill="none" stroke="#20d020" stroke-width="0.8" stroke-linecap="round" stroke-linejoin="round"/>
</g>
<g clip-path="url(#cJ01)" filter="url(#glow)">
<path d="M546 416 C547 416.5 550 417.67 552 419 C554 420.33 556.5 422.17 558 424 C559.5 425.83 560.67 428.17 561 430 C561.33 431.83 561.17 433.83 560 435 C558.83 436.17 556.33 437 554 437 C551.67 437 547.33 435.33 546 435" fill="none" stroke="#50ff50" stroke-width="1.3"/>
</g>
<g clip-path="url(#cJ02)">
<path d="M633 372 C635.4 370.4 652.2 370.4 655 372 C657.8 373.6 654 380.53 654 384 C654 387.47 654.6 394.8 655 398 C655.4 401.2 656.33 405.6 657 408 C657.67 410.4 659.33 414.13 660 416 C660.67 417.87 661.6 420.27 662 422 C662.4 423.73 663.13 427.13 663 429 C662.87 430.87 662.07 434.8 661 436 C659.93 437.2 656.87 438 655 438 C653.13 438 648.6 435.73 647 436 C645.4 436.27 644.33 438.4 643 440 C641.67 441.6 638.6 445.87 637 448 C635.4 450.13 632.6 454.13 631 456 C629.4 457.87 626.87 460.93 625 462 C623.13 463.07 618.73 464.27 617 464 C615.27 463.73 612.53 461.6 612 460 C611.47 458.4 612.47 454.4 613 452 C613.53 449.6 615.47 444.67 616 442 C616.53 439.33 616.73 434.4 617 432 C617.27 429.6 617.33 425.73 618 424 C618.67 422.27 620.4 419.8 622 419 C623.6 418.2 628 418.4 630 418 C632 417.6 635.8 417.6 637 416 C638.2 414.4 638.73 408.93 639 406 C639.27 403.07 639.27 396.93 639 394 C638.73 391.07 637.8 386.93 637 384 C636.2 381.07 630.6 373.6 633 372Z" fill="#200018" stroke="#200018" stroke-width="3" filter="url(#blur1)"/>
<g filter="url(#mottle)">
<path d="M633 372 C635.4 370.4 652.2 370.4 655 372 C657.8 373.6 654 380.53 654 384 C654 387.47 654.6 394.8 655 398 C655.4 401.2 656.33 405.6 657 408 C657.67 410.4 659.33 414.13 660 416 C660.67 417.87 661.6 420.27 662 422 C662.4 423.73 663.13 427.13 663 429 C662.87 430.87 662.07 434.8 661 436 C659.93 437.2 656.87 438 655 438 C653.13 438 648.6 435.73 647 436 C645.4 436.27 644.33 438.4 643 440 C641.67 441.6 638.6 445.87 637 448 C635.4 450.13 632.6 454.13 631 456 C629.4 457.87 626.87 460.93 625 462 C623.13 463.07 618.73 464.27 617 464 C615.27 463.73 612.53 461.6 612 460 C611.47 458.4 612.47 454.4 613 452 C613.53 449.6 615.47 444.67 616 442 C616.53 439.33 616.73 434.4 617 432 C617.27 429.6 617.33 425.73 618 424 C618.67 422.27 620.4 419.8 622 419 C623.6 418.2 628 418.4 630 418 C632 417.6 635.8 417.6 637 416 C638.2 414.4 638.73 408.93 639 406 C639.27 403.07 639.27 396.93 639 394 C638.73 391.07 637.8 386.93 637 384 C636.2 381.07 630.6 373.6 633 372Z" fill="url(#pM)"/>
</g>
</g>
<g clip-path="url(#cJ02)" filter="url(#blur035)">
<use href="#cm3" x="651.02" y="392.42"/>
<use href="#cm1" x="630.37" y="443.74"/>
<use href="#cm1" x="625.35" y="458.75"/>
<use href="#cm2" x="652.82" y="389.8"/>
<use href="#cm2" x="626.77" y="451.79"/>
<use href="#cm1" x="646.26" y="418.55"/>
<use href="#cm3" x="647.95" y="400.68"/>
<use href="#cm2" x="652.67" y="379.46"/>
<use href="#cm3" x="643.94" y="397.8"/>
<use href="#cm1" x="645.05" y="436.48"/>
<use href="#cm2" x="644.27" y="397.42"/>
<use href="#cm3" x="634.23" y="426.17"/>
<use href="#cm3" x="623.67" y="442.39"/>
<use href="#cm2" x="616.21" y="460.73"/>
<use href="#cm2" x="651.97" y="405.37"/>
<use href="#cm1" x="641.14" y="412.42"/>
<use href="#cm1" x="620.6" y="434.27"/>
<use href="#cm3" x="642.93" y="422.25"/>
<use href="#cm1" x="651.46" y="409.66"/>
<use href="#cm2" x="637.43" y="374.91"/>
<use href="#cm1" x="624.92" y="420.36"/>
<use href="#cm2" x="628.58" y="453.97"/>
<use href="#cm1" x="649.98" y="417.47"/>
<use href="#cm2" x="622.98" y="445.73"/>
<use href="#cm1" x="626.28" y="429.76"/>
<use href="#cm1" x="614.27" y="454.71"/>
<use href="#cm1" x="651.11" y="396.79"/>
<use href="#cm2" x="656.37" y="435.28"/>
<use href="#cm2" x="641.03" y="440.68"/>
<use href="#cm1" x="656.77" y="422.66"/>
<use href="#cm3" x="620.26" y="427.96"/>
<use href="#cm3" x="651.45" y="415.38"/>
<use href="#cm3" x="647.47" y="382.39"/>
<use href="#cm1" x="656.1" y="427.95"/>
<use href="#cm2" x="615.81" y="460.31"/>
<use href="#cm2" x="631.44" y="444.44"/>
<use href="#cm2" x="631.82" y="441.8"/>
<use href="#cm3" x="638.14" y="411.92"/>
<use href="#cm1" x="651.61" y="378.16"/>
<use href="#cm1" x="640.47" y="406.19"/>
<use href="#cm2" x="648.24" y="372.51"/>
<use href="#cm3" x="652.1" y="427.29"/>
<use href="#cm1" x="655.23" y="404.82"/>
<use href="#cm3" x="662.28" y="429.66"/>
<use href="#cm3" x="614.7" y="455.5"/>
<use href="#cm3" x="658.55" y="414.97"/>
<use href="#cm2" x="627.59" y="451.81"/>
<use href="#cm1" x="643.26" y="412.67"/>
<use href="#cm3" x="624.84" y="426.93"/>
<use href="#cm3" x="642.89" y="434.14"/>
<use href="#cm2" x="621.06" y="454.98"/>
<use href="#cm3" x="622.07" y="445.04"/>
<use href="#cm2" x="643.66" y="380.6"/>
<use href="#cm3" x="620.91" y="453.26"/>
<use href="#cm1" x="613.03" y="459.34"/>
<use href="#cm3" x="641.79" y="417.56"/>
<use href="#cm3" x="652.12" y="432.74"/>
<use href="#cm2" x="632.71" y="427.11"/>
<use href="#cm1" x="647.88" y="400.49"/>
<use href="#cm3" x="650.03" y="421.42"/>
<use href="#cm2" x="653.69" y="398.11"/>
<use href="#cm3" x="641.99" y="395.12"/>
<use href="#cm2" x="635.39" y="423.62"/>
<use href="#cm2" x="644.16" y="403.96"/>
<use href="#cm2" x="636.66" y="430.87"/>
<use href="#cm1" x="627.26" y="459.21"/>
<use href="#cm3" x="632.29" y="425.53"/>
<use href="#cm1" x="625.38" y="420.24"/>
<use href="#cm2" x="650.32" y="390.9"/>
<use href="#cm3" x="656.81" y="431.19"/>
<use href="#cm3" x="657.4" y="436.58"/>
<use href="#cm1" x="618.63" y="437.24"/>
<use href="#cm3" x="640.56" y="435.83"/>
<use href="#cm2" x="627.2" y="418.7"/>
<use href="#cm2" x="620.57" y="452.48"/>
<use href="#cm2" x="638.26" y="421.44"/>
<use href="#cm1" x="613.43" y="452.65"/>
<use href="#cm1" x="627.5" y="444.63"/>
<use href="#cm1" x="619.99" y="450.07"/>
<use href="#cm2" x="623.83" y="422.92"/>
<use href="#cm2" x="658.46" y="420.97"/>
<use href="#cm3" x="631.35" y="449.97"/>
<use href="#cm3" x="641.95" y="381.86"/>
<use href="#cm3" x="633.08" y="439.9"/>
<use href="#cm3" x="622.81" y="425.27"/>
<use href="#cm1" x="636.35" y="448.71"/>
<use href="#cm3" x="657.05" y="432.57"/>
<use href="#cm1" x="654.19" y="437.41"/>
<use href="#cm3" x="647.53" y="382.74"/>
<use href="#cm1" x="647.58" y="391.61"/>
<use href="#cm2" x="653.61" y="399.43"/>
<use href="#cm1" x="644.24" y="409.04"/>
<use href="#cm1" x="627.24" y="435.55"/>
<use href="#cm1" x="647.93" y="412.24"/>
<use href="#cm3" x="628.9" y="455.59"/>
<use href="#cm2" x="650.26" y="391.34"/>
<use href="#cm2" x="638.07" y="374.77"/>
<use href="#cm3" x="643.05" y="434.16"/>
<use href="#cm1" x="618.75" y="441.76"/>
<use href="#cm2" x="643.63" y="436.49"/>
<use href="#cm2" x="637.46" y="382.49"/>
<use href="#cm2" x="638.47" y="380.77"/>
<use href="#cm3" x="627.13" y="424.19"/>
<use href="#cm3" x="619.69" y="440.66"/>
<use href="#cm1" x="648.63" y="374.5"/>
<use href="#cm3" x="646.51" y="396.19"/>
<use href="#cm2" x="662.13" y="427.83"/>
<use href="#cm1" x="650.53" y="376.56"/>
<use href="#cm1" x="660.52" y="434.94"/>
<use href="#cm3" x="646.33" y="396.09"/>
<use href="#cm1" x="646.19" y="417.44"/>
<use href="#cm3" x="652.69" y="408.09"/>
<use href="#cm2" x="639.85" y="421.74"/>
<use href="#cm1" x="613.85" y="456.51"/>
<use href="#cm1" x="624.15" y="424.79"/>
<use href="#cm2" x="659.89" y="434.33"/>
<use href="#cm1" x="630.55" y="437.14"/>
<use href="#cm1" x="659.86" y="417.75"/>
<use href="#cm2" x="652.91" y="387.06"/>
<use href="#cm1" x="643.48" y="404.26"/>
<use href="#cm1" x="649.34" y="410.49"/>
<use href="#cm1" x="628.86" y="426.98"/>
<use href="#cm3" x="657.63" y="416.31"/>
<use href="#cm3" x="638.88" y="388.66"/>
<use href="#cm1" x="641.85" y="429.19"/>
<use href="#cm2" x="644.35" y="387.65"/>
<use href="#cm2" x="645.63" y="424.67"/>
<use href="#cm2" x="639.42" y="422.06"/>
<use href="#cm1" x="640.11" y="384.87"/>
<use href="#cm1" x="639.47" y="403.85"/>
<use href="#cm3" x="648.17" y="376.33"/>
<use href="#cm2" x="643.87" y="399.16"/>
<use href="#cm1" x="626.41" y="435.57"/>
<use href="#cm3" x="633.27" y="372.24"/>
<use href="#cm1" x="652.23" y="374.99"/>
<use href="#cm3" x="653.74" y="390.58"/>
<use href="#cm2" x="626.86" y="419.63"/>
<use href="#cm1" x="622.2" y="435.7"/>
<use href="#cm2" x="647.18" y="377.93"/>
<use href="#cm1" x="638.2" y="433.18"/>
<use href="#cm3" x="641.95" y="382.87"/>
<use href="#cm1" x="643.78" y="427.36"/>
<use href="#cm3" x="620.01" y="442.63"/>
<use href="#cm3" x="641.94" y="424.78"/>
<use href="#cm2" x="630.79" y="433.05"/>
<use href="#cm1" x="657.76" y="430.64"/>
<use href="#cm1" x="640.35" y="392.5"/>
<use href="#cm2" x="631.02" y="431.31"/>
<use href="#cm1" x="649.34" y="398.74"/>
<use href="#cm1" x="646.87" y="376.07"/>
<use href="#cm1" x="629.82" y="434.76"/>
<use href="#cm3" x="629.95" y="424.78"/>
<use href="#cm1" x="649.27" y="408.1"/>
<use href="#cm1" x="634.89" y="420.3"/>
<use href="#cm2" x="629.82" y="454.94"/>
<use href="#cm2" x="628.2" y="433.6"/>
<use href="#cm2" x="652.71" y="403.35"/>
<use href="#cm3" x="648.25" y="412.03"/>
<use href="#cm3" x="639.26" y="419.84"/>
<use href="#cm3" x="653.5" y="434.93"/>
<use href="#cm2" x="635.95" y="440.25"/>
<use href="#cm3" x="619.79" y="421.8"/>
<use href="#cm1" x="636.69" y="427.18"/>
<use href="#cm3" x="649.82" y="404"/>
<use href="#cm3" x="652.66" y="412.01"/>
<use href="#cm3" x="643.7" y="389.2"/>
<use href="#cm3" x="635.43" y="435.14"/>
<use href="#cm2" x="619.9" y="447.17"/>
<use href="#cm1" x="641.29" y="397.2"/>
<use href="#cm1" x="646.07" y="375.28"/>
<use href="#cm1" x="648.8" y="430.72"/>
<use href="#cm3" x="636.13" y="421.26"/>
<use href="#cm1" x="643.32" y="388.01"/>
<use href="#cm1" x="655.54" y="419.23"/>
<use href="#cm3" x="641.27" y="425.11"/>
<use href="#cm3" x="645.67" y="436.33"/>
<use href="#cm3" x="655.97" y="403.06"/>
<use href="#cm3" x="658.2" y="413.03"/>
<use href="#cm3" x="633.83" y="447.33"/>
<use href="#cm2" x="656.08" y="420.46"/>
<use href="#cm1" x="630.69" y="424.03"/>
<use href="#cm3" x="641.11" y="396.59"/>
<use href="#cm1" x="626.61" y="457.26"/>
<use href="#cm1" x="620.03" y="443.64"/>
<use href="#cm3" x="647.29" y="407.92"/>
<use href="#cm1" x="653.16" y="423.73"/>
<use href="#cm2" x="639.58" y="378.56"/>
<use href="#cm1" x="646.39" y="431.53"/>
</g>
<g clip-path="url(#cJ02)" filter="url(#glow)" opacity="0.6">
<path d="M633 371.26 C633.33 371.46 634.33 372.25 635 372.42 C635.67 372.59 636.33 372.37 637 372.3 C637.67 372.22 638.33 372.11 639 371.95 C639.67 371.8 640.33 371.26 641 371.38 C641.67 371.49 642.33 372.43 643 372.64 C643.67 372.86 644.33 372.78 645 372.68 C645.67 372.57 646.33 372.14 647 372.03 C647.67 371.92 648.33 372.11 649 372.01 C649.67 371.91 650.33 371.6 651 371.42 C651.67 371.24 652.29 370.81 653 370.91 C653.71 371.01 655.01 371.51 655.28 372.02 C655.56 372.54 654.59 373.31 654.65 373.98 C654.7 374.66 655.74 375.42 655.61 376.08 C655.48 376.74 653.97 377.28 653.86 377.95 C653.74 378.61 654.77 379.37 654.92 380.05 C655.07 380.73 654.74 381.4 654.75 382.05 C654.77 382.7 655.29 383.26 655 383.93 C654.72 384.6 653.26 385.39 653.05 386.08 C652.84 386.76 653.67 387.37 653.76 388.04 C653.85 388.7 653.51 389.4 653.61 390.06 C653.7 390.72 653.96 391.37 654.32 392.02 C654.67 392.66 655.58 393.27 655.74 393.93 C655.89 394.59 655.35 395.29 655.23 395.97 C655.11 396.65 654.84 397.36 655.01 398 C655.17 398.64 656.26 399.13 656.23 399.83 C656.2 400.53 654.78 401.51 654.82 402.2 C654.87 402.88 656.06 403.33 656.48 403.94 C656.9 404.55 657.37 405.13 657.34 405.85 C657.32 406.57 656.15 407.6 656.35 408.25 C656.54 408.89 658.31 409.03 658.52 409.71 C658.73 410.39 657.48 411.62 657.62 412.33 C657.76 413.04 658.97 413.35 659.35 413.96 C659.73 414.58 659.62 415.38 659.89 416.04 C660.17 416.69 660.75 417.23 660.99 417.89 C661.24 418.55 661.08 419.32 661.37 419.99 C661.65 420.66 662.35 421.2 662.68 421.9 C663.01 422.6 663.48 423.38 663.34 424.19 C663.21 425 661.83 425.95 661.87 426.78 C661.91 427.61 663.58 428.43 663.56 429.16 C663.54 429.89 661.95 430.38 661.74 431.16 C661.53 431.94 662.46 433.2 662.28 433.84 C662.11 434.49 661.27 434.69 660.67 435.02 C660.08 435.36 659.37 435.55 658.73 435.84 C658.08 436.14 657.42 436.54 656.82 436.8 C656.23 437.07 655.77 437.35 655.14 437.44 C654.51 437.53 653.71 437.48 653.04 437.33 C652.37 437.17 651.83 436.51 651.12 436.51 C650.42 436.51 649.48 437.38 648.8 437.31 C648.12 437.23 647.75 436.01 647.04 436.04 C646.32 436.07 645.08 436.76 644.49 437.49 C643.91 438.22 644.1 439.8 643.53 440.39 C642.95 440.99 641.66 440.66 641.06 441.04 C640.45 441.42 640.17 442.04 639.92 442.69 C639.67 443.33 639.81 444.27 639.56 444.92 C639.31 445.57 638.85 446.05 638.44 446.58 C638.02 447.1 637.49 447.54 637.09 448.06 C636.68 448.59 636.56 449.34 636 449.75 C635.44 450.16 634.13 450.01 633.73 450.55 C633.33 451.08 633.72 452.2 633.6 452.95 C633.48 453.7 633.47 454.52 633.03 455.02 C632.6 455.53 631.34 455.84 631 456" fill="none" stroke="#30d030" stroke-width="0.7" stroke-linecap="round" stroke-linejoin="round"/>
<path d="M631.63 456.63 C631.22 456.72 629.89 456.89 629.16 457.16 C628.43 457.43 627.68 457.68 627.23 458.23 C626.79 458.79 626.88 459.88 626.51 460.51 C626.13 461.14 625.59 461.7 625 462.02 C624.42 462.33 623.66 462.32 622.97 462.39 C622.28 462.47 621.51 462.19 620.87 462.47 C620.23 462.75 619.77 463.87 619.15 464.09 C618.53 464.32 617.77 464.07 617.15 463.81 C616.53 463.56 615.96 463.02 615.41 462.57 C614.86 462.12 614.52 461.57 613.84 461.12 C613.15 460.68 611.69 460.45 611.3 459.91 C610.92 459.38 611.39 458.57 611.53 457.91 C611.67 457.25 611.81 456.59 612.17 455.96 C612.53 455.33 613.6 454.79 613.68 454.12 C613.77 453.44 612.66 452.58 612.68 451.9 C612.7 451.23 613.62 450.73 613.8 450.06 C613.99 449.39 613.77 448.6 613.79 447.88 C613.82 447.16 613.85 446.44 613.96 445.75 C614.08 445.06 614.03 444.34 614.48 443.73 C614.94 443.11 616.3 442.68 616.69 442.07 C617.07 441.46 616.9 440.74 616.81 440.06 C616.71 439.38 616.09 438.64 616.13 437.97 C616.16 437.3 616.82 436.7 617 436.04 C617.18 435.38 617.04 434.69 617.19 434.04 C617.33 433.38 617.69 432.76 617.87 432.11 C618.05 431.46 618.35 430.81 618.25 430.13 C618.15 429.44 617.2 428.64 617.3 427.97 C617.39 427.31 618.57 426.69 618.82 426.13 C619.07 425.58 618.68 425.25 618.79 424.63 C618.9 424.02 619.07 423.03 619.49 422.46 C619.91 421.88 620.91 421.77 621.32 421.19 C621.74 420.61 621.56 419.43 622 418.98 C622.44 418.53 623.31 418.65 623.97 418.48 C624.62 418.31 625.24 417.85 625.93 417.95 C626.62 418.05 627.46 419.18 628.1 419.07 C628.75 418.96 629.13 417.73 629.8 417.29 C630.46 416.84 631.23 416.42 632.07 416.42 C632.92 416.43 633.93 417.36 634.85 417.31 C635.77 417.26 637.17 416.67 637.59 416.12 C638.01 415.56 637.21 414.65 637.36 413.99 C637.52 413.33 638.55 412.84 638.53 412.15 C638.51 411.45 637.31 410.52 637.23 409.81 C637.16 409.1 637.86 408.53 638.08 407.9 C638.3 407.26 638.41 406.65 638.54 406 C638.66 405.35 638.87 404.67 638.82 404 C638.78 403.33 638.4 402.67 638.28 402 C638.15 401.33 637.99 400.67 638.05 400 C638.11 399.33 638.34 398.67 638.64 398 C638.95 397.33 639.64 396.7 639.88 396 C640.11 395.3 640.17 394.48 640.04 393.79 C639.92 393.11 639.45 392.52 639.13 391.89 C638.82 391.26 638.47 390.64 638.15 390.01 C637.84 389.38 637.23 388.81 637.27 388.11 C637.3 387.41 638.43 386.49 638.39 385.8 C638.35 385.11 637.32 384.64 637.05 383.98 C636.79 383.32 637.21 382.45 636.81 381.84 C636.42 381.23 635.08 380.93 634.68 380.33 C634.28 379.72 634.34 378.96 634.4 378.2 C634.46 377.44 635.06 376.5 635.04 375.76 C635.02 375.03 634.62 374.42 634.28 373.79 C633.94 373.17 633.21 372.3 633 372" fill="none" stroke="#30d030" stroke-width="0.7" stroke-linecap="round" stroke-linejoin="round"/>
</g>
<text x="386" y="385.5" font-size="11" fill="#ff1010" font-weight="bold">A<tspan font-size="7.1">2A</tspan>R</text>
<text x="486.1" y="385.6" font-size="10.5" fill="#18e818" text-anchor="start" font-weight="bold">ICAM1</text>
<text x="587.2" y="385.7" font-size="11" fill="#f8f800" text-anchor="start" font-weight="bold">Merge</text>
<rect x="446.3" y="468.15" width="32.6" height="2.7" fill="#fff"/>
<text x="463.3" y="465.8" font-size="7.1" fill="#fff" text-anchor="middle" font-weight="normal">100 μm</text>
<g clip-path="url(#cJ10)">
<path d="M383 524 C384.17 523 387.67 519.92 390 518 C392.33 516.08 394.67 514.5 397 512.5 C399.33 510.5 401.5 507.83 404 506 C406.5 504.17 409.33 502.58 412 501.5 C414.67 500.42 417.33 499.75 420 499.5 C422.67 499.25 425.33 499.58 428 500 C430.67 500.42 433.33 501.25 436 502 C438.67 502.75 441.33 503.83 444 504.5 C446.67 505.17 449.33 505.25 452 506 C454.67 506.75 457.5 508 460 509 C462.5 510 465 510.67 467 512 C469 513.33 471.17 515.5 472 517 C472.83 518.5 472.67 520.33 472 521 C471.33 521.67 468.67 521 468 521" fill="none" stroke="#300000" stroke-width="11.5" stroke-linecap="round" stroke-linejoin="round" filter="url(#blur1)"/>
<path d="M383 524 C384.33 524.58 388.17 526.17 391 527.5 C393.83 528.83 397.17 530.58 400 532 C402.83 533.42 405.33 534.5 408 536 C410.67 537.5 413.33 539.33 416 541 C418.67 542.67 421.33 544.33 424 546 C426.67 547.67 429.33 549.25 432 551 C434.67 552.75 437.33 554.83 440 556.5 C442.67 558.17 445.33 559.5 448 561 C450.67 562.5 453.33 564.17 456 565.5 C458.67 566.83 461.33 567.83 464 569 C466.67 570.17 469.33 571.42 472 572.5 C474.67 573.58 477.33 574.58 480 575.5 C482.67 576.42 486.67 577.58 488 578" fill="none" stroke="#300000" stroke-width="13" stroke-linecap="round" stroke-linejoin="round" filter="url(#blur1)"/>
<g filter="url(#mottle)">
<path d="M383 524 C384.17 523 387.67 519.92 390 518 C392.33 516.08 394.67 514.5 397 512.5 C399.33 510.5 401.5 507.83 404 506 C406.5 504.17 409.33 502.58 412 501.5 C414.67 500.42 417.33 499.75 420 499.5 C422.67 499.25 425.33 499.58 428 500 C430.67 500.42 433.33 501.25 436 502 C438.67 502.75 441.33 503.83 444 504.5 C446.67 505.17 449.33 505.25 452 506 C454.67 506.75 457.5 508 460 509 C462.5 510 465 510.67 467 512 C469 513.33 471.17 515.5 472 517 C472.83 518.5 472.67 520.33 472 521 C471.33 521.67 468.67 521 468 521" fill="none" stroke="url(#pR)" stroke-width="8.5" stroke-linecap="round" stroke-linejoin="round"/>
<path d="M383 524 C384.33 524.58 388.17 526.17 391 527.5 C393.83 528.83 397.17 530.58 400 532 C402.83 533.42 405.33 534.5 408 536 C410.67 537.5 413.33 539.33 416 541 C418.67 542.67 421.33 544.33 424 546 C426.67 547.67 429.33 549.25 432 551 C434.67 552.75 437.33 554.83 440 556.5 C442.67 558.17 445.33 559.5 448 561 C450.67 562.5 453.33 564.17 456 565.5 C458.67 566.83 461.33 567.83 464 569 C466.67 570.17 469.33 571.42 472 572.5 C474.67 573.58 477.33 574.58 480 575.5 C482.67 576.42 486.67 577.58 488 578" fill="none" stroke="url(#pR)" stroke-width="10" stroke-linecap="round" stroke-linejoin="round"/>
</g>
</g>
<g clip-path="url(#cJ10)" filter="url(#blur035)">
<use href="#cr2" x="381.53" y="522.06"/>
<use href="#cr2" x="381.3" y="521.49"/>
<use href="#cr2" x="383.95" y="525.11"/>
<use href="#cr2" x="385.38" y="520.77"/>
<use href="#cr1" x="384.52" y="520.64"/>
<use href="#cr3" x="386.8" y="523.83"/>
<use href="#cr2" x="385.56" y="517.13"/>
<use href="#cr2" x="388.96" y="521.88"/>
<use href="#cr2" x="387.71" y="520.62"/>
<use href="#cr3" x="393.06" y="520.89"/>
<use href="#cr3" x="391.58" y="521.03"/>
<use href="#cr3" x="391.28" y="520.14"/>
<use href="#cr3" x="394.82" y="520.08"/>
<use href="#cr3" x="394.34" y="518.06"/>
<use href="#cr2" x="394.82" y="520.04"/>
<use href="#cr2" x="394.39" y="514.52"/>
<use href="#cr3" x="393.69" y="513.84"/>
<use href="#cr3" x="396.5" y="515.52"/>
<use href="#cr2" x="397.49" y="512.59"/>
<use href="#cr2" x="396.62" y="511.64"/>
<use href="#cr2" x="398.95" y="513.92"/>
<use href="#cr1" x="399.65" y="510.81"/>
<use href="#cr1" x="400.96" y="512.59"/>
<use href="#cr2" x="398.53" y="510.29"/>
<use href="#cr3" x="401.06" y="507.99"/>
<use href="#cr3" x="399.26" y="505.6"/>
<use href="#cr1" x="401.15" y="508.69"/>
<use href="#cr3" x="402.98" y="506.04"/>
<use href="#cr2" x="404.93" y="506.26"/>
<use href="#cr3" x="402.85" y="505.43"/>
<use href="#cr3" x="406.12" y="503.74"/>
<use href="#cr3" x="405.46" y="502.69"/>
<use href="#cr3" x="408.41" y="506.31"/>
<use href="#cr2" x="408.13" y="499.74"/>
<use href="#cr2" x="407.66" y="501.34"/>
<use href="#cr1" x="407.93" y="501.05"/>
<use href="#cr3" x="412.56" y="502.46"/>
<use href="#cr2" x="411.59" y="499.27"/>
<use href="#cr2" x="412.15" y="499.82"/>
<use href="#cr3" x="415.51" y="503.66"/>
<use href="#cr2" x="415.29" y="499.83"/>
<use href="#cr3" x="414.29" y="497.37"/>
<use href="#cr3" x="417.23" y="500.75"/>
<use href="#cr3" x="417.97" y="502.18"/>
<use href="#cr3" x="416.65" y="496.78"/>
<use href="#cr1" x="419.22" y="500.29"/>
<use href="#cr2" x="419.49" y="503.26"/>
<use href="#cr3" x="419.46" y="502.49"/>
<use href="#cr1" x="422.01" y="498.17"/>
<use href="#cr2" x="422.17" y="501.08"/>
<use href="#cr3" x="423.43" y="497.64"/>
<use href="#cr1" x="424.53" y="500.4"/>
<use href="#cr1" x="425.77" y="497.23"/>
<use href="#cr3" x="426.04" y="499.59"/>
<use href="#cr2" x="427.72" y="500.59"/>
<use href="#cr3" x="428.51" y="495.75"/>
<use href="#cr3" x="427.16" y="501.87"/>
<use href="#cr3" x="431.31" y="497.41"/>
<use href="#cr1" x="431.02" y="501"/>
<use href="#cr3" x="429.54" y="502"/>
<use href="#cr2" x="434.34" y="499.13"/>
<use href="#cr3" x="433.35" y="499.91"/>
<use href="#cr3" x="433.1" y="503.62"/>
<use href="#cr1" x="435.24" y="501.68"/>
<use href="#cr1" x="437.09" y="500.46"/>
<use href="#cr2" x="436.59" y="501.16"/>
<use href="#cr2" x="439.82" y="499.5"/>
<use href="#cr1" x="438.68" y="501.79"/>
<use href="#cr2" x="438.42" y="502.95"/>
<use href="#cr1" x="442.84" y="499.06"/>
<use href="#cr3" x="440.97" y="505.81"/>
<use href="#cr1" x="440.92" y="502.49"/>
<use href="#cr2" x="445.09" y="501.55"/>
<use href="#cr3" x="443.59" y="507.57"/>
<use href="#cr3" x="444.35" y="501.8"/>
<use href="#cr2" x="446.2" y="503.93"/>
<use href="#cr2" x="446.02" y="506.72"/>
<use href="#cr2" x="448.01" y="502.1"/>
<use href="#cr3" x="449.49" y="502.44"/>
<use href="#cr1" x="448.71" y="508.34"/>
<use href="#cr1" x="448.96" y="505.44"/>
<use href="#cr1" x="450.39" y="508.95"/>
<use href="#cr2" x="451.78" y="507.91"/>
<use href="#cr3" x="449.87" y="509.21"/>
<use href="#cr3" x="453.18" y="509.87"/>
<use href="#cr1" x="454.83" y="507.23"/>
<use href="#cr3" x="455.69" y="502.5"/>
<use href="#cr1" x="456.6" y="510.16"/>
<use href="#cr1" x="458.43" y="506.32"/>
<use href="#cr3" x="458.97" y="504.55"/>
<use href="#cr1" x="457.97" y="512.95"/>
<use href="#cr3" x="458.64" y="510.88"/>
<use href="#cr1" x="459.04" y="511.02"/>
<use href="#cr2" x="465.36" y="506.95"/>
<use href="#cr3" x="462.62" y="513.28"/>
<use href="#cr1" x="462.75" y="513.47"/>
<use href="#cr3" x="468.27" y="510.07"/>
<use href="#cr2" x="468.96" y="510.77"/>
<use href="#cr3" x="465.23" y="513.92"/>
<use href="#cr2" x="469.61" y="513.96"/>
<use href="#cr3" x="470.05" y="515.11"/>
<use href="#cr3" x="472.7" y="511.74"/>
<use href="#cr2" x="474.8" y="517.53"/>
<use href="#cr2" x="470.93" y="516.34"/>
<use href="#cr3" x="476.23" y="517"/>
<use href="#cr1" x="472.69" y="517.65"/>
<use href="#cr1" x="471.99" y="523.19"/>
<use href="#cr3" x="471.74" y="519.37"/>
<use href="#cr1" x="380.97" y="528.06"/>
<use href="#cr2" x="381.73" y="528.1"/>
<use href="#cr2" x="384.79" y="521.49"/>
<use href="#cr1" x="386.15" y="523.41"/>
<use href="#cr1" x="385.24" y="527.16"/>
<use href="#cr1" x="384.81" y="528.91"/>
<use href="#cr3" x="389.6" y="523.89"/>
<use href="#cr3" x="386.58" y="528.99"/>
<use href="#cr3" x="387.6" y="528.14"/>
<use href="#cr2" x="389.24" y="530.33"/>
<use href="#cr1" x="390.05" y="529.31"/>
<use href="#cr3" x="389.09" y="532.44"/>
<use href="#cr2" x="393.02" y="531.47"/>
<use href="#cr2" x="392.68" y="532.77"/>
<use href="#cr1" x="394.47" y="528.43"/>
<use href="#cr1" x="398.86" y="526.95"/>
<use href="#cr3" x="395.93" y="531.74"/>
<use href="#cr1" x="398.72" y="525.97"/>
<use href="#cr2" x="402.86" y="527.39"/>
<use href="#cr2" x="400.97" y="529.44"/>
<use href="#cr2" x="401.26" y="530.84"/>
<use href="#cr3" x="401.86" y="536.69"/>
<use href="#cr1" x="403.18" y="531.45"/>
<use href="#cr1" x="402.16" y="533.62"/>
<use href="#cr1" x="402.77" y="538.39"/>
<use href="#cr3" x="405.87" y="535.49"/>
<use href="#cr2" x="406.96" y="531.53"/>
<use href="#cr2" x="408.62" y="535.88"/>
<use href="#cr2" x="410.55" y="531.69"/>
<use href="#cr3" x="407.53" y="536.7"/>
<use href="#cr1" x="410.94" y="537.41"/>
<use href="#cr3" x="411.16" y="538.37"/>
<use href="#cr2" x="409.17" y="540.92"/>
<use href="#cr3" x="412.83" y="540.89"/>
<use href="#cr3" x="410.44" y="542.94"/>
<use href="#cr3" x="411.95" y="540.81"/>
<use href="#cr3" x="416.47" y="539.91"/>
<use href="#cr3" x="415.93" y="542.35"/>
<use href="#cr3" x="419.07" y="536.93"/>
<use href="#cr1" x="419.01" y="541.25"/>
<use href="#cr1" x="418.66" y="544.25"/>
<use href="#cr2" x="417.75" y="545.1"/>
<use href="#cr3" x="419.62" y="547.69"/>
<use href="#cr2" x="420.54" y="545.24"/>
<use href="#cr1" x="423.1" y="541.17"/>
<use href="#cr3" x="422.58" y="547.84"/>
<use href="#cr1" x="423.77" y="545.85"/>
<use href="#cr3" x="422.83" y="547.92"/>
<use href="#cr2" x="427.75" y="545.59"/>
<use href="#cr3" x="427.21" y="546.24"/>
<use href="#cr1" x="425.77" y="549.11"/>
<use href="#cr3" x="431.33" y="546.86"/>
<use href="#cr3" x="430.73" y="546.95"/>
<use href="#cr3" x="429.84" y="548.1"/>
<use href="#cr3" x="432.52" y="550.34"/>
<use href="#cr3" x="433.71" y="549.46"/>
<use href="#cr1" x="433.24" y="550.89"/>
<use href="#cr1" x="432.55" y="555.39"/>
<use href="#cr3" x="432.69" y="556.02"/>
<use href="#cr1" x="437.37" y="549.87"/>
<use href="#cr2" x="438.8" y="552.03"/>
<use href="#cr1" x="438.25" y="552.48"/>
<use href="#cr2" x="435.78" y="555.84"/>
<use href="#cr1" x="441.56" y="555.67"/>
<use href="#cr1" x="442.34" y="553.25"/>
<use href="#cr3" x="439.09" y="558.14"/>
<use href="#cr2" x="440.57" y="561.79"/>
<use href="#cr2" x="444.85" y="554.02"/>
<use href="#cr1" x="443.89" y="556.08"/>
<use href="#cr2" x="446.28" y="557.27"/>
<use href="#cr3" x="447.09" y="556.72"/>
<use href="#cr1" x="446.78" y="555.44"/>
<use href="#cr2" x="447.11" y="563.3"/>
<use href="#cr1" x="445.95" y="563.55"/>
<use href="#cr1" x="446.55" y="563.76"/>
<use href="#cr1" x="452.48" y="558.54"/>
<use href="#cr3" x="449.96" y="562.39"/>
<use href="#cr1" x="449.65" y="564.72"/>
<use href="#cr1" x="452.62" y="564.91"/>
<use href="#cr1" x="453.17" y="563.41"/>
<use href="#cr3" x="452.43" y="566.68"/>
<use href="#cr2" x="455.94" y="564.65"/>
<use href="#cr3" x="455.02" y="566.09"/>
<use href="#cr3" x="457.19" y="562.84"/>
<use href="#cr2" x="457.88" y="566.63"/>
<use href="#cr3" x="458.85" y="567.07"/>
<use href="#cr1" x="460.02" y="562.91"/>
<use href="#cr1" x="463.09" y="565"/>
<use href="#cr1" x="460.48" y="570.37"/>
<use href="#cr1" x="459.7" y="571.61"/>
<use href="#cr2" x="461.32" y="573.49"/>
<use href="#cr2" x="463.97" y="570.93"/>
<use href="#cr2" x="465.94" y="563.99"/>
<use href="#cr3" x="467.58" y="566.19"/>
<use href="#cr2" x="468" y="567.59"/>
<use href="#cr2" x="466.01" y="572.66"/>
<use href="#cr2" x="467.97" y="573.99"/>
<use href="#cr2" x="469.12" y="572.05"/>
<use href="#cr3" x="471.16" y="567.63"/>
<use href="#cr3" x="471.77" y="574.88"/>
<use href="#cr3" x="474.42" y="568.89"/>
<use href="#cr1" x="473" y="569.32"/>
<use href="#cr2" x="474.39" y="571.96"/>
<use href="#cr2" x="473.8" y="576.15"/>
<use href="#cr3" x="474.94" y="572.2"/>
<use href="#cr3" x="477.37" y="573.95"/>
<use href="#cr2" x="477.67" y="572.18"/>
<use href="#cr2" x="478.07" y="574.99"/>
<use href="#cr1" x="479.74" y="579.19"/>
<use href="#cr2" x="481.13" y="572.13"/>
<use href="#cr2" x="479.48" y="578.6"/>
<use href="#cr2" x="481.68" y="580.81"/>
<use href="#cr1" x="483.54" y="576.05"/>
<use href="#cr1" x="483.67" y="571.39"/>
<use href="#cr3" x="483.62" y="580.91"/>
<use href="#cr3" x="485.48" y="579.07"/>
<use href="#cr3" x="485.4" y="574.55"/>
</g>
<g clip-path="url(#cJ11)" filter="url(#glow)" opacity="1">
<path d="M510.77 501.89 C510.82 502.29 511.01 503.91 511.06 504.31" fill="none" stroke="#2fe02f" stroke-width="0.9" stroke-linecap="round" stroke-linejoin="round"/>
<path d="M511.82 500.71 C512.28 500.72 514.11 500.76 514.57 500.77" fill="none" stroke="#2fe02f" stroke-width="0.9" stroke-linecap="round" stroke-linejoin="round"/>
<path d="M513.88 498.14 C513.79 498.64 513.45 500.64 513.36 501.14" fill="none" stroke="#2fe02f" stroke-width="0.9" stroke-linecap="round" stroke-linejoin="round"/>
<path d="M516.46 497.92 C516.2 498.27 515.15 499.68 514.89 500.03" fill="none" stroke="#2fe02f" stroke-width="0.9" stroke-linecap="round" stroke-linejoin="round"/>
<path d="M495.37 524.67 C495.58 524.87 496.45 525.67 496.67 525.88" fill="none" stroke="#2fe02f" stroke-width="0.9" stroke-linecap="round" stroke-linejoin="round"/>
<path d="M496.13 523.09 C495.97 523.64 495.33 525.84 495.17 526.39" fill="none" stroke="#2fe02f" stroke-width="0.9" stroke-linecap="round" stroke-linejoin="round"/>
<path d="M499.47 524.83 C499.82 524.94 501.23 525.41 501.58 525.53" fill="none" stroke="#2fe02f" stroke-width="0.9" stroke-linecap="round" stroke-linejoin="round"/>
<path d="M499.09 522.8 C499.16 523.07 499.44 524.19 499.51 524.46" fill="none" stroke="#2fe02f" stroke-width="0.9" stroke-linecap="round" stroke-linejoin="round"/>
<path d="M509.98 536.8 C510.35 537.25 511.84 539.07 512.22 539.52" fill="none" stroke="#2fe02f" stroke-width="0.9" stroke-linecap="round" stroke-linejoin="round"/>
<path d="M512.4 536.67 C512.14 536.77 511.13 537.18 510.88 537.28" fill="none" stroke="#2fe02f" stroke-width="0.9" stroke-linecap="round" stroke-linejoin="round"/>
<path d="M521.94 549.74 C522.37 549.77 524.07 549.9 524.5 549.93" fill="none" stroke="#2fe02f" stroke-width="0.9" stroke-linecap="round" stroke-linejoin="round"/>
<path d="M522.51 551.33 C522.42 551.61 522.06 552.76 521.97 553.05" fill="none" stroke="#2fe02f" stroke-width="0.9" stroke-linecap="round" stroke-linejoin="round"/>
<path d="M532.14 558.67 C532.34 558.82 533.16 559.42 533.36 559.57" fill="none" stroke="#2fe02f" stroke-width="0.9" stroke-linecap="round" stroke-linejoin="round"/>
<path d="M533.14 560.22 C533.42 560.23 534.56 560.29 534.84 560.31" fill="none" stroke="#2fe02f" stroke-width="0.9" stroke-linecap="round" stroke-linejoin="round"/>
<path d="M536.11 558.57 C536.21 558.97 536.62 560.59 536.73 560.99" fill="none" stroke="#2fe02f" stroke-width="0.9" stroke-linecap="round" stroke-linejoin="round"/>
<path d="M536.57 561.44 C536.49 561.75 536.17 563 536.09 563.31" fill="none" stroke="#2fe02f" stroke-width="0.9" stroke-linecap="round" stroke-linejoin="round"/>
<path d="M562.9 570.7 C563.37 570.78 565.27 571.11 565.74 571.19" fill="none" stroke="#2fe02f" stroke-width="0.9" stroke-linecap="round" stroke-linejoin="round"/>
<path d="M564.17 569.38 C564.61 569.87 566.38 571.86 566.82 572.35" fill="none" stroke="#2fe02f" stroke-width="0.9" stroke-linecap="round" stroke-linejoin="round"/>
<path d="M568.38 572.78 C567.99 573.3 566.43 575.37 566.04 575.88" fill="none" stroke="#2fe02f" stroke-width="0.9" stroke-linecap="round" stroke-linejoin="round"/>
<path d="M567.33 574.11 C567.72 574.16 569.32 574.38 569.72 574.43" fill="none" stroke="#2fe02f" stroke-width="0.9" stroke-linecap="round" stroke-linejoin="round"/>
<path d="M554.19 512.53 C553.98 512.72 553.11 513.46 552.89 513.65" fill="none" stroke="#2fe02f" stroke-width="0.9" stroke-linecap="round" stroke-linejoin="round"/>
<path d="M554.05 512.19 C553.94 512.61 553.48 514.3 553.36 514.73" fill="none" stroke="#2fe02f" stroke-width="0.9" stroke-linecap="round" stroke-linejoin="round"/>
<path d="M567.08 513.73 C567.02 513.98 566.78 514.99 566.72 515.24" fill="none" stroke="#2fe02f" stroke-width="0.9" stroke-linecap="round" stroke-linejoin="round"/>
<path d="M565.62 513.48 C565.69 513.81 565.97 515.14 566.04 515.47" fill="none" stroke="#2fe02f" stroke-width="0.9" stroke-linecap="round" stroke-linejoin="round"/>
</g>
<g clip-path="url(#cJ11)" filter="url(#glow)">
<circle cx="512" cy="502" r="0.64" fill="#2fe02f"/>
<circle cx="515" cy="500" r="0.91" fill="#2fe02f"/>
<circle cx="496" cy="524" r="0.65" fill="#2fe02f"/>
<circle cx="500" cy="524.5" r="0.99" fill="#2fe02f"/>
<circle cx="512" cy="537" r="0.61" fill="#2fe02f"/>
<circle cx="522" cy="551" r="0.99" fill="#2fe02f"/>
<circle cx="534" cy="559" r="1" fill="#2fe02f"/>
<circle cx="536" cy="561" r="0.85" fill="#2fe02f"/>
<circle cx="564" cy="572" r="0.95" fill="#2fe02f"/>
<circle cx="568" cy="574" r="0.72" fill="#2fe02f"/>
<circle cx="554" cy="512" r="0.97" fill="#2fe02f"/>
<circle cx="566" cy="515" r="0.81" fill="#2fe02f"/>
</g>
<g clip-path="url(#cJ12)">
<path d="M586 524 C587.17 523 590.67 519.92 593 518 C595.33 516.08 597.67 514.5 600 512.5 C602.33 510.5 604.5 507.83 607 506 C609.5 504.17 612.33 502.58 615 501.5 C617.67 500.42 620.33 499.75 623 499.5 C625.67 499.25 628.33 499.58 631 500 C633.67 500.42 636.33 501.25 639 502 C641.67 502.75 644.33 503.83 647 504.5 C649.67 505.17 652.33 505.25 655 506 C657.67 506.75 660.5 508 663 509 C665.5 510 668 510.67 670 512 C672 513.33 674.17 515.5 675 517 C675.83 518.5 675.67 520.33 675 521 C674.33 521.67 671.67 521 671 521" fill="none" stroke="#200018" stroke-width="11.5" stroke-linecap="round" stroke-linejoin="round" filter="url(#blur1)"/>
<path d="M586 524 C587.33 524.58 591.17 526.17 594 527.5 C596.83 528.83 600.17 530.58 603 532 C605.83 533.42 608.33 534.5 611 536 C613.67 537.5 616.33 539.33 619 541 C621.67 542.67 624.33 544.33 627 546 C629.67 547.67 632.33 549.25 635 551 C637.67 552.75 640.33 554.83 643 556.5 C645.67 558.17 648.33 559.5 651 561 C653.67 562.5 656.33 564.17 659 565.5 C661.67 566.83 664.33 567.83 667 569 C669.67 570.17 672.33 571.42 675 572.5 C677.67 573.58 680.33 574.58 683 575.5 C685.67 576.42 689.67 577.58 691 578" fill="none" stroke="#200018" stroke-width="13" stroke-linecap="round" stroke-linejoin="round" filter="url(#blur1)"/>
<g filter="url(#mottle)">
<path d="M586 524 C587.17 523 590.67 519.92 593 518 C595.33 516.08 597.67 514.5 600 512.5 C602.33 510.5 604.5 507.83 607 506 C609.5 504.17 612.33 502.58 615 501.5 C617.67 500.42 620.33 499.75 623 499.5 C625.67 499.25 628.33 499.58 631 500 C633.67 500.42 636.33 501.25 639 502 C641.67 502.75 644.33 503.83 647 504.5 C649.67 505.17 652.33 505.25 655 506 C657.67 506.75 660.5 508 663 509 C665.5 510 668 510.67 670 512 C672 513.33 674.17 515.5 675 517 C675.83 518.5 675.67 520.33 675 521 C674.33 521.67 671.67 521 671 521" fill="none" stroke="url(#pM)" stroke-width="8.5" stroke-linecap="round" stroke-linejoin="round"/>
<path d="M586 524 C587.33 524.58 591.17 526.17 594 527.5 C596.83 528.83 600.17 530.58 603 532 C605.83 533.42 608.33 534.5 611 536 C613.67 537.5 616.33 539.33 619 541 C621.67 542.67 624.33 544.33 627 546 C629.67 547.67 632.33 549.25 635 551 C637.67 552.75 640.33 554.83 643 556.5 C645.67 558.17 648.33 559.5 651 561 C653.67 562.5 656.33 564.17 659 565.5 C661.67 566.83 664.33 567.83 667 569 C669.67 570.17 672.33 571.42 675 572.5 C677.67 573.58 680.33 574.58 683 575.5 C685.67 576.42 689.67 577.58 691 578" fill="none" stroke="url(#pM)" stroke-width="10" stroke-linecap="round" stroke-linejoin="round"/>
</g>
</g>
<g clip-path="url(#cJ12)" filter="url(#blur035)">
<use href="#cm2" x="584.53" y="522.06"/>
<use href="#cm2" x="584.3" y="521.49"/>
<use href="#cm2" x="586.95" y="525.11"/>
<use href="#cm2" x="588.38" y="520.77"/>
<use href="#cm1" x="587.52" y="520.64"/>
<use href="#cm3" x="589.8" y="523.83"/>
<use href="#cm2" x="588.56" y="517.13"/>
<use href="#cm2" x="591.96" y="521.88"/>
<use href="#cm2" x="590.71" y="520.62"/>
<use href="#cm3" x="596.06" y="520.89"/>
<use href="#cm3" x="594.58" y="521.03"/>
<use href="#cm3" x="594.28" y="520.14"/>
<use href="#cm3" x="597.82" y="520.08"/>
<use href="#cm3" x="597.34" y="518.06"/>
<use href="#cm2" x="597.82" y="520.04"/>
<use href="#cm2" x="597.39" y="514.52"/>
<use href="#cm3" x="596.69" y="513.84"/>
<use href="#cm3" x="599.5" y="515.52"/>
<use href="#cm2" x="600.49" y="512.59"/>
<use href="#cm2" x="599.62" y="511.64"/>
<use href="#cm2" x="601.95" y="513.92"/>
<use href="#cm1" x="602.65" y="510.81"/>
<use href="#cm1" x="603.96" y="512.59"/>
<use href="#cm2" x="601.53" y="510.29"/>
<use href="#cm3" x="604.06" y="507.99"/>
<use href="#cm3" x="602.26" y="505.6"/>
<use href="#cm1" x="604.15" y="508.69"/>
<use href="#cm3" x="605.98" y="506.04"/>
<use href="#cm2" x="607.93" y="506.26"/>
<use href="#cm3" x="605.85" y="505.43"/>
<use href="#cm3" x="609.12" y="503.74"/>
<use href="#cm3" x="608.46" y="502.69"/>
<use href="#cm3" x="611.41" y="506.31"/>
<use href="#cm2" x="611.13" y="499.74"/>
<use href="#cm2" x="610.66" y="501.34"/>
<use href="#cm1" x="610.93" y="501.05"/>
<use href="#cm3" x="615.56" y="502.46"/>
<use href="#cm2" x="614.59" y="499.27"/>
<use href="#cm2" x="615.15" y="499.82"/>
<use href="#cm3" x="618.51" y="503.66"/>
<use href="#cm2" x="618.29" y="499.83"/>
<use href="#cm3" x="617.29" y="497.37"/>
<use href="#cm3" x="620.23" y="500.75"/>
<use href="#cm3" x="620.97" y="502.18"/>
<use href="#cm3" x="619.65" y="496.78"/>
<use href="#cm1" x="622.22" y="500.29"/>
<use href="#cm2" x="622.49" y="503.26"/>
<use href="#cm3" x="622.46" y="502.49"/>
<use href="#cm1" x="625.01" y="498.17"/>
<use href="#cm2" x="625.17" y="501.08"/>
<use href="#cm3" x="626.43" y="497.64"/>
<use href="#cm1" x="627.53" y="500.4"/>
<use href="#cm1" x="628.77" y="497.23"/>
<use href="#cm3" x="629.04" y="499.59"/>
<use href="#cm2" x="630.72" y="500.59"/>
<use href="#cm3" x="631.51" y="495.75"/>
<use href="#cm3" x="630.16" y="501.87"/>
<use href="#cm3" x="634.31" y="497.41"/>
<use href="#cm1" x="634.02" y="501"/>
<use href="#cm3" x="632.54" y="502"/>
<use href="#cm2" x="637.34" y="499.13"/>
<use href="#cm3" x="636.35" y="499.91"/>
<use href="#cm3" x="636.1" y="503.62"/>
<use href="#cm1" x="638.24" y="501.68"/>
<use href="#cm1" x="640.09" y="500.46"/>
<use href="#cm2" x="639.59" y="501.16"/>
<use href="#cm2" x="642.82" y="499.5"/>
<use href="#cm1" x="641.68" y="501.79"/>
<use href="#cm2" x="641.42" y="502.95"/>
<use href="#cm1" x="645.84" y="499.06"/>
<use href="#cm3" x="643.97" y="505.81"/>
<use href="#cm1" x="643.92" y="502.49"/>
<use href="#cm2" x="648.09" y="501.55"/>
<use href="#cm3" x="646.59" y="507.57"/>
<use href="#cm3" x="647.35" y="501.8"/>
<use href="#cm2" x="649.2" y="503.93"/>
<use href="#cm2" x="649.02" y="506.72"/>
<use href="#cm2" x="651.01" y="502.1"/>
<use href="#cm3" x="652.49" y="502.44"/>
<use href="#cm1" x="651.71" y="508.34"/>
<use href="#cm1" x="651.96" y="505.44"/>
<use href="#cm1" x="653.39" y="508.95"/>
<use href="#cm2" x="654.78" y="507.91"/>
<use href="#cm3" x="652.87" y="509.21"/>
<use href="#cm3" x="656.18" y="509.87"/>
<use href="#cm1" x="657.83" y="507.23"/>
<use href="#cm3" x="658.69" y="502.5"/>
<use href="#cm1" x="659.6" y="510.16"/>
<use href="#cm1" x="661.43" y="506.32"/>
<use href="#cm3" x="661.97" y="504.55"/>
<use href="#cm1" x="660.97" y="512.95"/>
<use href="#cm3" x="661.64" y="510.88"/>
<use href="#cm1" x="662.04" y="511.02"/>
<use href="#cm2" x="668.36" y="506.95"/>
<use href="#cm3" x="665.62" y="513.28"/>
<use href="#cm1" x="665.75" y="513.47"/>
<use href="#cm3" x="671.27" y="510.07"/>
<use href="#cm2" x="671.96" y="510.77"/>
<use href="#cm3" x="668.23" y="513.92"/>
<use href="#cm2" x="672.61" y="513.96"/>
<use href="#cm3" x="673.05" y="515.11"/>
<use href="#cm3" x="675.7" y="511.74"/>
<use href="#cm2" x="677.8" y="517.53"/>
<use href="#cm2" x="673.93" y="516.34"/>
<use href="#cm3" x="679.23" y="517"/>
<use href="#cm1" x="675.69" y="517.65"/>
<use href="#cm1" x="674.99" y="523.19"/>
<use href="#cm3" x="674.74" y="519.37"/>
<use href="#cm1" x="583.97" y="528.06"/>
<use href="#cm2" x="584.73" y="528.1"/>
<use href="#cm2" x="587.79" y="521.49"/>
<use href="#cm1" x="589.15" y="523.41"/>
<use href="#cm1" x="588.24" y="527.16"/>
<use href="#cm1" x="587.81" y="528.91"/>
<use href="#cm3" x="592.6" y="523.89"/>
<use href="#cm3" x="589.58" y="528.99"/>
<use href="#cm3" x="590.6" y="528.14"/>
<use href="#cm2" x="592.24" y="530.33"/>
<use href="#cm1" x="593.05" y="529.31"/>
<use href="#cm3" x="592.09" y="532.44"/>
<use href="#cm2" x="596.02" y="531.47"/>
<use href="#cm2" x="595.68" y="532.77"/>
<use href="#cm1" x="597.47" y="528.43"/>
<use href="#cm1" x="601.86" y="526.95"/>
<use href="#cm3" x="598.93" y="531.74"/>
<use href="#cm1" x="601.72" y="525.97"/>
<use href="#cm2" x="605.86" y="527.39"/>
<use href="#cm2" x="603.97" y="529.44"/>
<use href="#cm2" x="604.26" y="530.84"/>
<use href="#cm3" x="604.86" y="536.69"/>
<use href="#cm1" x="606.18" y="531.45"/>
<use href="#cm1" x="605.16" y="533.62"/>
<use href="#cm1" x="605.77" y="538.39"/>
<use href="#cm3" x="608.87" y="535.49"/>
<use href="#cm2" x="609.96" y="531.53"/>
<use href="#cm2" x="611.62" y="535.88"/>
<use href="#cm2" x="613.55" y="531.69"/>
<use href="#cm3" x="610.53" y="536.7"/>
<use href="#cm1" x="613.94" y="537.41"/>
<use href="#cm3" x="614.16" y="538.37"/>
<use href="#cm2" x="612.17" y="540.92"/>
<use href="#cm3" x="615.83" y="540.89"/>
<use href="#cm3" x="613.44" y="542.94"/>
<use href="#cm3" x="614.95" y="540.81"/>
<use href="#cm3" x="619.47" y="539.91"/>
<use href="#cm3" x="618.93" y="542.35"/>
<use href="#cm3" x="622.07" y="536.93"/>
<use href="#cm1" x="622.01" y="541.25"/>
<use href="#cm1" x="621.66" y="544.25"/>
<use href="#cm2" x="620.75" y="545.1"/>
<use href="#cm3" x="622.62" y="547.69"/>
<use href="#cm2" x="623.54" y="545.24"/>
<use href="#cm1" x="626.1" y="541.17"/>
<use href="#cm3" x="625.58" y="547.84"/>
<use href="#cm1" x="626.77" y="545.85"/>
<use href="#cm3" x="625.83" y="547.92"/>
<use href="#cm2" x="630.75" y="545.59"/>
<use href="#cm3" x="630.21" y="546.24"/>
<use href="#cm1" x="628.77" y="549.11"/>
<use href="#cm3" x="634.33" y="546.86"/>
<use href="#cm3" x="633.73" y="546.95"/>
<use href="#cm3" x="632.84" y="548.1"/>
<use href="#cm3" x="635.52" y="550.34"/>
<use href="#cm3" x="636.71" y="549.46"/>
<use href="#cm1" x="636.24" y="550.89"/>
<use href="#cm1" x="635.55" y="555.39"/>
<use href="#cm3" x="635.69" y="556.02"/>
<use href="#cm1" x="640.37" y="549.87"/>
<use href="#cm2" x="641.8" y="552.03"/>
<use href="#cm1" x="641.25" y="552.48"/>
<use href="#cm2" x="638.78" y="555.84"/>
<use href="#cm1" x="644.56" y="555.67"/>
<use href="#cm1" x="645.34" y="553.25"/>
<use href="#cm3" x="642.09" y="558.14"/>
<use href="#cm2" x="643.57" y="561.79"/>
<use href="#cm2" x="647.85" y="554.02"/>
<use href="#cm1" x="646.89" y="556.08"/>
<use href="#cm2" x="649.28" y="557.27"/>
<use href="#cm3" x="650.09" y="556.72"/>
<use href="#cm1" x="649.78" y="555.44"/>
<use href="#cm2" x="650.11" y="563.3"/>
<use href="#cm1" x="648.95" y="563.55"/>
<use href="#cm1" x="649.55" y="563.76"/>
<use href="#cm1" x="655.48" y="558.54"/>
<use href="#cm3" x="652.96" y="562.39"/>
<use href="#cm1" x="652.65" y="564.72"/>
<use href="#cm1" x="655.62" y="564.91"/>
<use href="#cm1" x="656.17" y="563.41"/>
<use href="#cm3" x="655.43" y="566.68"/>
<use href="#cm2" x="658.94" y="564.65"/>
<use href="#cm3" x="658.02" y="566.09"/>
<use href="#cm3" x="660.19" y="562.84"/>
<use href="#cm2" x="660.88" y="566.63"/>
<use href="#cm3" x="661.85" y="567.07"/>
<use href="#cm1" x="663.02" y="562.91"/>
<use href="#cm1" x="666.09" y="565"/>
<use href="#cm1" x="663.48" y="570.37"/>
<use href="#cm1" x="662.7" y="571.61"/>
<use href="#cm2" x="664.32" y="573.49"/>
<use href="#cm2" x="666.97" y="570.93"/>
<use href="#cm2" x="668.94" y="563.99"/>
<use href="#cm3" x="670.58" y="566.19"/>
<use href="#cm2" x="671" y="567.59"/>
<use href="#cm2" x="669.01" y="572.66"/>
<use href="#cm2" x="670.97" y="573.99"/>
<use href="#cm2" x="672.12" y="572.05"/>
<use href="#cm3" x="674.16" y="567.63"/>
<use href="#cm3" x="674.77" y="574.88"/>
<use href="#cm3" x="677.42" y="568.89"/>
<use href="#cm1" x="676" y="569.32"/>
<use href="#cm2" x="677.39" y="571.96"/>
<use href="#cm2" x="676.8" y="576.15"/>
<use href="#cm3" x="677.94" y="572.2"/>
<use href="#cm3" x="680.37" y="573.95"/>
<use href="#cm2" x="680.67" y="572.18"/>
<use href="#cm2" x="681.07" y="574.99"/>
<use href="#cm1" x="682.74" y="579.19"/>
<use href="#cm2" x="684.13" y="572.13"/>
<use href="#cm2" x="682.48" y="578.6"/>
<use href="#cm2" x="684.68" y="580.81"/>
<use href="#cm1" x="686.54" y="576.05"/>
<use href="#cm1" x="686.67" y="571.39"/>
<use href="#cm3" x="686.62" y="580.91"/>
<use href="#cm3" x="688.48" y="579.07"/>
<use href="#cm3" x="688.4" y="574.55"/>
</g>
<g clip-path="url(#cJ12)" filter="url(#glow)" opacity="1">
<path d="M611.77 501.89 C611.82 502.29 612.01 503.91 612.06 504.31" fill="none" stroke="#c0ff60" stroke-width="0.9" stroke-linecap="round" stroke-linejoin="round"/>
<path d="M612.82 500.71 C613.28 500.72 615.11 500.76 615.57 500.77" fill="none" stroke="#c0ff60" stroke-width="0.9" stroke-linecap="round" stroke-linejoin="round"/>
<path d="M614.88 498.14 C614.79 498.64 614.45 500.64 614.36 501.14" fill="none" stroke="#c0ff60" stroke-width="0.9" stroke-linecap="round" stroke-linejoin="round"/>
<path d="M617.46 497.92 C617.2 498.27 616.15 499.68 615.89 500.03" fill="none" stroke="#c0ff60" stroke-width="0.9" stroke-linecap="round" stroke-linejoin="round"/>
<path d="M596.37 524.67 C596.58 524.87 597.45 525.67 597.67 525.88" fill="none" stroke="#c0ff60" stroke-width="0.9" stroke-linecap="round" stroke-linejoin="round"/>
<path d="M597.13 523.09 C596.97 523.64 596.33 525.84 596.17 526.39" fill="none" stroke="#c0ff60" stroke-width="0.9" stroke-linecap="round" stroke-linejoin="round"/>
<path d="M600.47 524.83 C600.82 524.94 602.23 525.41 602.58 525.53" fill="none" stroke="#c0ff60" stroke-width="0.9" stroke-linecap="round" stroke-linejoin="round"/>
<path d="M600.09 522.8 C600.16 523.07 600.44 524.19 600.51 524.46" fill="none" stroke="#c0ff60" stroke-width="0.9" stroke-linecap="round" stroke-linejoin="round"/>
<path d="M610.98 536.8 C611.35 537.25 612.84 539.07 613.22 539.52" fill="none" stroke="#c0ff60" stroke-width="0.9" stroke-linecap="round" stroke-linejoin="round"/>
<path d="M613.4 536.67 C613.14 536.77 612.13 537.18 611.88 537.28" fill="none" stroke="#c0ff60" stroke-width="0.9" stroke-linecap="round" stroke-linejoin="round"/>
<path d="M622.94 549.74 C623.37 549.77 625.07 549.9 625.5 549.93" fill="none" stroke="#c0ff60" stroke-width="0.9" stroke-linecap="round" stroke-linejoin="round"/>
<path d="M623.51 551.33 C623.42 551.61 623.06 552.76 622.97 553.05" fill="none" stroke="#c0ff60" stroke-width="0.9" stroke-linecap="round" stroke-linejoin="round"/>
<path d="M633.14 558.67 C633.34 558.82 634.16 559.42 634.36 559.57" fill="none" stroke="#c0ff60" stroke-width="0.9" stroke-linecap="round" stroke-linejoin="round"/>
<path d="M634.14 560.22 C634.42 560.23 635.56 560.29 635.84 560.31" fill="none" stroke="#c0ff60" stroke-width="0.9" stroke-linecap="round" stroke-linejoin="round"/>
<path d="M637.11 558.57 C637.21 558.97 637.62 560.59 637.73 560.99" fill="none" stroke="#c0ff60" stroke-width="0.9" stroke-linecap="round" stroke-linejoin="round"/>
<path d="M637.57 561.44 C637.49 561.75 637.17 563 637.09 563.31" fill="none" stroke="#c0ff60" stroke-width="0.9" stroke-linecap="round" stroke-linejoin="round"/>
<path d="M663.9 570.7 C664.37 570.78 666.27 571.11 666.74 571.19" fill="none" stroke="#c0ff60" stroke-width="0.9" stroke-linecap="round" stroke-linejoin="round"/>
<path d="M665.17 569.38 C665.61 569.87 667.38 571.86 667.82 572.35" fill="none" stroke="#c0ff60" stroke-width="0.9" stroke-linecap="round" stroke-linejoin="round"/>
<path d="M669.38 572.78 C668.99 573.3 667.43 575.37 667.04 575.88" fill="none" stroke="#c0ff60" stroke-width="0.9" stroke-linecap="round" stroke-linejoin="round"/>
<path d="M668.33 574.11 C668.72 574.16 670.32 574.38 670.72 574.43" fill="none" stroke="#c0ff60" stroke-width="0.9" stroke-linecap="round" stroke-linejoin="round"/>
<path d="M655.19 512.53 C654.98 512.72 654.11 513.46 653.89 513.65" fill="none" stroke="#c0ff60" stroke-width="0.9" stroke-linecap="round" stroke-linejoin="round"/>
<path d="M655.05 512.19 C654.94 512.61 654.48 514.3 654.36 514.73" fill="none" stroke="#c0ff60" stroke-width="0.9" stroke-linecap="round" stroke-linejoin="round"/>
<path d="M668.08 513.73 C668.02 513.98 667.78 514.99 667.72 515.24" fill="none" stroke="#c0ff60" stroke-width="0.9" stroke-linecap="round" stroke-linejoin="round"/>
<path d="M666.62 513.48 C666.69 513.81 666.97 515.14 667.04 515.47" fill="none" stroke="#c0ff60" stroke-width="0.9" stroke-linecap="round" stroke-linejoin="round"/>
</g>
<g clip-path="url(#cJ12)" filter="url(#glow)">
<circle cx="613" cy="502" r="0.64" fill="#c0ff60"/>
<circle cx="616" cy="500" r="0.91" fill="#c0ff60"/>
<circle cx="597" cy="524" r="0.65" fill="#c0ff60"/>
<circle cx="601" cy="524.5" r="0.99" fill="#c0ff60"/>
<circle cx="613" cy="537" r="0.61" fill="#c0ff60"/>
<circle cx="623" cy="551" r="0.99" fill="#c0ff60"/>
<circle cx="635" cy="559" r="1" fill="#c0ff60"/>
<circle cx="637" cy="561" r="0.85" fill="#c0ff60"/>
<circle cx="665" cy="572" r="0.95" fill="#c0ff60"/>
<circle cx="669" cy="574" r="0.72" fill="#c0ff60"/>
<circle cx="655" cy="512" r="0.97" fill="#c0ff60"/>
<circle cx="667" cy="515" r="0.81" fill="#c0ff60"/>
</g>
<text x="385.8" y="488.6" font-size="11" fill="#ff1010" font-weight="bold">A<tspan font-size="7.1">2A</tspan>R</text>
<text x="487" y="488.7" font-size="10.7" fill="#18e818" text-anchor="start" font-weight="bold">MHC-II</text>
<text x="587" y="488.8" font-size="11" fill="#f8f800" text-anchor="start" font-weight="bold">Merge</text>
<rect x="446.6" y="571" width="32.5" height="2.6" fill="#fff"/>
<text x="463.3" y="568.6" font-size="7.1" fill="#fff" text-anchor="middle" font-weight="normal">100 μm</text>
<text x="-0.2" y="201" font-size="18" fill="#000" text-anchor="start" font-weight="bold">D</text>
<rect x="25" y="188" width="119.3" height="82.3" fill="#000"/>
<rect x="25" y="276" width="119.3" height="82.5" fill="#000"/>
<text x="22.5" y="227.4" font-size="15" fill="#000" text-anchor="middle" font-weight="normal" transform="rotate(-90 22.5 227.4)">Control</text>
<text x="22.4" y="315" font-size="15" fill="#000" text-anchor="middle" font-weight="normal" transform="rotate(-90 22.4 315)">PHH</text>
<g filter="url(#soft)">
<path d="M83.7 208 C84.28 208.09 84.13 203.85 85.6 202.8 C87.07 201.75 90.98 201.39 93.5 201 C96.02 200.61 99.48 200.19 102.4 200.2 C105.33 200.21 110.06 200.56 113 201.1 C115.94 201.64 119.59 202.59 122 203.8 C124.41 205.02 127.24 207.05 129.1 209.2 C130.96 211.34 133.28 215.17 134.4 218.1 C135.53 221.03 136.47 225.5 136.6 228.7 C136.73 231.89 136.16 236.72 135.3 239.4 C134.45 242.09 132.1 244.45 130.9 246.6 C129.7 248.75 128.91 252.11 127.3 253.7 C125.69 255.29 122.34 256.34 120.2 257.2 C118.06 258.06 115.14 259.13 113 259.4 C110.86 259.67 108.03 259.58 105.9 259 C103.77 258.42 100.93 255.91 98.8 255.5 C96.67 255.09 93.83 256.18 91.7 256.3 C89.57 256.42 86.74 256.3 84.6 256.3 C82.45 256.3 79.55 256.42 77.4 256.3 C75.26 256.18 72.43 255.23 70.3 255.5 C68.17 255.77 65.87 257.85 63.2 258.1 C60.53 258.36 55.3 257.72 52.5 257.2 C49.7 256.68 46.24 255.94 44.5 254.6 C42.76 253.26 42.37 250.04 40.9 248.3 C39.43 246.56 36.04 244.86 34.7 243 C33.37 241.14 32.27 238.57 32 235.9 C31.73 233.23 32.09 228.41 32.9 225.2 C33.71 221.99 35.8 217.44 37.4 214.5 C39 211.56 41.61 207.75 43.6 205.6 C45.59 203.45 48.3 201.32 50.7 200.2 C53.1 199.07 56.93 198.49 59.6 198.1 C62.27 197.71 65.83 197.41 68.5 197.6 C71.17 197.79 75.42 198.71 77.4 199.4 C79.38 200.09 80.76 200.91 81.7 202.2 C82.64 203.49 83.12 207.91 83.7 208Z" fill="#3a3a3a"/>
<g clip-path="url(#bc1)">
<rect x="32" y="197.6" width="104.6" height="61.8" fill="url(#brainGrad)"/>
<path d="M83.7 208 C84.28 208.09 84.13 203.85 85.6 202.8 C87.07 201.75 90.98 201.39 93.5 201 C96.02 200.61 99.48 200.19 102.4 200.2 C105.33 200.21 110.06 200.56 113 201.1 C115.94 201.64 119.59 202.59 122 203.8 C124.41 205.02 127.24 207.05 129.1 209.2 C130.96 211.34 133.28 215.17 134.4 218.1 C135.53 221.03 136.47 225.5 136.6 228.7 C136.73 231.89 136.16 236.72 135.3 239.4 C134.45 242.09 132.1 244.45 130.9 246.6 C129.7 248.75 128.91 252.11 127.3 253.7 C125.69 255.29 122.34 256.34 120.2 257.2 C118.06 258.06 115.14 259.13 113 259.4 C110.86 259.67 108.03 259.58 105.9 259 C103.77 258.42 100.93 255.91 98.8 255.5 C96.67 255.09 93.83 256.18 91.7 256.3 C89.57 256.42 86.74 256.3 84.6 256.3 C82.45 256.3 79.55 256.42 77.4 256.3 C75.26 256.18 72.43 255.23 70.3 255.5 C68.17 255.77 65.87 257.85 63.2 258.1 C60.53 258.36 55.3 257.72 52.5 257.2 C49.7 256.68 46.24 255.94 44.5 254.6 C42.76 253.26 42.37 250.04 40.9 248.3 C39.43 246.56 36.04 244.86 34.7 243 C33.37 241.14 32.27 238.57 32 235.9 C31.73 233.23 32.09 228.41 32.9 225.2 C33.71 221.99 35.8 217.44 37.4 214.5 C39 211.56 41.61 207.75 43.6 205.6 C45.59 203.45 48.3 201.32 50.7 200.2 C53.1 199.07 56.93 198.49 59.6 198.1 C62.27 197.71 65.83 197.41 68.5 197.6 C71.17 197.79 75.42 198.71 77.4 199.4 C79.38 200.09 80.76 200.91 81.7 202.2 C82.64 203.49 83.12 207.91 83.7 208Z" fill="none" stroke="#8c8c8c" stroke-width="8" opacity="0.18" transform="translate(0 1.5)"/>
<path d="M83.7 208 C84.28 208.09 84.13 203.85 85.6 202.8 C87.07 201.75 90.98 201.39 93.5 201 C96.02 200.61 99.48 200.19 102.4 200.2 C105.33 200.21 110.06 200.56 113 201.1 C115.94 201.64 119.59 202.59 122 203.8 C124.41 205.02 127.24 207.05 129.1 209.2 C130.96 211.34 133.28 215.17 134.4 218.1 C135.53 221.03 136.47 225.5 136.6 228.7 C136.73 231.89 136.16 236.72 135.3 239.4 C134.45 242.09 132.1 244.45 130.9 246.6 C129.7 248.75 128.91 252.11 127.3 253.7 C125.69 255.29 122.34 256.34 120.2 257.2 C118.06 258.06 115.14 259.13 113 259.4 C110.86 259.67 108.03 259.58 105.9 259 C103.77 258.42 100.93 255.91 98.8 255.5 C96.67 255.09 93.83 256.18 91.7 256.3 C89.57 256.42 86.74 256.3 84.6 256.3 C82.45 256.3 79.55 256.42 77.4 256.3 C75.26 256.18 72.43 255.23 70.3 255.5 C68.17 255.77 65.87 257.85 63.2 258.1 C60.53 258.36 55.3 257.72 52.5 257.2 C49.7 256.68 46.24 255.94 44.5 254.6 C42.76 253.26 42.37 250.04 40.9 248.3 C39.43 246.56 36.04 244.86 34.7 243 C33.37 241.14 32.27 238.57 32 235.9 C31.73 233.23 32.09 228.41 32.9 225.2 C33.71 221.99 35.8 217.44 37.4 214.5 C39 211.56 41.61 207.75 43.6 205.6 C45.59 203.45 48.3 201.32 50.7 200.2 C53.1 199.07 56.93 198.49 59.6 198.1 C62.27 197.71 65.83 197.41 68.5 197.6 C71.17 197.79 75.42 198.71 77.4 199.4 C79.38 200.09 80.76 200.91 81.7 202.2 C82.64 203.49 83.12 207.91 83.7 208Z" fill="none" stroke="#3c3c3c" stroke-width="1.2" opacity="0.3"/>
<path d="M38.5 228 C39.58 226.58 42.25 221.75 45 219.5 C47.75 217.25 51.5 215.7 55 214.5 C58.5 213.3 62.5 212.3 66 212.3 C69.5 212.3 73.02 213.78 76 214.5 C78.98 215.22 82.58 216.25 83.9 216.6" stroke="#404040" stroke-width="1" fill="none" stroke-linejoin="round" stroke-linecap="round" opacity="0.6"/>
<path d="M83.9 216.6 C85.22 216.05 89.12 213.97 91.8 213.3 C94.48 212.63 97.3 212.63 100 212.6 C102.7 212.57 105.17 212.45 108 213.1 C110.83 213.75 114.17 215.02 117 216.5 C119.83 217.98 122.67 219.75 125 222 C127.33 224.25 130 228.67 131 230" stroke="#404040" stroke-width="1" fill="none" stroke-linejoin="round" stroke-linecap="round" opacity="0.6"/>
<path d="M66.8 214.2 C67.09 213.58 70.79 214.84 72 215.2 C73.21 215.56 76.79 216.74 77.2 217.3 C77.61 217.86 76.11 219.38 75.5 220 C74.89 220.62 72.7 222.54 72 222.6 C71.3 222.66 70.11 221.48 69.5 220.5 C68.89 219.52 66.51 214.82 66.8 214.2Z" fill="#cfcfcf" stroke="#b0b0b0" stroke-width="1.2" filter="url(#blur05)"/>
<path d="M92.4 217.3 C92.63 216.64 96.22 215.59 97.5 215.3 C98.78 215.01 102.88 214.37 103.4 214.8 C103.93 215.23 102.51 218.02 102 219 C101.49 219.98 99.76 222.97 99 223.2 C98.24 223.43 96.27 221.69 95.5 221 C94.73 220.31 92.17 217.97 92.4 217.3Z" fill="#cfcfcf" stroke="#b0b0b0" stroke-width="1.2" filter="url(#blur05)"/>
<ellipse cx="71.67" cy="217.5" rx="2.6" ry="2.0" fill="#ececec" opacity="0.8"/>
<ellipse cx="97.8" cy="217.63" rx="2.6" ry="2.0" fill="#ececec" opacity="0.8"/>
<path d="M77.1 224.5 C78.7 224.4 90.5 224.4 92.1 224.5 C93.7 224.6 93.47 225.23 93.1 225.55 C92.72 225.86 89 227.28 88.35 227.65 C87.7 228.02 87.17 229.04 86.6 229.2 C86.02 229.35 83.17 229.35 82.6 229.2 C82.02 229.04 81.5 228.02 80.85 227.65 C80.2 227.28 76.47 225.86 76.1 225.55 C75.72 225.23 75.5 224.6 77.1 224.5Z" fill="#c4c4c4" filter="url(#blur05)"/>
<rect x="73.1" y="222.5" width="23" height="1.9" rx="1" fill="#4a4a4a" opacity="0.85"/>
<circle cx="78.6" cy="229.3" r="1.3" fill="#383838"/>
<circle cx="90" cy="229.8" r="1.3" fill="#383838"/>
<circle cx="69" cy="238" r="0.9" fill="#383838"/>
<circle cx="100" cy="238" r="0.9" fill="#383838"/>
<line x1="84.6" y1="243" x2="84.6" y2="255.5" stroke="#a8a8a8" stroke-width="1.3"/>
<rect x="32" y="197.6" width="104.6" height="61.8" filter="url(#noise)" style="mix-blend-mode:overlay" opacity="0.4"/>
</g></g>
<g filter="url(#soft)">
<path d="M84.6 286.5 C85.32 286.5 86.41 283.18 87.2 282.5 C88 281.82 87.89 282 89.9 282 C91.91 282 97.13 282.1 100.6 282.5 C104.06 282.9 109.53 283.44 113 284.7 C116.47 285.96 121.02 288.77 123.7 290.9 C126.39 293.03 129.16 296.09 130.9 298.9 C132.64 301.7 134.45 306.39 135.3 309.6 C136.16 312.81 136.73 317.36 136.6 320.3 C136.47 323.24 135.25 326.66 134.4 329.2 C133.55 331.74 132.1 334.94 130.9 337.2 C129.7 339.46 128.28 342.29 126.4 344.3 C124.53 346.31 120.94 349.39 118.4 350.6 C115.87 351.81 111.9 352.67 109.5 352.4 C107.1 352.13 104.55 349.75 102.4 348.8 C100.26 347.86 97.87 346.37 95.2 346.1 C92.53 345.83 87.79 347 84.6 347 C81.41 347 76.45 345.83 73.9 346.1 C71.35 346.37 69.74 347.86 67.6 348.8 C65.45 349.75 62.13 352.13 59.6 352.4 C57.07 352.67 53.1 351.68 50.7 350.6 C48.3 349.52 45.34 347.07 43.6 345.2 C41.86 343.32 40.57 340.23 39.1 338.1 C37.63 335.97 34.94 333.13 33.8 331 C32.66 328.87 31.77 326.3 31.5 323.9 C31.23 321.5 31.38 317.94 32 315 C32.62 312.06 34.27 307.24 35.6 304.3 C36.94 301.36 38.91 297.81 40.9 295.4 C42.89 292.98 46.09 289.94 48.9 288.2 C51.7 286.46 55.85 284.73 59.6 283.8 C63.35 282.87 70.48 282.19 73.9 282 C77.32 281.81 80.8 281.82 82.4 282.5 C84.01 283.18 83.88 286.5 84.6 286.5Z" fill="#3a3a3a"/>
<g clip-path="url(#bc2)">
<rect x="31.5" y="282" width="105.1" height="70.4" fill="url(#brainGrad)"/>
<path d="M84.6 286.5 C85.32 286.5 86.41 283.18 87.2 282.5 C88 281.82 87.89 282 89.9 282 C91.91 282 97.13 282.1 100.6 282.5 C104.06 282.9 109.53 283.44 113 284.7 C116.47 285.96 121.02 288.77 123.7 290.9 C126.39 293.03 129.16 296.09 130.9 298.9 C132.64 301.7 134.45 306.39 135.3 309.6 C136.16 312.81 136.73 317.36 136.6 320.3 C136.47 323.24 135.25 326.66 134.4 329.2 C133.55 331.74 132.1 334.94 130.9 337.2 C129.7 339.46 128.28 342.29 126.4 344.3 C124.53 346.31 120.94 349.39 118.4 350.6 C115.87 351.81 111.9 352.67 109.5 352.4 C107.1 352.13 104.55 349.75 102.4 348.8 C100.26 347.86 97.87 346.37 95.2 346.1 C92.53 345.83 87.79 347 84.6 347 C81.41 347 76.45 345.83 73.9 346.1 C71.35 346.37 69.74 347.86 67.6 348.8 C65.45 349.75 62.13 352.13 59.6 352.4 C57.07 352.67 53.1 351.68 50.7 350.6 C48.3 349.52 45.34 347.07 43.6 345.2 C41.86 343.32 40.57 340.23 39.1 338.1 C37.63 335.97 34.94 333.13 33.8 331 C32.66 328.87 31.77 326.3 31.5 323.9 C31.23 321.5 31.38 317.94 32 315 C32.62 312.06 34.27 307.24 35.6 304.3 C36.94 301.36 38.91 297.81 40.9 295.4 C42.89 292.98 46.09 289.94 48.9 288.2 C51.7 286.46 55.85 284.73 59.6 283.8 C63.35 282.87 70.48 282.19 73.9 282 C77.32 281.81 80.8 281.82 82.4 282.5 C84.01 283.18 83.88 286.5 84.6 286.5Z" fill="none" stroke="#8c8c8c" stroke-width="8" opacity="0.18" transform="translate(0 1.5)"/>
<path d="M84.6 286.5 C85.32 286.5 86.41 283.18 87.2 282.5 C88 281.82 87.89 282 89.9 282 C91.91 282 97.13 282.1 100.6 282.5 C104.06 282.9 109.53 283.44 113 284.7 C116.47 285.96 121.02 288.77 123.7 290.9 C126.39 293.03 129.16 296.09 130.9 298.9 C132.64 301.7 134.45 306.39 135.3 309.6 C136.16 312.81 136.73 317.36 136.6 320.3 C136.47 323.24 135.25 326.66 134.4 329.2 C133.55 331.74 132.1 334.94 130.9 337.2 C129.7 339.46 128.28 342.29 126.4 344.3 C124.53 346.31 120.94 349.39 118.4 350.6 C115.87 351.81 111.9 352.67 109.5 352.4 C107.1 352.13 104.55 349.75 102.4 348.8 C100.26 347.86 97.87 346.37 95.2 346.1 C92.53 345.83 87.79 347 84.6 347 C81.41 347 76.45 345.83 73.9 346.1 C71.35 346.37 69.74 347.86 67.6 348.8 C65.45 349.75 62.13 352.13 59.6 352.4 C57.07 352.67 53.1 351.68 50.7 350.6 C48.3 349.52 45.34 347.07 43.6 345.2 C41.86 343.32 40.57 340.23 39.1 338.1 C37.63 335.97 34.94 333.13 33.8 331 C32.66 328.87 31.77 326.3 31.5 323.9 C31.23 321.5 31.38 317.94 32 315 C32.62 312.06 34.27 307.24 35.6 304.3 C36.94 301.36 38.91 297.81 40.9 295.4 C42.89 292.98 46.09 289.94 48.9 288.2 C51.7 286.46 55.85 284.73 59.6 283.8 C63.35 282.87 70.48 282.19 73.9 282 C77.32 281.81 80.8 281.82 82.4 282.5 C84.01 283.18 83.88 286.5 84.6 286.5Z" fill="none" stroke="#3c3c3c" stroke-width="1.2" opacity="0.3"/>
<path d="M38.5 318 C39.42 316.25 41.58 310.33 44 307.5 C46.42 304.67 49.83 302.58 53 301 C56.17 299.42 59.33 298.17 63 298 C66.67 297.83 71.52 299.17 75 300 C78.48 300.83 82.42 302.5 83.9 303" stroke="#404040" stroke-width="1" fill="none" stroke-linejoin="round" stroke-linecap="round" opacity="0.6"/>
<path d="M83.9 303 C85.25 302.33 88.98 299.87 92 299 C95.02 298.13 98.67 297.72 102 297.8 C105.33 297.88 108.83 298.47 112 299.5 C115.17 300.53 118.33 302.08 121 304 C123.67 305.92 126.17 308.33 128 311 C129.83 313.67 131.33 318.5 132 320" stroke="#404040" stroke-width="1" fill="none" stroke-linejoin="round" stroke-linecap="round" opacity="0.6"/>
<path d="M65.2 300 C65.61 299.15 68.8 299.18 70 299.2 C71.2 299.22 74.54 299.76 75.5 300.2 C76.46 300.64 77.97 302.15 78.2 303 C78.43 303.85 77.99 306.57 77.5 307.5 C77.01 308.43 74.93 310.65 74 311 C73.07 311.35 70.38 311.02 69.5 310.5 C68.62 309.98 67 307.73 66.5 306.5 C66 305.27 64.79 300.85 65.2 300Z" fill="#cfcfcf" stroke="#b0b0b0" stroke-width="1.2" filter="url(#blur05)"/>
<path d="M91.2 303 C91.35 302.15 92.89 300.64 93.8 300.2 C94.71 299.76 97.81 299.22 99 299.2 C100.19 299.18 103.39 299.32 104 300 C104.61 300.68 104.55 303.77 104.2 305 C103.85 306.23 101.9 309.8 101 310.5 C100.1 311.2 97.49 311.35 96.5 311 C95.51 310.65 93.12 308.43 92.5 307.5 C91.88 306.57 91.05 303.85 91.2 303Z" fill="#cfcfcf" stroke="#b0b0b0" stroke-width="1.2" filter="url(#blur05)"/>
<ellipse cx="71.55" cy="303.94" rx="2.6" ry="2.0" fill="#ececec" opacity="0.8"/>
<ellipse cx="97.28" cy="303.75" rx="2.6" ry="2.0" fill="#ececec" opacity="0.8"/>
<path d="M77.6 311 C79.1 310.88 90.1 310.88 91.6 311 C93.1 311.12 92.95 311.88 92.6 312.25 C92.25 312.62 88.7 314.32 88.1 314.75 C87.5 315.18 87.15 316.32 86.6 316.5 C86.05 316.68 83.15 316.68 82.6 316.5 C82.05 316.32 81.7 315.18 81.1 314.75 C80.5 314.32 76.95 312.62 76.6 312.25 C76.25 311.88 76.1 311.12 77.6 311Z" fill="#c4c4c4" filter="url(#blur05)"/>
<rect x="73.6" y="309" width="22" height="1.9" rx="1" fill="#4a4a4a" opacity="0.85"/>
<circle cx="78.5" cy="317.5" r="1.2" fill="#383838"/>
<circle cx="91" cy="317.5" r="1.2" fill="#383838"/>
<circle cx="69" cy="326" r="0.9" fill="#383838"/>
<circle cx="100" cy="326" r="0.9" fill="#383838"/>
<line x1="85.2" y1="334.5" x2="85.2" y2="345.2" stroke="#a8a8a8" stroke-width="1.3"/>
<rect x="31.5" y="282" width="105.1" height="70.4" filter="url(#noise)" style="mix-blend-mode:overlay" opacity="0.4"/>
</g></g>
<line x1="84.6" y1="287" x2="84.6" y2="299" stroke="#3a3a3a" stroke-width="0.8" stroke-dasharray="1.2 1" opacity="0.8"/>
<line x1="83.7" y1="208.5" x2="83.7" y2="214" stroke="#3a3a3a" stroke-width="0.8" stroke-dasharray="1.2 1" opacity="0.8"/>
<text x="150.7" y="201" font-size="18" fill="#000" text-anchor="start" font-weight="bold">E</text>
<line x1="189.3" y1="210.5" x2="189.3" y2="325.5" stroke="#000" stroke-width="1.9"/>
<line x1="185" y1="324.9" x2="189.3" y2="324.9" stroke="#000" stroke-width="1.7"/>
<text x="183.8" y="327.78" font-size="8" fill="#000" text-anchor="end" font-weight="bold">0</text>
<line x1="185" y1="286.95" x2="189.3" y2="286.95" stroke="#000" stroke-width="1.7"/>
<text x="183.8" y="289.83" font-size="8" fill="#000" text-anchor="end" font-weight="bold">5</text>
<line x1="185" y1="249" x2="189.3" y2="249" stroke="#000" stroke-width="1.7"/>
<text x="183.8" y="251.88" font-size="8" fill="#000" text-anchor="end" font-weight="bold">10</text>
<line x1="185" y1="211.05" x2="189.3" y2="211.05" stroke="#000" stroke-width="1.7"/>
<text x="183.8" y="213.93" font-size="8" fill="#000" text-anchor="end" font-weight="bold">15</text>
<line x1="184.8" y1="325.2" x2="277.7" y2="325.2" stroke="#000" stroke-width="2"/>
<rect x="203.85" y="296.17" width="19.3" height="29.03" fill="#fff" stroke="#000" stroke-width="2.5"/>
<rect x="238.95" y="254.58" width="19.3" height="70.62" fill="#fff" stroke="#000" stroke-width="2.5"/>
<line x1="213.2" y1="325.2" x2="213.2" y2="330.3" stroke="#000" stroke-width="1.7"/>
<line x1="248.6" y1="325.2" x2="248.6" y2="330.3" stroke="#000" stroke-width="1.7"/>
<text x="213.4" y="339.1" font-size="8.3" fill="#000" text-anchor="middle" font-weight="bold">Control</text>
<text x="249.5" y="339.1" font-size="8.3" fill="#000" text-anchor="middle" font-weight="bold">PHH</text>
<line x1="213.2" y1="291.8" x2="213.2" y2="298.2" stroke="#000" stroke-width="1.6"/>
<line x1="209.2" y1="291.8" x2="217.2" y2="291.8" stroke="#000" stroke-width="1.6"/>
<line x1="209.2" y1="298.2" x2="217.2" y2="298.2" stroke="#000" stroke-width="1.6"/>
<line x1="248.7" y1="249.4" x2="248.7" y2="257.2" stroke="#000" stroke-width="1.6"/>
<line x1="243.5" y1="249.4" x2="253.9" y2="249.4" stroke="#000" stroke-width="1.6"/>
<line x1="243.5" y1="257.2" x2="253.9" y2="257.2" stroke="#000" stroke-width="1.6"/>
<circle cx="213.2" cy="287.7" r="1.75" fill="#000" stroke="#000" stroke-width="0.3"/>
<circle cx="213.2" cy="302.8" r="1.75" fill="#000" stroke="#000" stroke-width="0.3"/>
<circle cx="207.5" cy="295.6" r="1.75" fill="#000" stroke="#000" stroke-width="0.3"/>
<circle cx="212" cy="295.8" r="1.75" fill="#000" stroke="#000" stroke-width="0.3"/>
<circle cx="219" cy="295.4" r="1.75" fill="#000" stroke="#000" stroke-width="0.3"/>
<circle cx="245.2" cy="242.9" r="1.75" fill="#000" stroke="#000" stroke-width="0.3"/>
<circle cx="251.1" cy="246.3" r="1.75" fill="#000" stroke="#000" stroke-width="0.3"/>
<circle cx="245.2" cy="262.8" r="1.75" fill="#000" stroke="#000" stroke-width="0.3"/>
<circle cx="251.6" cy="259.8" r="1.75" fill="#000" stroke="#000" stroke-width="0.3"/>
<path d="M213.2 285 L213.2 224.1 L249.4 224.1 L249.4 240.5" stroke="#000" stroke-width="1.6" fill="none" stroke-linejoin="round" stroke-linecap="round"/>
<text x="230.9" y="221" font-size="8" fill="#000" text-anchor="middle" font-weight="bold">p&lt;0.0001</text>
<text x="170.6" y="272.1" font-size="7.85" fill="#000" text-anchor="middle" font-weight="bold" transform="rotate(-90 170.6 272.1)">Brain Ventricular Volume (mm<tspan font-size="5.2" dy="-2.7">3</tspan><tspan dy="2.7">)</tspan></text>
<text x="285.4" y="201" font-size="18" fill="#000" text-anchor="start" font-weight="bold">F</text>
<line x1="332.4" y1="206.8" x2="332.4" y2="325.9" stroke="#000" stroke-width="1.9"/>
<line x1="328.1" y1="325.3" x2="332.4" y2="325.3" stroke="#000" stroke-width="1.7"/>
<text x="326.8" y="328.25" font-size="8.2" fill="#000" text-anchor="end" font-weight="bold">0</text>
<line x1="328.1" y1="286.04" x2="332.4" y2="286.04" stroke="#000" stroke-width="1.7"/>
<text x="326.8" y="288.99" font-size="8.2" fill="#000" text-anchor="end" font-weight="bold">2</text>
<line x1="328.1" y1="246.78" x2="332.4" y2="246.78" stroke="#000" stroke-width="1.7"/>
<text x="326.8" y="249.73" font-size="8.2" fill="#000" text-anchor="end" font-weight="bold">4</text>
<line x1="328.1" y1="207.52" x2="332.4" y2="207.52" stroke="#000" stroke-width="1.7"/>
<text x="326.8" y="210.47" font-size="8.2" fill="#000" text-anchor="end" font-weight="bold">6</text>
<line x1="330.8" y1="325.3" x2="419.6" y2="325.3" stroke="#000" stroke-width="2"/>
<rect x="347.35" y="284.35" width="19.6" height="40.95" fill="#fff" stroke="#000" stroke-width="2.5"/>
<rect x="385.75" y="252.54" width="18.8" height="72.76" fill="#fff" stroke="#000" stroke-width="2.5"/>
<line x1="357.2" y1="325.3" x2="357.2" y2="330.3" stroke="#000" stroke-width="1.7"/>
<line x1="395.2" y1="325.3" x2="395.2" y2="330.3" stroke="#000" stroke-width="1.7"/>
<text x="357.4" y="339.4" font-size="8.3" fill="#000" text-anchor="middle" font-weight="bold">Control</text>
<text x="396" y="339.4" font-size="8.3" fill="#000" text-anchor="middle" font-weight="bold">PHH</text>
<line x1="357.2" y1="280.2" x2="357.2" y2="286.5" stroke="#000" stroke-width="1.6"/>
<line x1="354.2" y1="280.2" x2="360.2" y2="280.2" stroke="#000" stroke-width="1.6"/>
<line x1="354.2" y1="286.5" x2="360.2" y2="286.5" stroke="#000" stroke-width="1.6"/>
<line x1="395.2" y1="243.6" x2="395.2" y2="259.4" stroke="#000" stroke-width="1.6"/>
<line x1="390" y1="243.6" x2="400.4" y2="243.6" stroke="#000" stroke-width="1.6"/>
<line x1="390" y1="259.4" x2="400.4" y2="259.4" stroke="#000" stroke-width="1.6"/>
<circle cx="353.4" cy="276.3" r="1.85" fill="#fff" stroke="#000" stroke-width="1.45"/>
<circle cx="360.6" cy="278.1" r="1.85" fill="#fff" stroke="#000" stroke-width="1.45"/>
<circle cx="353.4" cy="281.5" r="1.85" fill="#fff" stroke="#000" stroke-width="1.45"/>
<circle cx="353.4" cy="289.6" r="1.85" fill="#fff" stroke="#000" stroke-width="1.45"/>
<circle cx="360.6" cy="287.8" r="1.85" fill="#fff" stroke="#000" stroke-width="1.45"/>
<circle cx="394.9" cy="221" r="1.85" fill="#fff" stroke="#000" stroke-width="1.45"/>
<circle cx="398" cy="251" r="1.85" fill="#fff" stroke="#000" stroke-width="1.45"/>
<circle cx="391" cy="255.3" r="1.85" fill="#fff" stroke="#000" stroke-width="1.45"/>
<circle cx="394.4" cy="268.5" r="1.85" fill="#fff" stroke="#000" stroke-width="1.45"/>
<circle cx="397" cy="257.5" r="1.85" fill="#fff" stroke="#000" stroke-width="1.45"/>
<path d="M357.8 269 L357.8 206.7 L394.9 206.7 L394.9 213.2" stroke="#000" stroke-width="1.6" fill="none" stroke-linejoin="round" stroke-linecap="round"/>
<text x="375.8" y="203.8" font-size="8" fill="#000" text-anchor="middle" font-weight="bold">p=0.0065</text>
<text x="305.1" y="271.2" font-size="9.2" fill="#000" text-anchor="middle" font-weight="bold" transform="rotate(-90 305.1 271.2)">Concentration of adenosine</text>
<text x="316.3" y="271.8" font-size="9.4" fill="#000" text-anchor="middle" font-weight="bold" transform="rotate(-90 316.3 271.8)">in mouse CSF ( μM )</text>
<text x="557.1" y="201" font-size="18" fill="#000" text-anchor="start" font-weight="bold">H</text>
<line x1="601.5" y1="206.5" x2="601.5" y2="325.7" stroke="#000" stroke-width="1.9"/>
<line x1="597.2" y1="325.1" x2="601.5" y2="325.1" stroke="#000" stroke-width="1.7"/>
<text x="596.6" y="328.05" font-size="8.2" fill="#000" text-anchor="end" font-weight="bold">0</text>
<line x1="597.2" y1="285.9" x2="601.5" y2="285.9" stroke="#000" stroke-width="1.7"/>
<text x="596.6" y="288.85" font-size="8.2" fill="#000" text-anchor="end" font-weight="bold">2</text>
<line x1="597.2" y1="246.7" x2="601.5" y2="246.7" stroke="#000" stroke-width="1.7"/>
<text x="596.6" y="249.65" font-size="8.2" fill="#000" text-anchor="end" font-weight="bold">4</text>
<line x1="597.2" y1="207.5" x2="601.5" y2="207.5" stroke="#000" stroke-width="1.7"/>
<text x="596.6" y="210.45" font-size="8.2" fill="#000" text-anchor="end" font-weight="bold">6</text>
<line x1="600" y1="325.1" x2="685" y2="325.1" stroke="#000" stroke-width="2"/>
<rect x="616.55" y="306.16" width="19.2" height="18.94" fill="#fff" stroke="#000" stroke-width="2.5"/>
<rect x="651.15" y="249.52" width="19.3" height="75.58" fill="#fff" stroke="#000" stroke-width="2.5"/>
<line x1="626" y1="325.1" x2="626" y2="330.3" stroke="#000" stroke-width="1.7"/>
<line x1="660.5" y1="325.1" x2="660.5" y2="330.3" stroke="#000" stroke-width="1.7"/>
<text x="626" y="338.9" font-size="8.3" fill="#000" text-anchor="middle" font-weight="bold">Control</text>
<text x="663" y="338.9" font-size="8.3" fill="#000" text-anchor="middle" font-weight="bold">PHH</text>
<line x1="660.6" y1="239.6" x2="660.6" y2="255.8" stroke="#000" stroke-width="1.6"/>
<line x1="655.4" y1="239.6" x2="665.8" y2="239.6" stroke="#000" stroke-width="1.6"/>
<line x1="655.4" y1="255.8" x2="665.8" y2="255.8" stroke="#000" stroke-width="1.6"/>
<circle cx="660.3" cy="225.8" r="1.75" fill="#000" stroke="#000" stroke-width="0.3"/>
<circle cx="660.3" cy="230.5" r="1.75" fill="#000" stroke="#000" stroke-width="0.3"/>
<circle cx="660.3" cy="255.8" r="1.75" fill="#000" stroke="#000" stroke-width="0.3"/>
<circle cx="660.3" cy="260.9" r="1.75" fill="#000" stroke="#000" stroke-width="0.3"/>
<circle cx="660.3" cy="265.6" r="1.75" fill="#000" stroke="#000" stroke-width="0.3"/>
<circle cx="616.8" cy="301.6" r="1.7" fill="#000" stroke="#000" stroke-width="0.3"/>
<circle cx="622.3" cy="304.5" r="1.7" fill="#000" stroke="#000" stroke-width="0.3"/>
<circle cx="628" cy="304.9" r="1.7" fill="#000" stroke="#000" stroke-width="0.3"/>
<circle cx="633" cy="304.9" r="1.7" fill="#000" stroke="#000" stroke-width="0.3"/>
<circle cx="636" cy="304.5" r="1.7" fill="#000" stroke="#000" stroke-width="0.3"/>
<path d="M624.3 297.6 L624.3 212.5 L660.3 212.5 L660.3 219.2" stroke="#000" stroke-width="1.6" fill="none" stroke-linejoin="round" stroke-linecap="round"/>
<text x="642.2" y="208.4" font-size="8" fill="#000" text-anchor="middle" font-weight="bold">p=0.0001</text>
<text x="564.2" y="269.2" font-size="9.7" font-weight="bold" text-anchor="middle" transform="rotate(-90 564.2 269.2)">A<tspan font-size="6.6">2A</tspan>R Fluorescence</text>
<text x="575.6" y="269.2" font-size="9.9" fill="#000" text-anchor="middle" font-weight="bold" transform="rotate(-90 575.6 269.2)">intensity (A.U.)</text>
</svg>
</body></html>
